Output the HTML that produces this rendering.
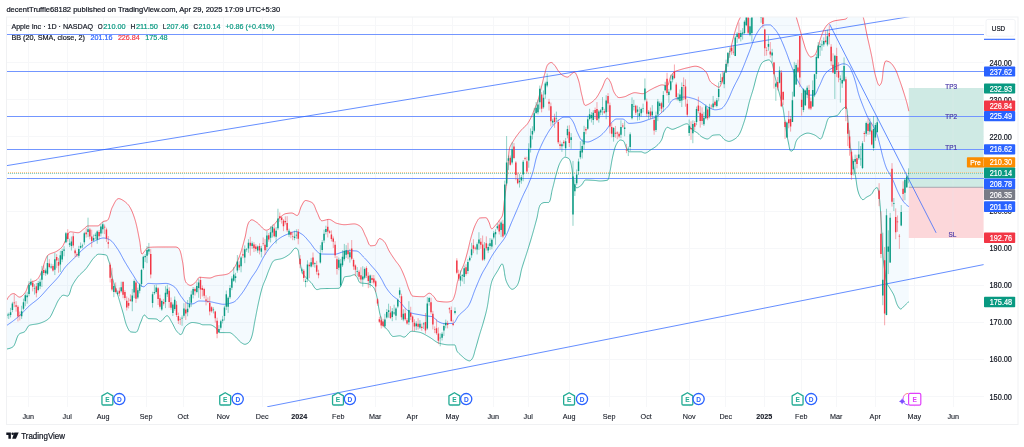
<!DOCTYPE html>
<html><head><meta charset="utf-8"><title>AAPL chart</title>
<style>
html,body{margin:0;padding:0;background:#fff;}
body{width:1024px;height:447px;overflow:hidden;font-family:"Liberation Sans",sans-serif;}
svg{display:block;will-change:transform;font-family:"Liberation Sans",sans-serif;}
text{white-space:pre;}
.k{stroke:#131722;stroke-width:0.22px;}
.k2{stroke:#131722;stroke-width:0.1px;}
</style></head><body>
<svg width="1024" height="447" viewBox="0 0 1024 447">
<defs>
<clipPath id="pane"><rect x="6.5" y="17" width="977.5" height="390"/></clipPath>
<linearGradient id="arcg" x1="0" y1="0" x2="0" y2="1"><stop offset="0" stop-color="#ff8a65"/><stop offset="0.35" stop-color="#e040fb"/><stop offset="1" stop-color="#7c4dff"/></linearGradient>
</defs>
<rect width="1024" height="447" fill="#fff"/>
<path d="M28.5 17V407M67.5 17V407M103.5 17V407M146.5 17V407M183.5 17V407M223.5 17V407M262.5 17V407M299.5 17V407M338.5 17V407M375.5 17V407M412.5 17V407M452.5 17V407M493.5 17V407M528.5 17V407M569.5 17V407M609.5 17V407M646.5 17V407M689.5 17V407M725.5 17V407M764.5 17V407M801.5 17V407M836.5 17V407M875.5 17V407M914.5 17V407M953.5 17V407M6.5 396.5H984M6.5 359.5H984M6.5 322.5H984M6.5 285.5H984M6.5 248.5H984M6.5 211.5H984M6.5 173.5H984M6.5 136.5H984M6.5 99.5H984M6.5 62.5H984M6.5 25.5H984" stroke="#f6f7f9" stroke-width="1" fill="none"/>
<g clip-path="url(#pane)">
<rect x="908.8" y="88" width="74.8" height="99.3" fill="#cfeae4"/>
<rect x="908.8" y="187.3" width="74.8" height="50.7" fill="#fcd7da"/>
<path d="M953 88V238" stroke="#e4e8ee" stroke-width="0.6" opacity="0.5"/>
<path d="M908.8 187.3H983.6" stroke="#9598a1" stroke-width="0.8"/>
<polygon points="6.8,300 7.47,298.7 8.16,297.55 8.86,296.55 9.58,295.69 10.31,294.99 11.06,294.43 11.82,294.01 12.59,293.74 13.38,293.61 14.18,293.68 15.02,294.09 15.88,294.75 16.77,295.51 17.65,296.25 18.51,296.82 19.35,297.09 20.18,297 21.02,296.65 21.87,296.09 22.7,295.38 23.5,294.57 24.24,293.71 24.91,292.87 25.48,292.08 25.97,291.26 26.39,290.33 26.76,289.34 27.1,288.3 27.43,287.27 27.78,286.26 28.15,285.31 28.56,284.44 29.05,283.7 29.63,283.1 30.38,282.59 31.27,282.15 32.26,281.75 33.3,281.37 34.33,280.99 35.32,280.59 36.22,280.13 36.98,279.61 37.6,278.99 38.19,278.28 38.75,277.48 39.28,276.63 39.78,275.72 40.25,274.77 40.7,273.81 41.12,272.84 41.52,271.88 41.9,270.94 42.26,270.02 42.59,269.08 42.88,268.12 43.16,267.16 43.42,266.19 43.68,265.21 43.95,264.24 44.23,263.27 44.53,262.32 44.86,261.38 45.22,260.44 45.59,259.46 45.99,258.46 46.42,257.48 46.89,256.58 47.4,255.78 47.97,255.14 48.64,254.61 49.44,254.16 50.33,253.76 51.3,253.39 52.31,253.05 53.33,252.7 54.35,252.34 55.33,251.95 56.24,251.51 57.08,251 57.93,250.46 58.78,249.87 59.61,249.25 60.4,248.6 61.15,247.91 61.84,247.2 62.45,246.47 62.98,245.68 63.45,244.82 63.87,243.91 64.28,242.97 64.68,242.03 65.1,241.1 65.56,240.19 66,239.18 66.44,238.08 66.87,236.92 67.3,235.77 67.76,234.67 68.23,233.68 68.74,232.85 69.29,232.23 69.88,231.87 70.55,231.81 71.36,231.87 72.31,231.99 73.35,232.15 74.44,232.32 75.55,232.49 76.63,232.61 77.64,232.69 78.56,232.66 79.43,232.39 80.28,231.91 81.11,231.28 81.92,230.56 82.73,229.83 83.54,229.14 84.35,228.53 85.14,227.78 85.92,227 86.71,226.33 87.53,225.94 88.42,225.9 89.37,225.9 90.37,225.9 91.41,225.9 92.46,225.9 93.52,225.9 94.57,225.9 95.6,225.9 96.58,225.9 97.51,225.9 98.37,225.78 99.17,225.33 99.93,224.65 100.68,223.84 101.43,223 102.2,222.22 103.02,221.62 103.92,221.28 104.99,221.07 106.06,220.89 106.91,220.65 107.48,220.26 107.98,219.72 108.42,219.03 108.81,218.22 109.17,217.31 109.49,216.31 109.79,215.25 110.09,214.15 110.38,213.02 110.67,211.89 110.98,210.77 111.32,209.69 111.68,208.66 112.09,207.71 112.55,206.82 113.04,205.84 113.55,204.79 114.09,203.71 114.65,202.64 115.24,201.62 115.84,200.69 116.47,199.88 117.12,199.24 117.78,198.8 118.46,198.61 119.19,198.65 120,198.86 120.88,199.19 121.81,199.64 122.76,200.19 123.71,200.81 124.65,201.48 125.55,202.18 126.39,202.9 127.15,203.61 127.81,204.3 128.38,204.98 128.94,205.7 129.47,206.48 129.98,207.3 130.47,208.16 130.94,209.05 131.4,209.97 131.83,210.92 132.25,211.88 132.65,212.86 133.03,213.84 133.4,214.83 133.75,215.82 134.09,216.8 134.41,217.77 134.71,218.72 135,219.66 135.28,220.6 135.55,221.56 135.81,222.51 136.06,223.47 136.3,224.44 136.53,225.41 136.76,226.39 136.98,227.36 137.19,228.34 137.39,229.33 137.6,230.31 137.8,231.3 137.99,232.29 138.19,233.28 138.38,234.27 138.57,235.26 138.76,236.25 138.95,237.23 139.14,238.22 139.34,239.2 139.54,240.19 139.73,241.2 139.91,242.32 140.07,243.54 140.22,244.81 140.36,246.12 140.5,247.42 140.65,248.7 140.8,249.91 140.96,251.03 141.14,252.03 141.34,252.87 141.57,253.54 141.83,253.99 142.12,254.19 142.51,253.99 143.12,253.2 143.83,252.18 144.53,251.27 145.18,250.44 145.85,249.53 146.54,248.65 147.26,247.93 148.02,247.48 148.83,247.36 149.71,247.3 150.63,247.24 151.6,247.19 152.61,247.14 153.64,247.1 154.69,247.07 155.75,247.05 156.81,247.03 157.86,247.01 158.9,247 159.92,247 160.92,247 161.93,247 162.95,247 163.97,247 164.99,247 166.01,247 167.03,247 168.05,247 169.06,247 170.07,247 171.07,247 172.06,247 173.05,247 174.02,247 174.97,247 175.92,247 176.94,247.25 177.93,247.76 178.65,248.35 179.11,248.95 179.53,249.65 179.91,250.44 180.25,251.31 180.56,252.25 180.84,253.25 181.1,254.28 181.34,255.35 181.57,256.44 181.78,257.54 181.98,258.63 182.17,259.71 182.36,260.76 182.55,261.77 182.74,262.75 182.91,263.76 183.06,264.79 183.19,265.83 183.32,266.89 183.43,267.96 183.53,269.03 183.63,270.11 183.73,271.18 183.83,272.24 183.93,273.29 184.04,274.33 184.16,275.34 184.3,276.33 184.45,277.3 184.61,278.23 184.8,279.12 185.01,279.97 185.25,280.78 185.52,281.54 185.95,282.33 186.63,283.17 187.46,283.97 188.39,284.66 189.33,285.16 190.23,285.39 191.07,285.3 191.96,284.95 192.86,284.42 193.75,283.77 194.6,283.08 195.37,282.44 196.06,281.66 196.68,280.69 197.27,279.66 197.85,278.69 198.46,277.89 199.13,277.4 199.88,277.3 200.72,277.33 201.64,277.39 202.62,277.48 203.65,277.57 204.7,277.68 205.78,277.78 206.85,277.87 207.91,277.94 208.94,277.99 209.93,278 210.89,277.86 211.83,277.55 212.77,277.14 213.7,276.7 214.65,276.3 215.6,276 216.58,275.8 217.58,275.62 218.6,275.47 219.63,275.34 220.66,275.22 221.69,275.11 222.71,274.99 223.71,274.85 224.69,274.7 225.64,274.52 226.56,274.31 227.43,274.06 228.29,273.69 229.14,273.18 229.97,272.57 230.77,271.87 231.53,271.12 232.24,270.35 232.89,269.58 233.48,268.84 234.03,268.06 234.55,267.25 235.06,266.4 235.54,265.52 236,264.62 236.44,263.7 236.87,262.76 237.28,261.82 237.67,260.87 238.06,259.91 238.43,258.97 238.8,258.03 239.15,257.1 239.5,256.17 239.84,255.24 240.16,254.3 240.48,253.36 240.8,252.41 241.1,251.46 241.4,250.5 241.69,249.54 241.98,248.58 242.26,247.62 242.53,246.65 242.81,245.68 243.08,244.72 243.34,243.75 243.61,242.78 243.87,241.81 244.13,240.84 244.39,239.87 244.65,238.9 244.92,237.94 245.16,236.96 245.39,235.95 245.6,234.93 245.8,233.89 245.99,232.85 246.17,231.8 246.36,230.76 246.55,229.72 246.74,228.7 246.96,227.7 247.19,226.72 247.44,225.77 247.72,224.86 248.03,223.98 248.37,223.16 248.76,222.38 249.29,221.58 250.05,220.74 250.92,220.07 251.79,219.8 252.64,219.94 253.53,220.32 254.45,220.86 255.36,221.47 256.24,222.07 257.08,222.62 257.9,223.27 258.7,224.01 259.48,224.81 260.26,225.64 261.03,226.48 261.79,227.3 262.55,228.07 263.31,228.76 264.07,229.35 264.84,229.8 265.61,230.09 266.39,230.2 267.19,230.09 268,229.78 268.83,229.31 269.65,228.7 270.48,228 271.29,227.23 272.09,226.42 272.87,225.62 273.63,224.86 274.35,224.15 275.04,223.44 275.69,222.67 276.31,221.87 276.92,221.06 277.54,220.25 278.16,219.46 278.81,218.69 279.48,217.98 280.21,217.32 280.97,216.65 281.76,215.96 282.58,215.3 283.43,214.69 284.3,214.18 285.19,213.79 286.09,213.57 287.05,213.41 288.05,213.27 289.08,213.15 290.1,213.06 291.11,213.01 292.07,213.02 293.06,213.32 294.06,213.86 295.03,214.51 295.92,215.09 296.69,215.45 297.3,215.46 297.82,215.13 298.29,214.54 298.71,213.72 299.1,212.74 299.46,211.63 299.82,210.44 300.19,209.24 300.57,208.06 300.99,206.95 301.45,205.97 301.95,205.07 302.48,204.05 303.04,202.98 303.63,201.99 304.26,201.18 304.93,200.65 305.64,200.5 306.5,200.59 307.5,200.8 308.57,201.1 309.65,201.47 310.67,201.9 311.58,202.35 312.31,202.81 312.9,203.34 313.43,204.02 313.91,204.81 314.35,205.7 314.77,206.66 315.16,207.67 315.55,208.71 315.94,209.75 316.35,210.76 316.77,211.74 317.23,212.66 317.69,213.62 318.14,214.7 318.59,215.84 319.04,216.99 319.51,218.07 320,219.05 320.52,219.87 321.09,220.46 321.71,220.77 322.41,220.77 323.26,220.62 324.23,220.38 325.27,220.09 326.35,219.8 327.42,219.56 328.44,219.42 329.39,219.43 330.3,219.66 331.19,220.06 332.07,220.58 332.94,221.18 333.82,221.79 334.7,222.37 335.6,222.88 336.52,223.25 337.46,223.5 338.43,223.76 339.41,224 340.4,224.22 341.39,224.41 342.39,224.56 343.39,224.66 344.39,224.7 345.38,224.68 346.38,224.62 347.39,224.53 348.4,224.42 349.41,224.3 350.42,224.18 351.42,224.07 352.41,223.98 353.39,223.92 354.35,223.9 355.34,224 356.36,224.26 357.37,224.64 358.33,225.11 359.22,225.62 359.99,226.14 360.63,226.68 361.22,227.32 361.76,228.06 362.27,228.88 362.74,229.77 363.19,230.7 363.62,231.68 364.04,232.68 364.46,233.68 364.88,234.67 365.32,235.64 365.77,236.57 366.25,237.48 366.7,238.5 367.12,239.62 367.54,240.78 367.97,241.93 368.41,243.02 368.87,244 369.37,244.82 369.92,245.42 370.53,245.75 371.25,245.79 372.25,245.73 373.37,245.62 374.4,245.48 375.19,245.24 375.85,244.63 376.43,243.71 376.97,242.6 377.48,241.43 377.99,240.32 378.53,239.39 379.13,238.78 379.81,238.6 380.64,238.84 381.58,239.33 382.52,239.98 383.34,240.66 383.99,241.3 384.58,242.01 385.12,242.79 385.62,243.63 386.09,244.52 386.54,245.44 386.97,246.38 387.4,247.34 387.83,248.3 388.27,249.26 388.72,250.19 389.2,251.09 389.71,251.95 390.24,252.8 390.77,253.65 391.31,254.49 391.85,255.33 392.41,256.17 392.96,257 393.52,257.83 394.09,258.65 394.66,259.48 395.23,260.3 395.81,261.11 396.42,261.91 397.04,262.7 397.67,263.49 398.29,264.29 398.88,265.09 399.45,265.91 399.97,266.75 400.45,267.61 400.92,268.48 401.37,269.37 401.8,270.27 402.22,271.18 402.63,272.1 403.03,273.02 403.42,273.95 403.8,274.89 404.18,275.82 404.56,276.75 404.93,277.68 405.29,278.61 405.64,279.55 405.97,280.5 406.29,281.45 406.6,282.41 406.91,283.37 407.21,284.32 407.52,285.28 407.84,286.23 408.16,287.18 408.5,288.12 408.86,289.05 409.23,289.97 409.63,290.88 410.05,291.81 410.49,292.87 410.96,293.97 411.48,294.96 412.04,295.71 412.66,296.09 413.37,296.2 414.21,296.3 415.15,296.39 416.16,296.47 417.23,296.53 418.34,296.58 419.45,296.63 420.56,296.66 421.64,296.68 422.66,296.7 423.6,296.69 424.51,296.41 425.39,295.84 426.26,295.11 427.11,294.36 427.95,293.7 428.78,293.29 429.6,293.22 430.42,293.51 431.24,294.05 432.05,294.78 432.83,295.59 433.57,296.42 434.27,297.17 434.88,298.04 435.44,299.03 435.99,299.98 436.59,300.71 437.28,301.05 438.08,301.23 438.97,301.4 439.94,301.54 440.96,301.67 442.02,301.78 443.1,301.86 444.18,301.93 445.25,301.97 446.29,302 447.3,301.99 448.37,301.9 449.46,301.72 450.49,301.48 451.37,301.19 452.04,300.85 452.61,300.26 453.12,299.43 453.58,298.44 453.99,297.36 454.35,296.29 454.67,295.28 454.96,294.35 455.21,293.39 455.45,292.43 455.66,291.46 455.85,290.48 456.04,289.49 456.21,288.5 456.39,287.5 456.56,286.5 456.74,285.51 456.92,284.52 457.12,283.53 457.34,282.55 457.58,281.58 457.84,280.62 458.11,279.66 458.39,278.7 458.69,277.75 458.99,276.79 459.31,275.84 459.63,274.89 459.97,273.95 460.3,273 460.65,272.06 461,271.12 461.35,270.19 461.71,269.26 462.11,268.34 462.53,267.43 462.95,266.52 463.36,265.6 463.74,264.68 464.09,263.75 464.41,262.8 464.72,261.86 465.02,260.9 465.31,259.95 465.59,258.98 465.86,258.02 466.13,257.05 466.39,256.09 466.65,255.12 466.91,254.15 467.16,253.18 467.42,252.21 467.68,251.25 467.92,250.28 468.16,249.3 468.4,248.33 468.63,247.36 468.85,246.38 469.08,245.4 469.3,244.43 469.53,243.45 469.76,242.48 470,241.5 470.23,240.53 470.48,239.56 470.74,238.6 471,237.64 471.28,236.68 471.56,235.72 471.84,234.76 472.13,233.79 472.42,232.82 472.72,231.85 473.03,230.88 473.35,229.91 473.67,228.95 474.01,228 474.37,227.07 474.74,226.14 475.13,225.23 475.53,224.33 475.96,223.46 476.42,222.58 476.92,221.6 477.46,220.57 478.06,219.6 478.71,218.78 479.4,218.21 480.15,217.98 481.05,217.9 482.11,217.82 483.24,217.77 484.33,217.73 485.32,217.7 486.1,217.72 486.77,218.14 487.37,218.95 487.93,219.98 488.44,221.07 488.92,222.03 489.35,223.03 489.73,224.19 490.09,225.42 490.43,226.59 490.78,227.61 491.18,228.38 491.62,228.77 492.17,228.7 492.84,228.22 493.59,227.47 494.38,226.56 495.14,225.65 495.84,224.85 496.49,224.09 497.13,223.32 497.75,222.54 498.36,221.74 498.95,220.93 499.53,220.11 500.11,219.29 500.72,218.45 501.32,217.61 501.86,216.75 502.28,215.87 502.56,214.96 502.76,214.04 502.95,213.1 503.12,212.14 503.26,211.16 503.4,210.18 503.52,209.18 503.63,208.17 503.73,207.16 503.83,206.14 503.93,205.13 504.02,204.11 504.12,203.09 504.21,202.07 504.32,201.06 504.43,200.06 504.55,199.06 504.68,198.07 504.81,197.08 504.94,196.09 505.07,195.1 505.19,194.1 505.32,193.11 505.45,192.12 505.58,191.13 505.7,190.13 505.82,189.14 505.94,188.15 506.06,187.15 506.17,186.16 506.28,185.17 506.38,184.17 506.48,183.18 506.58,182.18 506.67,181.19 506.76,180.19 506.85,179.19 506.93,178.2 507.02,177.2 507.1,176.2 507.18,175.21 507.26,174.21 507.34,173.21 507.42,172.21 507.5,171.22 507.57,170.22 507.65,169.22 507.73,168.22 507.81,167.23 507.9,166.23 507.98,165.23 508.06,164.24 508.14,163.23 508.21,162.22 508.28,161.21 508.34,160.19 508.4,159.18 508.47,158.16 508.53,157.15 508.6,156.14 508.68,155.13 508.76,154.13 508.85,153.14 508.95,152.15 509.06,151.18 509.19,150.21 509.33,149.26 509.49,148.32 509.76,147.4 510.12,146.48 510.56,145.58 511.05,144.68 511.58,143.79 512.13,142.91 512.67,142.04 513.2,141.18 513.7,140.32 514.23,139.47 514.78,138.63 515.34,137.8 515.91,136.98 516.49,136.16 517.08,135.36 517.68,134.56 518.29,133.76 518.9,132.97 519.53,132.18 520.16,131.41 520.81,130.64 521.47,129.89 522.14,129.15 522.84,128.44 523.59,127.76 524.34,127.08 525.1,126.41 525.82,125.72 526.5,125 527.12,124.24 527.69,123.44 528.24,122.61 528.76,121.76 529.26,120.88 529.74,119.99 530.21,119.09 530.66,118.19 531.1,117.3 531.53,116.4 531.94,115.49 532.33,114.57 532.72,113.65 533.1,112.72 533.47,111.79 533.84,110.86 534.21,109.92 534.59,109 534.97,108.07 535.36,107.15 535.77,106.23 536.18,105.31 536.58,104.39 536.96,103.47 537.31,102.54 537.63,101.6 537.93,100.65 538.22,99.7 538.5,98.74 538.76,97.77 539.02,96.8 539.26,95.83 539.51,94.86 539.75,93.89 539.98,92.91 540.22,91.94 540.46,90.96 540.7,89.99 540.94,89.02 541.19,88.05 541.43,87.08 541.67,86.11 541.91,85.13 542.14,84.16 542.37,83.18 542.6,82.21 542.83,81.23 543.06,80.26 543.29,79.29 543.53,78.32 543.77,77.35 544.02,76.38 544.28,75.41 544.54,74.45 544.82,73.49 545.09,72.52 545.35,71.5 545.61,70.45 545.88,69.4 546.16,68.36 546.46,67.36 546.8,66.42 547.18,65.56 547.61,64.8 548.13,64.14 548.93,63.46 549.89,62.88 550.85,62.54 551.69,62.59 552.51,63.06 553.3,63.8 554.05,64.65 554.74,65.44 555.35,66.2 555.91,67.02 556.44,67.88 556.95,68.76 557.47,69.63 558.02,70.47 558.62,71.27 559.25,72.05 559.91,72.84 560.6,73.61 561.32,74.32 562.09,74.93 562.9,75.43 563.8,75.93 564.76,76.4 565.74,76.78 566.7,77.03 567.59,77.09 568.42,76.78 569.22,76.16 570,75.38 570.79,74.62 571.6,73.97 572.48,73.24 573.34,72.56 574.1,72.21 574.73,72.34 575.33,72.85 575.89,73.64 576.42,74.63 576.91,75.74 577.35,76.89 577.75,78.01 578.1,79 578.42,79.92 578.7,80.86 578.97,81.81 579.21,82.77 579.44,83.73 579.66,84.71 579.86,85.7 580.06,86.69 580.25,87.68 580.44,88.68 580.63,89.67 580.82,90.67 581.02,91.66 581.24,92.65 581.46,93.63 581.7,94.6 581.96,95.57 582.23,96.58 582.49,97.73 582.76,98.96 583.02,100.22 583.31,101.45 583.61,102.6 583.95,103.62 584.31,104.46 584.73,105.06 585.19,105.37 585.76,105.35 586.6,105.08 587.6,104.65 588.65,104.13 589.62,103.6 590.47,103.1 591.3,102.55 592.13,101.95 592.93,101.31 593.7,100.64 594.44,99.94 595.13,99.23 595.78,98.51 596.38,97.76 596.96,96.97 597.51,96.14 598.03,95.3 598.54,94.43 599.04,93.54 599.52,92.64 600,91.74 600.48,90.84 600.96,89.95 601.45,89.07 601.94,88.17 602.42,87.15 602.88,86.04 603.34,84.89 603.79,83.72 604.25,82.57 604.7,81.47 605.16,80.48 605.64,79.61 606.12,78.9 606.62,78.4 607.14,78.13 607.7,78.18 608.33,78.71 609,79.59 609.64,80.63 610.21,81.64 610.66,82.52 611.06,83.43 611.41,84.37 611.72,85.34 612.02,86.33 612.3,87.33 612.58,88.32 612.88,89.3 613.2,90.26 613.55,91.18 613.95,92.06 614.41,92.88 614.95,93.77 615.56,94.72 616.25,95.65 616.99,96.48 617.77,97.13 618.58,97.52 619.41,97.59 620.32,97.53 621.32,97.4 622.35,97.21 623.39,96.99 624.4,96.75 625.35,96.49 626.26,96.1 627.15,95.61 628.03,95.11 628.94,94.68 629.87,94.28 630.8,93.85 631.75,93.44 632.7,93.08 633.66,92.82 634.62,92.7 635.6,92.73 636.59,92.84 637.6,92.99 638.61,93.18 639.62,93.37 640.62,93.53 641.6,93.65 642.56,93.7 643.49,93.61 644.4,93.35 645.3,92.96 646.19,92.46 647.07,91.89 647.95,91.3 648.83,90.71 649.72,90.17 650.61,89.69 651.5,89.24 652.39,88.77 653.28,88.3 654.17,87.85 655.07,87.41 655.98,87.01 656.91,86.62 657.84,86.19 658.78,85.76 659.73,85.38 660.69,85.09 661.65,84.92 662.63,84.93 663.72,85.12 664.83,85.41 665.86,85.69 666.7,85.87 667.29,85.85 667.77,85.5 668.18,84.87 668.53,84.01 668.85,82.98 669.15,81.82 669.45,80.6 669.75,79.36 670.08,78.16 670.46,77.06 670.89,76.11 671.39,75.23 671.94,74.33 672.54,73.47 673.19,72.72 673.89,72.14 674.67,71.67 675.52,71.25 676.45,70.88 677.42,70.54 678.42,70.22 679.43,69.93 680.43,69.64 681.41,69.36 682.37,69.07 683.33,68.8 684.3,68.54 685.27,68.29 686.24,68.06 687.22,67.83 688.2,67.61 689.18,67.37 690.16,67.12 691.15,66.87 692.14,66.64 693.12,66.44 694.11,66.29 695.08,66.21 696.05,66.22 697.04,66.36 698.03,66.61 699.01,66.96 699.96,67.36 700.87,67.79 701.72,68.22 702.55,68.73 703.37,69.33 704.16,70.02 704.9,70.75 705.58,71.52 706.19,72.3 706.71,73.09 707.17,73.96 707.56,74.89 707.93,75.86 708.27,76.85 708.61,77.85 708.96,78.82 709.35,79.75 709.79,80.61 710.3,81.4 710.91,82.11 711.62,82.79 712.41,83.43 713.25,84.04 714.12,84.61 714.98,85.16 715.86,85.72 716.83,86.32 717.8,86.87 718.65,87.22 719.31,87.27 719.86,86.86 720.35,86.07 720.79,85.04 721.19,83.86 721.57,82.68 721.92,81.61 722.27,80.68 722.59,79.74 722.91,78.8 723.21,77.85 723.5,76.9 723.78,75.94 724.05,74.98 724.32,74.01 724.57,73.04 724.82,72.07 725.07,71.09 725.31,70.12 725.56,69.14 725.8,68.16 726.04,67.19 726.28,66.21 726.53,65.24 726.78,64.27 727.03,63.3 727.28,62.33 727.53,61.36 727.78,60.39 728.02,59.43 728.27,58.45 728.51,57.48 728.75,56.51 728.99,55.54 729.23,54.57 729.47,53.6 729.7,52.63 729.94,51.66 730.18,50.68 730.42,49.71 730.66,48.74 730.91,47.77 731.15,46.8 731.38,45.83 731.62,44.85 731.85,43.88 732.08,42.91 732.31,41.93 732.54,40.96 732.78,39.98 733.01,39.01 733.25,38.04 733.5,37.07 733.75,36.1 734,35.14 734.26,34.17 734.53,33.21 734.8,32.25 735.08,31.29 735.36,30.33 735.65,29.37 735.95,28.41 736.25,27.45 736.56,26.5 736.87,25.55 737.2,24.6 737.54,23.66 737.88,22.72 738.24,21.79 738.61,20.87 739.03,19.96 739.48,19.06 739.94,18.17 740.38,17.27 740.77,16.36 741.14,15.42 741.48,14.48 741.82,13.52 742.14,12.56 742.46,11.6 742.77,10.63 743.09,9.68 743.43,8.73 743.77,7.79 744.14,6.87 744.53,5.97 744.95,5.1 745.4,4.22 745.87,3.32 746.37,2.41 746.89,1.48 747.43,0.54 747.99,-0.38 748.57,-1.3 749.18,-2.2 749.8,-3.07 750.44,-3.91 751.09,-4.7 751.77,-5.45 752.46,-6.14 753.16,-6.76 753.88,-7.32 754.62,-7.79 755.38,-8.19 756.18,-8.58 757.04,-8.96 757.95,-9.33 758.89,-9.69 759.86,-10.04 760.87,-10.36 761.89,-10.67 762.92,-10.96 763.96,-11.21 765,-11.44 766.03,-11.63 767.05,-11.79 768.06,-11.9 769.03,-11.97 769.97,-12 770.9,-11.96 771.84,-11.82 772.79,-11.61 773.75,-11.32 774.7,-10.97 775.65,-10.56 776.6,-10.09 777.54,-9.57 778.46,-9.02 779.37,-8.43 780.26,-7.82 781.12,-7.19 781.96,-6.55 782.77,-5.91 783.55,-5.26 784.28,-4.63 784.98,-4.01 785.65,-3.38 786.31,-2.7 786.95,-1.97 787.58,-1.21 788.18,-0.4 788.78,0.43 789.35,1.29 789.9,2.17 790.44,3.06 790.96,3.97 791.45,4.88 791.93,5.8 792.38,6.71 792.82,7.61 793.23,8.5 793.61,9.41 793.97,10.33 794.32,11.27 794.65,12.22 794.97,13.18 795.28,14.14 795.59,15.1 795.9,16.06 796.2,17.01 796.51,17.96 796.81,18.91 797.1,19.87 797.39,20.83 797.67,21.79 797.95,22.75 798.23,23.71 798.51,24.67 798.79,25.63 799.07,26.59 799.35,27.55 799.62,28.52 799.89,29.48 800.16,30.44 800.43,31.41 800.69,32.37 800.96,33.34 801.23,34.3 801.49,35.27 801.77,36.23 802.04,37.19 802.32,38.15 802.6,39.11 802.9,40.06 803.19,41.02 803.48,41.99 803.76,42.96 804.04,43.94 804.33,44.92 804.62,45.9 804.92,46.87 805.23,47.83 805.56,48.77 805.92,49.7 806.29,50.61 806.69,51.49 807.13,52.35 807.63,53.32 808.19,54.37 808.82,55.36 809.48,56.21 810.19,56.79 810.92,57 811.78,56.83 812.78,56.41 813.76,55.84 814.58,55.22 815.15,54.58 815.63,53.82 816.06,52.93 816.45,51.97 816.8,50.96 817.13,49.93 817.46,48.92 817.78,47.96 818.1,47.01 818.39,46.06 818.67,45.1 818.94,44.13 819.2,43.17 819.46,42.2 819.73,41.23 820.01,40.27 820.3,39.31 820.61,38.36 820.93,37.42 821.26,36.46 821.59,35.5 821.93,34.55 822.28,33.6 822.65,32.66 823.03,31.73 823.43,30.81 823.85,29.92 824.31,29.05 824.79,28.2 825.33,27.34 825.91,26.49 826.54,25.66 827.21,24.9 827.91,24.21 828.64,23.62 829.44,23.07 830.31,22.55 831.22,22.07 832.16,21.63 833.11,21.26 834.07,20.96 835.02,20.73 835.99,20.54 836.98,20.38 837.98,20.24 838.98,20.09 839.97,19.94 840.98,19.78 842.03,19.65 843.09,19.52 844.11,19.38 845.07,19.19 845.91,18.93 846.62,18.4 847.25,17.52 847.83,16.67 848.37,15.78 848.87,14.83 849.35,13.85 849.83,12.89 850.32,11.97 850.85,11.15 851.44,10.46 852.1,9.94 852.92,9.48 853.89,9.05 854.94,8.65 856.01,8.33 857,8.1 857.86,8 858.58,8.19 859.24,8.84 859.85,9.79 860.4,10.84 860.91,11.84 861.38,12.71 861.82,13.61 862.23,14.53 862.61,15.47 862.95,16.42 863.25,17.36 863.52,18.31 863.78,19.27 864.03,20.23 864.26,21.2 864.48,22.17 864.69,23.15 864.89,24.13 865.08,25.11 865.27,26.1 865.46,27.09 865.64,28.08 865.82,29.07 866,30.06 866.19,31.05 866.38,32.03 866.57,33.02 866.77,34 866.97,34.98 867.19,35.96 867.4,36.94 867.62,37.91 867.84,38.89 868.06,39.86 868.28,40.84 868.5,41.82 868.72,42.79 868.94,43.77 869.16,44.74 869.38,45.72 869.6,46.69 869.82,47.67 870.04,48.65 870.26,49.62 870.48,50.6 870.69,51.58 870.91,52.55 871.12,53.53 871.33,54.51 871.54,55.49 871.74,56.47 871.94,57.45 872.12,58.44 872.31,59.43 872.48,60.42 872.66,61.41 872.83,62.4 873,63.39 873.17,64.38 873.34,65.38 873.52,66.37 873.69,67.36 873.88,68.35 874.06,69.33 874.25,70.31 874.45,71.29 874.66,72.27 874.87,73.24 875.1,74.21 875.34,75.17 875.59,76.13 875.85,77.08 876.13,78.04 876.44,79.14 876.78,80.34 877.16,81.56 877.56,82.73 877.98,83.79 878.42,84.65 878.87,85.24 879.33,85.5 879.86,85.24 880.5,84.43 881.1,83.35 881.54,82.29 881.79,81.37 882,80.45 882.17,79.49 882.32,78.52 882.45,77.53 882.57,76.53 882.67,75.52 882.76,74.5 882.85,73.47 882.95,72.45 883.05,71.42 883.16,70.41 883.29,69.4 883.44,68.4 883.61,67.42 883.81,66.45 884.05,65.36 884.33,64.14 884.67,62.93 885.05,61.89 885.5,61.16 886.02,60.9 886.81,61.04 887.87,61.36 888.93,61.77 889.76,62.21 890.52,62.75 891.25,63.41 891.94,64.16 892.6,64.97 893.23,65.84 893.81,66.72 894.36,67.61 894.87,68.48 895.34,69.32 895.79,70.19 896.21,71.08 896.6,71.99 896.98,72.92 897.35,73.86 897.7,74.81 898.04,75.77 898.38,76.73 898.71,77.69 899.05,78.64 899.39,79.59 899.73,80.53 900.07,81.47 900.4,82.41 900.73,83.35 901.06,84.3 901.38,85.25 901.7,86.19 902.02,87.14 902.33,88.09 902.64,89.05 902.95,90 903.26,90.95 903.56,91.9 903.86,92.86 904.16,93.81 904.46,94.77 904.76,95.72 905.06,96.68 905.35,97.63 905.64,98.59 905.93,99.55 906.21,100.51 906.49,101.47 906.76,102.44 907.02,103.4 907.27,104.37 907.51,105.34 907.74,106.31 907.97,107.28 908.19,108.26 908.4,109.24 908.6,110.22 908.8,111.2 908.8,301.6 908.09,302.31 907.38,303.01 906.66,303.71 905.93,304.39 905.2,305.07 904.45,305.74 903.69,306.51 902.91,307.37 902.13,308.16 901.36,308.76 900.63,309 899.91,308.73 899.19,308.02 898.51,307.06 897.92,306.08 897.44,305.23 897.02,304.36 896.65,303.46 896.31,302.52 895.99,301.56 895.69,300.59 895.4,299.61 895.1,298.63 894.8,297.65 894.47,296.69 894.12,295.75 893.72,294.84 893.29,293.95 892.81,293.07 892.31,292.21 891.79,291.35 891.27,290.49 890.73,289.64 890.21,288.78 889.69,287.92 889.14,287.07 888.55,286.23 887.98,285.38 887.46,284.52 887.05,283.64 886.77,282.73 886.53,281.79 886.32,280.83 886.13,279.86 885.96,278.87 885.81,277.87 885.66,276.87 885.53,275.86 885.39,274.85 885.26,273.84 885.12,272.84 884.98,271.84 884.83,270.85 884.67,269.86 884.52,268.88 884.37,267.89 884.22,266.89 884.07,265.9 883.92,264.91 883.78,263.92 883.65,262.93 883.52,261.94 883.39,260.94 883.28,259.95 883.18,258.96 883.08,257.96 883,256.97 882.92,255.97 882.85,254.98 882.79,253.98 882.72,252.98 882.66,251.98 882.61,250.99 882.56,249.99 882.5,248.99 882.45,247.99 882.41,246.99 882.36,245.99 882.31,244.99 882.27,243.99 882.22,242.99 882.18,241.99 882.13,240.99 882.08,239.99 882.03,238.99 881.98,237.99 881.93,236.99 881.88,235.99 881.83,234.99 881.78,233.99 881.73,232.99 881.68,231.99 881.63,230.99 881.58,230 881.53,229 881.48,228 881.43,227 881.38,226 881.33,225 881.28,224 881.22,223 881.17,222 881.11,221 881.05,220.01 881,219.01 880.94,218.01 880.89,217.01 880.83,216.01 880.77,215.01 880.71,214.01 880.65,213.01 880.59,212.01 880.53,211.01 880.46,210.02 880.39,209.02 880.32,208.02 880.25,207.02 880.17,206.03 880.09,205.03 880,204.03 879.92,203.03 879.84,202.03 879.75,201.02 879.66,200.02 879.56,199.02 879.45,198.02 879.34,197.02 879.22,196.02 879.09,195.03 878.94,194.05 878.79,193.07 878.61,192.1 878.42,191.1 878.18,189.9 877.86,188.7 877.46,187.84 876.95,187.62 876.03,188.04 875.13,188.65 874.49,189.33 873.93,190.16 873.42,191.07 872.93,192.02 872.42,192.94 871.87,193.77 871.23,194.47 870.47,195.04 869.63,195.56 868.73,196.04 867.81,196.51 866.9,196.99 866.05,197.55 865.2,198.26 864.36,198.99 863.55,199.53 862.77,199.69 861.99,199.25 861.24,198.4 860.61,197.48 860.13,196.66 859.69,195.8 859.28,194.89 858.9,193.94 858.56,192.97 858.25,191.99 857.97,191 857.72,190.02 857.5,189.06 857.3,188.09 857.12,187.11 856.95,186.13 856.8,185.14 856.65,184.15 856.52,183.15 856.38,182.15 856.25,181.16 856.11,180.16 855.96,179.17 855.81,178.18 855.65,177.19 855.47,176.2 855.3,175.22 855.12,174.23 854.94,173.25 854.75,172.27 854.56,171.29 854.37,170.3 854.18,169.32 853.99,168.34 853.8,167.36 853.62,166.37 853.43,165.39 853.24,164.41 853.06,163.42 852.88,162.44 852.71,161.45 852.54,160.47 852.36,159.48 852.18,158.5 852,157.51 851.82,156.53 851.64,155.54 851.46,154.56 851.28,153.57 851.11,152.58 850.93,151.6 850.77,150.61 850.6,149.62 850.45,148.64 850.3,147.65 850.16,146.66 850.03,145.67 849.9,144.68 849.79,143.69 849.68,142.69 849.58,141.7 849.49,140.71 849.4,139.71 849.32,138.71 849.24,137.72 849.16,136.72 849.09,135.72 849.02,134.72 848.95,133.72 848.88,132.72 848.81,131.72 848.75,130.72 848.68,129.72 848.61,128.73 848.54,127.73 848.46,126.73 848.39,125.73 848.31,124.73 848.22,123.74 848.13,122.74 848.04,121.74 847.94,120.75 847.83,119.73 847.73,118.59 847.64,117.37 847.54,116.08 847.44,114.77 847.34,113.45 847.23,112.17 847.1,110.95 846.96,109.83 846.81,108.83 846.63,107.99 846.43,107.33 846.21,106.89 845.95,106.71 845.54,106.84 844.79,107.32 843.85,108.03 842.88,108.82 842.04,109.57 841.35,110.29 840.72,111.13 840.12,112.03 839.53,112.93 838.94,113.79 838.31,114.55 837.63,115.17 836.88,115.6 835.97,115.91 834.93,116.16 833.81,116.36 832.69,116.55 831.6,116.74 830.62,116.96 829.79,117.24 829.17,117.59 828.67,118.08 828.21,118.71 827.8,119.47 827.42,120.34 827.08,121.29 826.75,122.31 826.44,123.38 826.14,124.49 825.85,125.61 825.54,126.72 825.23,127.81 824.9,128.86 824.54,129.85 824.16,130.81 823.8,131.9 823.44,133.09 823.08,134.3 822.71,135.49 822.32,136.59 821.91,137.54 821.47,138.28 820.98,138.75 820.45,138.9 819.81,138.7 819.06,138.23 818.23,137.59 817.34,136.85 816.42,136.11 815.49,135.46 814.58,134.99 813.66,134.62 812.71,134.25 811.74,133.89 810.75,133.58 809.76,133.33 808.79,133.16 807.83,133.1 806.88,133.17 805.91,133.37 804.93,133.69 803.96,134.1 803.01,134.58 802.1,135.1 801.22,135.65 800.41,136.21 799.66,136.76 798.93,137.42 798.23,138.17 797.57,138.98 796.98,139.83 796.46,140.69 796.04,141.56 795.7,142.52 795.42,143.54 795.17,144.6 794.93,145.66 794.69,146.7 794.41,147.69 794.09,148.59 793.69,149.38 793.16,150.05 792.2,150.71 791.25,151.15 790.73,151.12 790.32,150.69 789.97,149.93 789.66,148.93 789.39,147.76 789.15,146.5 788.93,145.23 788.71,144.03 788.49,142.97 788.28,142 788.07,141.03 787.88,140.05 787.69,139.07 787.51,138.09 787.33,137.1 787.16,136.11 787,135.13 786.84,134.14 786.68,133.15 786.53,132.16 786.37,131.16 786.22,130.17 786.08,129.18 785.93,128.19 785.78,127.2 785.63,126.21 785.47,125.22 785.32,124.23 785.18,123.24 785.04,122.25 784.91,121.26 784.77,120.26 784.65,119.27 784.52,118.28 784.39,117.28 784.26,116.29 784.13,115.3 783.99,114.31 783.86,113.32 783.71,112.33 783.56,111.34 783.41,110.35 783.24,109.37 783.07,108.38 782.88,107.4 782.68,106.42 782.45,105.45 782.22,104.48 781.98,103.5 781.73,102.53 781.49,101.56 781.25,100.59 781,99.62 780.75,98.66 780.49,97.69 780.23,96.72 779.97,95.76 779.71,94.79 779.45,93.82 779.19,92.86 778.92,91.89 778.66,90.93 778.4,89.96 778.15,88.99 777.89,88.03 777.64,87.06 777.39,86.09 777.13,85.12 776.88,84.15 776.63,83.19 776.38,82.22 776.13,81.25 775.89,80.28 775.64,79.31 775.4,78.34 775.16,77.37 774.92,76.4 774.68,75.42 774.46,74.44 774.26,73.43 774.07,72.41 773.89,71.38 773.72,70.35 773.54,69.33 773.35,68.31 773.15,67.31 772.93,66.33 772.69,65.39 772.41,64.47 772.1,63.6 771.74,62.77 771.22,61.85 770.52,60.92 769.73,60.2 768.91,59.9 768.04,59.97 767.03,60.18 765.96,60.5 764.92,60.89 763.96,61.33 763.16,61.79 762.54,62.29 761.96,62.92 761.42,63.67 760.93,64.52 760.46,65.45 760.02,66.43 759.61,67.46 759.22,68.5 758.84,69.53 758.49,70.54 758.14,71.5 757.8,72.43 757.48,73.36 757.17,74.31 756.88,75.26 756.6,76.21 756.33,77.18 756.07,78.14 755.81,79.11 755.56,80.08 755.32,81.06 755.07,82.04 754.83,83.01 754.59,83.99 754.34,84.97 754.09,85.94 753.84,86.91 753.57,87.88 753.3,88.84 753.02,89.8 752.73,90.76 752.44,91.72 752.14,92.67 751.84,93.63 751.53,94.58 751.23,95.54 750.93,96.49 750.63,97.45 750.34,98.4 750.05,99.36 749.77,100.32 749.5,101.28 749.23,102.24 748.99,103.21 748.75,104.18 748.51,105.16 748.29,106.13 748.07,107.11 747.85,108.08 747.63,109.06 747.4,110.04 747.17,111.01 746.94,111.98 746.7,112.95 746.44,113.92 746.18,114.89 745.92,115.85 745.65,116.82 745.37,117.78 745.09,118.74 744.8,119.7 744.5,120.66 744.2,121.61 743.89,122.56 743.57,123.5 743.24,124.45 742.92,125.41 742.59,126.38 742.26,127.36 741.91,128.33 741.56,129.29 741.19,130.24 740.81,131.18 740.4,132.09 739.98,132.98 739.52,133.85 739.04,134.67 738.52,135.46 737.91,136.25 737.23,137.01 736.48,137.73 735.69,138.39 734.89,138.95 734.05,139.45 733.16,139.97 732.23,140.46 731.27,140.88 730.31,141.2 729.35,141.38 728.4,141.36 727.43,141.12 726.47,140.73 725.54,140.28 724.68,139.81 723.9,139.17 723.16,138.36 722.45,137.46 721.75,136.58 721.04,135.79 720.3,135.19 719.5,134.84 718.63,134.8 717.67,134.83 716.64,134.89 715.59,134.96 714.55,135.06 713.57,135.17 712.66,135.38 711.8,135.88 710.97,136.58 710.16,137.36 709.35,138.1 708.52,138.68 707.67,138.98 706.77,138.95 705.83,138.74 704.86,138.4 703.9,137.96 702.96,137.47 702.06,136.97 701.23,136.46 700.47,135.85 699.74,135.15 699.03,134.42 698.3,133.71 697.53,133.07 696.71,132.5 695.86,131.96 694.99,131.44 694.12,130.92 693.27,130.38 692.45,129.82 691.69,129.2 690.99,128.42 690.33,127.48 689.71,126.49 689.09,125.53 688.45,124.7 687.78,124.09 687.06,123.81 686.28,123.85 685.43,124.03 684.54,124.33 683.61,124.72 682.65,125.17 681.67,125.65 680.69,126.14 679.71,126.62 678.75,127.05 677.8,127.41 676.86,127.82 675.91,128.25 674.96,128.66 674.01,129.01 673.06,129.24 672.12,129.29 671.15,129.04 670.16,128.56 669.19,128 668.28,127.52 667.48,127.3 666.77,127.53 666.11,128.23 665.51,129.2 664.97,130.27 664.5,131.25 664.1,132.14 663.76,133.07 663.45,134.04 663.17,135.02 662.9,136.02 662.63,137 662.33,137.97 661.99,138.9 661.61,139.79 661.15,140.63 660.62,141.47 660.03,142.28 659.38,143.08 658.7,143.85 657.99,144.59 657.26,145.29 656.54,145.95 655.79,146.58 654.99,147.17 654.16,147.73 653.31,148.28 652.44,148.81 651.57,149.33 650.72,149.85 649.86,150.43 649.01,151.08 648.15,151.72 647.27,152.3 646.39,152.76 645.5,153.04 644.59,153.07 643.66,152.78 642.71,152.32 641.74,151.92 640.77,151.8 639.77,151.8 638.72,151.8 637.64,151.8 636.55,151.8 635.46,151.8 634.38,151.8 633.32,151.8 632.31,151.8 631.35,151.8 630.46,151.8 629.65,151.8 628.92,151.71 628.26,151.16 627.64,150.26 627.08,149.21 626.56,148.19 626.09,147.29 625.7,146.29 625.36,145.23 625.03,144.16 624.69,143.14 624.31,142.22 623.86,141.47 623.3,140.93 622.43,140.48 621.37,140.13 620.43,140 619.6,140.26 618.8,140.86 618.04,141.69 617.37,142.63 616.8,143.55 616.35,144.37 615.95,145.21 615.57,146.09 615.22,147.01 614.9,147.95 614.6,148.92 614.31,149.9 614.05,150.9 613.79,151.9 613.55,152.91 613.31,153.92 613.09,154.92 612.86,155.91 612.63,156.89 612.42,157.86 612.22,158.84 612.03,159.82 611.85,160.8 611.67,161.79 611.5,162.77 611.34,163.76 611.18,164.75 611.01,165.74 610.85,166.73 610.68,167.72 610.51,168.71 610.33,169.69 610.14,170.67 609.94,171.65 609.73,172.64 609.53,173.74 609.33,174.93 609.12,176.14 608.9,177.3 608.66,178.35 608.37,179.2 608.04,179.79 607.62,180.08 606.98,180.29 606.12,180.48 605.09,180.64 603.96,180.78 602.78,180.88 601.6,180.96 600.49,181 599.48,180.99 598.49,180.9 597.49,180.77 596.5,180.63 595.5,180.52 594.49,180.44 593.44,180.37 592.37,180.3 591.28,180.23 590.21,180.17 589.16,180.11 588.15,180.07 587.19,180.03 586.31,180.01 585.51,180 584.81,180.25 584.2,180.91 583.63,181.83 583.07,182.88 582.49,183.9 581.85,184.77 581.1,185.42 580.24,186.09 579.32,186.75 578.39,187.3 577.51,187.68 576.73,187.8 575.98,187.47 575.23,186.72 574.56,185.74 574.04,184.7 573.74,183.78 573.54,182.89 573.36,181.98 573.21,181.03 573.09,180.06 572.98,179.07 572.88,178.06 572.79,177.04 572.71,176.01 572.63,174.97 572.55,173.93 572.47,172.9 572.37,171.87 572.26,170.84 572.13,169.84 571.98,168.84 571.8,167.86 571.61,166.81 571.41,165.71 571.19,164.59 570.95,163.48 570.67,162.4 570.37,161.39 570.03,160.46 569.65,159.64 569.22,158.97 568.73,158.46 567.91,157.99 566.86,157.57 565.78,157.29 564.87,157.2 564.09,157.44 563.32,157.98 562.58,158.75 561.89,159.66 561.25,160.65 560.68,161.62 560.19,162.51 559.76,163.35 559.37,164.23 559,165.13 558.65,166.07 558.33,167.02 558.02,167.99 557.72,168.97 557.44,169.95 557.17,170.94 556.89,171.93 556.62,172.91 556.34,173.88 556.06,174.84 555.79,175.8 555.53,176.77 555.28,177.73 555.03,178.7 554.78,179.67 554.54,180.64 554.3,181.61 554.06,182.59 553.83,183.56 553.59,184.53 553.35,185.5 553.1,186.48 552.85,187.44 552.6,188.41 552.33,189.38 552.08,190.39 551.84,191.51 551.61,192.72 551.39,193.98 551.17,195.25 550.95,196.52 550.72,197.74 550.47,198.89 550.19,199.93 549.89,200.84 549.55,201.58 549.16,202.12 548.73,202.43 548.22,202.5 547.37,202.5 546.26,202.5 545.11,202.5 544.1,202.53 543.06,202.8 542.04,203.27 541.17,203.85 540.57,204.44 540.15,205.06 539.78,205.78 539.44,206.58 539.14,207.46 538.87,208.4 538.63,209.39 538.41,210.43 538.2,211.5 538,212.59 537.8,213.68 537.6,214.78 537.4,215.87 537.19,216.94 536.96,217.97 536.71,218.96 536.45,219.93 536.18,220.89 535.92,221.86 535.66,222.83 535.39,223.79 535.13,224.76 534.87,225.72 534.6,226.69 534.33,227.65 534.07,228.61 533.8,229.58 533.53,230.54 533.26,231.5 532.99,232.47 532.71,233.43 532.44,234.39 532.16,235.35 531.88,236.31 531.6,237.27 531.32,238.23 531.04,239.19 530.75,240.15 530.46,241.11 530.17,242.07 529.88,243.02 529.59,243.98 529.29,244.94 529,245.89 528.7,246.85 528.41,247.8 528.11,248.76 527.81,249.71 527.51,250.67 527.21,251.62 526.91,252.58 526.61,253.53 526.3,254.48 525.99,255.43 525.68,256.38 525.37,257.33 525.05,258.28 524.74,259.23 524.42,260.18 524.11,261.13 523.79,262.08 523.48,263.04 523.18,263.99 522.88,264.94 522.58,265.9 522.28,266.85 522,267.81 521.72,268.78 521.47,269.77 521.23,270.79 521.01,271.81 520.79,272.85 520.58,273.89 520.37,274.93 520.17,275.97 519.95,277.01 519.73,278.03 519.5,279.03 519.26,280.01 518.99,280.97 518.71,281.9 518.4,282.79 518.07,283.65 517.7,284.46 517.3,285.23 516.8,286 516.1,286.83 515.27,287.65 514.37,288.38 513.48,288.94 512.65,289.26 511.95,289.26 511.25,288.97 510.55,288.43 509.86,287.7 509.19,286.82 508.56,285.83 507.96,284.78 507.41,283.72 506.92,282.69 506.5,281.73 506.14,280.83 505.83,279.82 505.54,278.71 505.28,277.52 505.04,276.28 504.82,275.01 504.62,273.71 504.43,272.42 504.24,271.15 504.05,269.92 503.86,268.75 503.67,267.66 503.46,266.67 503.24,265.8 503.01,265.07 502.74,264.5 502.46,264.11 502.14,263.92 501.77,263.97 501.33,264.38 500.81,265.08 500.25,266 499.66,267.06 499.07,268.18 498.48,269.29 497.93,270.3 497.41,271.18 496.88,272.04 496.34,272.9 495.79,273.76 495.24,274.62 494.7,275.49 494.18,276.36 493.68,277.24 493.2,278.12 492.76,279.01 492.37,279.91 492.02,280.82 491.73,281.74 491.47,282.67 491.22,283.6 490.99,284.55 490.77,285.5 490.56,286.47 490.37,287.43 490.18,288.41 490,289.39 489.84,290.38 489.67,291.37 489.52,292.36 489.37,293.36 489.22,294.36 489.08,295.36 488.94,296.36 488.8,297.37 488.65,298.38 488.51,299.38 488.37,300.39 488.22,301.39 488.07,302.39 487.91,303.39 487.74,304.39 487.57,305.39 487.39,306.38 487.2,307.36 487,308.34 486.79,309.32 486.56,310.29 486.34,311.27 486.1,312.24 485.86,313.21 485.61,314.18 485.35,315.14 485.1,316.11 484.83,317.08 484.57,318.04 484.3,319.01 484.03,319.97 483.76,320.94 483.48,321.9 483.21,322.86 482.93,323.82 482.65,324.78 482.36,325.74 482.07,326.7 481.77,327.65 481.47,328.61 481.17,329.56 480.87,330.51 480.57,331.47 480.27,332.42 479.97,333.38 479.68,334.34 479.39,335.29 479.11,336.25 478.83,337.21 478.55,338.18 478.28,339.14 478.01,340.1 477.75,341.07 477.48,342.03 477.21,343 476.94,343.96 476.67,344.92 476.39,345.88 476.11,346.84 475.83,347.8 475.54,348.76 475.24,349.72 474.96,350.71 474.7,351.72 474.43,352.74 474.16,353.75 473.88,354.75 473.57,355.73 473.23,356.66 472.86,357.55 472.43,358.37 471.94,359.12 471.24,359.95 470.4,360.64 469.52,360.9 468.59,360.71 467.6,360.33 466.68,359.89 465.83,359.42 465.02,358.85 464.23,358.21 463.46,357.54 462.71,356.84 461.97,356.16 461.22,355.49 460.45,354.82 459.67,354.13 458.92,353.43 458.22,352.71 457.58,351.96 457.04,351.17 456.61,350.23 456.27,349.07 455.97,347.83 455.68,346.65 455.36,345.68 454.96,345.05 454.45,344.9 453.67,344.9 452.68,344.9 451.56,344.9 450.42,344.9 449.33,344.9 448.33,344.88 447.33,344.82 446.32,344.72 445.31,344.58 444.3,344.41 443.3,344.21 442.32,344 441.35,343.77 440.39,343.53 439.46,343.29 438.56,342.99 437.67,342.61 436.81,342.16 435.95,341.65 435.11,341.09 434.28,340.5 433.44,339.89 432.61,339.28 431.77,338.68 430.93,338.09 430.07,337.55 429.21,337.05 428.33,336.56 427.45,336.04 426.57,335.52 425.69,335 424.8,334.48 423.91,334 423.01,333.54 422.1,333.13 421.18,332.77 420.25,332.48 419.31,332.26 418.33,332.07 417.33,331.89 416.3,331.72 415.27,331.57 414.25,331.45 413.26,331.36 412.3,331.31 411.4,331.32 410.55,331.6 409.74,332.15 408.95,332.88 408.18,333.74 407.42,334.63 406.65,335.48 405.87,336.23 405.07,336.78 404.23,337.07 403.34,337.02 402.41,336.65 401.45,336.19 400.47,335.85 399.49,335.81 398.47,335.89 397.41,336.03 396.35,336.18 395.33,336.33 394.37,336.45 393.5,336.5 392.72,336.37 392.01,335.96 391.34,335.31 390.7,334.49 390.09,333.55 389.48,332.56 388.87,331.56 388.24,330.62 387.58,329.79 386.86,329.08 386.08,328.39 385.29,327.71 384.55,327.02 383.92,326.29 383.44,325.51 383.03,324.67 382.65,323.8 382.3,322.89 381.97,321.95 381.66,320.99 381.37,320.01 381.1,319.01 380.85,318.01 380.6,317 380.37,315.99 380.14,314.98 379.92,313.99 379.7,313.01 379.49,312.04 379.3,311.06 379.11,310.07 378.94,309.09 378.78,308.1 378.63,307.11 378.48,306.11 378.33,305.12 378.19,304.12 378.04,303.13 377.88,302.14 377.72,301.15 377.55,300.16 377.37,299.18 377.18,298.2 376.97,297.23 376.74,296.26 376.51,295.27 376.26,294.25 375.99,293.22 375.7,292.19 375.39,291.19 375.05,290.23 374.68,289.32 374.27,288.48 373.82,287.74 373.27,287.03 372.57,286.34 371.75,285.67 370.86,285.06 369.91,284.52 368.96,284.1 368.03,283.81 367.08,283.63 366.03,283.49 364.94,283.39 363.83,283.31 362.76,283.22 361.76,283.12 360.87,282.97 360.13,282.78 359.53,282.34 359.02,281.62 358.57,280.69 358.14,279.64 357.71,278.54 357.25,277.49 356.72,276.57 356.08,275.84 355.28,275.11 354.39,274.7 353.49,274.83 352.54,275.17 351.58,275.59 350.6,275.95 349.59,276.15 348.48,276.3 347.35,276.43 346.27,276.56 345.33,276.72 344.61,276.95 344.12,277.39 343.73,278.21 343.41,279.26 343.1,280.4 342.74,281.47 342.32,282.42 341.88,283.48 341.42,284.6 340.94,285.7 340.42,286.7 339.87,287.52 339.29,288.08 338.65,288.3 337.96,288.35 337.19,288.39 336.35,288.42 335.46,288.44 334.51,288.46 333.52,288.47 332.49,288.48 331.43,288.49 330.34,288.5 329.24,288.51 328.13,288.52 327.01,288.54 325.9,288.55 324.8,288.57 323.71,288.6 322.65,288.63 321.63,288.67 320.63,288.74 319.61,288.98 318.59,289.31 317.65,289.56 316.83,289.56 316.09,289.26 315.4,288.7 314.76,287.94 314.14,287.05 313.53,286.07 312.92,285.06 312.3,284.09 311.66,283.21 310.98,282.46 310.26,281.76 309.54,281.07 308.8,280.38 308.07,279.7 307.35,279 306.66,278.28 305.98,277.55 305.27,276.8 304.55,276.04 303.87,275.27 303.25,274.47 302.75,273.65 302.38,272.8 302.08,271.91 301.8,271 301.55,270.06 301.32,269.09 301.11,268.11 300.92,267.12 300.74,266.11 300.56,265.09 300.39,264.08 300.23,263.06 300.06,262.04 299.89,261.04 299.7,260.04 299.52,259.05 299.35,258.01 299.21,256.94 299.08,255.84 298.95,254.74 298.81,253.67 298.66,252.63 298.48,251.65 298.26,250.74 298,249.94 297.67,249.25 296.91,248.57 295.91,248.12 295.12,248.2 294.39,248.6 293.7,249.24 293.02,250.06 292.35,250.98 291.68,251.92 290.98,252.82 290.25,253.61 289.48,254.24 288.68,254.82 287.85,255.4 287,255.96 286.14,256.5 285.26,257.01 284.36,257.49 283.46,257.92 282.54,258.3 281.62,258.62 280.62,258.89 279.57,259.1 278.49,259.29 277.42,259.48 276.4,259.68 275.46,259.91 274.64,260.19 273.95,260.55 273.34,261.08 272.77,261.76 272.24,262.57 271.74,263.48 271.28,264.47 270.83,265.5 270.4,266.54 269.99,267.57 269.58,268.56 269.17,269.48 268.79,270.4 268.42,271.33 268.07,272.26 267.73,273.2 267.39,274.15 267.06,275.1 266.72,276.04 266.38,276.99 266.03,277.92 265.66,278.85 265.27,279.78 264.88,280.7 264.48,281.62 264.09,282.55 263.7,283.47 263.32,284.4 262.97,285.33 262.64,286.27 262.34,287.22 262.05,288.17 261.77,289.12 261.5,290.09 261.24,291.05 260.99,292.02 260.74,292.99 260.5,293.96 260.27,294.94 260.04,295.91 259.81,296.89 259.59,297.87 259.37,298.85 259.15,299.83 258.93,300.81 258.72,301.78 258.5,302.76 258.29,303.73 258.08,304.71 257.87,305.69 257.67,306.67 257.47,307.65 257.27,308.63 257.08,309.61 256.88,310.59 256.69,311.58 256.5,312.56 256.31,313.54 256.13,314.52 255.94,315.51 255.75,316.49 255.56,317.47 255.37,318.46 255.18,319.44 254.99,320.42 254.8,321.4 254.61,322.38 254.42,323.37 254.25,324.36 254.08,325.36 253.91,326.36 253.75,327.36 253.58,328.35 253.41,329.35 253.24,330.34 253.05,331.33 252.86,332.31 252.65,333.28 252.42,334.25 252.18,335.2 251.91,336.14 251.61,337.08 251.27,338.07 250.88,339.06 250.43,340.03 249.94,340.94 249.39,341.74 248.8,342.4 248.07,342.99 247.17,343.57 246.19,344.03 245.21,344.28 244.3,344.23 243.37,343.89 242.44,343.37 241.56,342.78 240.74,342.22 239.99,341.61 239.28,340.92 238.6,340.17 237.94,339.4 237.28,338.61 236.6,337.85 235.9,337.12 235.16,336.47 234.38,335.79 233.59,335.06 232.77,334.33 231.94,333.67 231.09,333.12 230.21,332.74 229.31,332.6 228.37,332.6 227.36,332.6 226.3,332.6 225.21,332.6 224.12,332.6 223.05,332.6 222.02,332.6 221.04,332.6 220.15,332.6 219.36,332.59 218.68,332.24 218.07,331.51 217.5,330.54 216.93,329.48 216.33,328.5 215.65,327.74 214.89,327.15 214.05,326.54 213.16,325.96 212.23,325.45 211.28,325.06 210.33,324.84 209.38,324.8 208.4,324.8 207.39,324.8 206.38,324.8 205.35,324.8 204.34,324.8 203.34,324.8 202.38,324.73 201.43,324.41 200.5,323.97 199.55,323.59 198.58,323.37 197.59,323.16 196.58,322.96 195.57,322.79 194.56,322.65 193.58,322.55 192.62,322.5 191.69,322.56 190.74,322.8 189.79,323.2 188.85,323.72 187.95,324.32 187.1,324.98 186.31,325.65 185.6,326.3 184.99,327.01 184.44,327.95 183.94,329.03 183.48,330.18 183.03,331.34 182.59,332.43 182.13,333.37 181.64,334.09 181.09,334.51 180.48,334.57 179.74,334.23 178.92,333.58 178.09,332.76 177.31,331.9 176.66,331.13 176.09,330.35 175.56,329.53 175.08,328.66 174.61,327.77 174.16,326.85 173.72,325.93 173.28,325.01 172.82,324.1 172.33,323.21 171.81,322.36 171.27,321.42 170.73,320.37 170.17,319.29 169.6,318.24 169.01,317.29 168.41,316.51 167.78,315.96 167.14,315.71 166.47,315.83 165.77,316.3 165.04,317.04 164.28,317.94 163.51,318.91 162.72,319.85 161.93,320.66 161.12,321.24 160.32,321.5 159.51,321.29 158.69,320.66 157.86,319.89 156.99,319.24 156.1,318.98 155.13,318.9 154.11,318.85 153.06,318.82 152,318.79 150.95,318.76 149.94,318.72 149,318.66 148.14,318.54 147.32,317.97 146.53,317.07 145.79,316.09 145.11,315.31 144.49,315 143.94,315.2 143.43,315.75 142.96,316.56 142.51,317.57 142.08,318.71 141.66,319.89 141.23,321.04 140.8,322.09 140.35,323.02 139.93,324.06 139.54,325.2 139.15,326.38 138.77,327.57 138.38,328.71 137.98,329.78 137.54,330.71 137.06,331.47 136.54,332 135.95,332.28 135.24,332.29 134.25,332.25 133.13,332.17 132.01,332.06 131.06,331.93 130.32,331.67 129.64,331.11 129,330.3 128.41,329.35 127.88,328.31 127.4,327.29 126.98,326.35 126.6,325.47 126.25,324.56 125.93,323.63 125.63,322.69 125.35,321.73 125.08,320.76 124.82,319.78 124.57,318.8 124.33,317.81 124.09,316.82 123.84,315.83 123.59,314.85 123.33,313.87 123.06,312.91 122.78,311.95 122.5,310.99 122.21,310.03 121.93,309.07 121.65,308.11 121.37,307.15 121.08,306.19 120.8,305.23 120.52,304.27 120.23,303.31 119.95,302.35 119.67,301.39 119.38,300.43 119.09,299.47 118.81,298.51 118.52,297.56 118.23,296.6 117.94,295.64 117.65,294.68 117.36,293.73 117.07,292.77 116.77,291.82 116.46,290.86 116.14,289.91 115.83,288.96 115.51,288.01 115.18,287.06 114.86,286.11 114.55,285.16 114.23,284.21 113.92,283.26 113.62,282.3 113.33,281.35 113.05,280.39 112.77,279.43 112.52,278.47 112.28,277.5 112.05,276.53 111.84,275.55 111.65,274.57 111.46,273.59 111.28,272.6 111.11,271.61 110.94,270.62 110.77,269.63 110.6,268.64 110.42,267.66 110.23,266.67 110.03,265.69 109.82,264.72 109.59,263.75 109.34,262.78 109.05,261.83 108.72,260.88 108.38,259.94 108.04,258.89 107.71,257.74 107.36,256.65 106.95,255.77 106.47,255.24 105.84,255 105,254.8 104,254.63 102.9,254.48 101.76,254.36 100.62,254.27 99.55,254.22 98.6,254.2 97.73,254.37 96.89,254.84 96.08,255.51 95.31,256.3 94.56,257.12 93.86,257.89 93.19,258.61 92.56,259.37 91.96,260.16 91.38,260.99 90.82,261.83 90.26,262.67 89.69,263.51 89.12,264.34 88.54,265.15 87.97,265.98 87.4,266.8 86.81,267.62 86.21,268.41 85.58,269.18 84.91,269.91 84.2,270.62 83.48,271.32 82.74,272 81.99,272.68 81.24,273.36 80.51,274.05 79.79,274.75 79.09,275.46 78.43,276.2 77.81,276.96 77.2,277.75 76.61,278.55 76.02,279.37 75.46,280.2 74.9,281.04 74.36,281.89 73.83,282.74 73.31,283.61 72.81,284.48 72.33,285.35 71.88,286.28 71.47,287.35 71.09,288.51 70.74,289.71 70.4,290.92 70.05,292.09 69.69,293.19 69.31,294.17 68.89,294.99 68.42,295.61 67.89,296 67.29,296.1 66.43,295.91 65.37,295.59 64.28,295.3 63.36,295.21 62.54,295.44 61.75,295.97 60.99,296.71 60.28,297.59 59.61,298.52 58.99,299.43 58.43,300.25 57.92,301.07 57.45,301.94 57.01,302.83 56.59,303.75 56.18,304.68 55.77,305.62 55.36,306.55 54.92,307.46 54.47,308.36 54.02,309.28 53.58,310.23 53.15,311.2 52.72,312.17 52.28,313.14 51.83,314.08 51.36,315 50.87,315.88 50.36,316.71 49.82,317.47 49.23,318.16 48.61,318.77 47.91,319.35 47.14,319.9 46.31,320.43 45.42,320.93 44.49,321.41 43.53,321.85 42.56,322.27 41.57,322.65 40.59,323 39.62,323.32 38.68,323.59 37.69,323.81 36.66,324 35.6,324.16 34.54,324.3 33.49,324.45 32.46,324.6 31.48,324.77 30.56,324.98 29.71,325.24 28.97,325.58 28.31,326.16 27.73,326.95 27.18,327.88 26.64,328.87 26.1,329.86 25.52,330.76 24.88,331.51 24.15,332.05 23.23,332.44 22.21,332.76 21.17,333.06 20.21,333.4 19.45,333.83 18.85,334.41 18.31,335.13 17.82,335.97 17.38,336.91 16.97,337.92 16.59,338.99 16.22,340.08 15.86,341.19 15.49,342.27 15.1,343.31 14.69,344.29 14.24,345.18 13.74,345.96 13.18,346.61 12.55,347.1 11.8,347.52 10.94,347.91 9.98,348.26 8.96,348.57 7.89,348.81 6.8,349" fill="#2196f3" fill-opacity="0.05"/>
<path d="M6.5 34.5H984" stroke="#7396ff" stroke-width="1"/>
<path d="M6.5 71.5H984" stroke="#7396ff" stroke-width="1"/>
<path d="M6.5 116.5H984" stroke="#7396ff" stroke-width="1"/>
<path d="M6.5 149.5H984" stroke="#7396ff" stroke-width="1"/>
<path d="M6.5 178.5H984" stroke="#7396ff" stroke-width="1"/>
<path d="M6 172.5H984" stroke="#ffc27d" stroke-width="1" stroke-dasharray="0.9 1.1"/>
<path d="M6 173.5H984" stroke="#74cdbf" stroke-width="1" stroke-dasharray="0.9 1.1"/>
<path d="M6.4 165.7L915.3 15.7" stroke="#2962ff" stroke-width="0.72" fill="none"/>
<path d="M267.2 406.8L983.6 264.6" stroke="#2962ff" stroke-width="0.72" fill="none"/>
<path d="M829.6 24.2L936.1 232.8" stroke="#2962ff" stroke-width="0.72" fill="none"/>
<polyline points="6.8,300 7.47,298.7 8.16,297.55 8.86,296.55 9.58,295.69 10.31,294.99 11.06,294.43 11.82,294.01 12.59,293.74 13.38,293.61 14.18,293.68 15.02,294.09 15.88,294.75 16.77,295.51 17.65,296.25 18.51,296.82 19.35,297.09 20.18,297 21.02,296.65 21.87,296.09 22.7,295.38 23.5,294.57 24.24,293.71 24.91,292.87 25.48,292.08 25.97,291.26 26.39,290.33 26.76,289.34 27.1,288.3 27.43,287.27 27.78,286.26 28.15,285.31 28.56,284.44 29.05,283.7 29.63,283.1 30.38,282.59 31.27,282.15 32.26,281.75 33.3,281.37 34.33,280.99 35.32,280.59 36.22,280.13 36.98,279.61 37.6,278.99 38.19,278.28 38.75,277.48 39.28,276.63 39.78,275.72 40.25,274.77 40.7,273.81 41.12,272.84 41.52,271.88 41.9,270.94 42.26,270.02 42.59,269.08 42.88,268.12 43.16,267.16 43.42,266.19 43.68,265.21 43.95,264.24 44.23,263.27 44.53,262.32 44.86,261.38 45.22,260.44 45.59,259.46 45.99,258.46 46.42,257.48 46.89,256.58 47.4,255.78 47.97,255.14 48.64,254.61 49.44,254.16 50.33,253.76 51.3,253.39 52.31,253.05 53.33,252.7 54.35,252.34 55.33,251.95 56.24,251.51 57.08,251 57.93,250.46 58.78,249.87 59.61,249.25 60.4,248.6 61.15,247.91 61.84,247.2 62.45,246.47 62.98,245.68 63.45,244.82 63.87,243.91 64.28,242.97 64.68,242.03 65.1,241.1 65.56,240.19 66,239.18 66.44,238.08 66.87,236.92 67.3,235.77 67.76,234.67 68.23,233.68 68.74,232.85 69.29,232.23 69.88,231.87 70.55,231.81 71.36,231.87 72.31,231.99 73.35,232.15 74.44,232.32 75.55,232.49 76.63,232.61 77.64,232.69 78.56,232.66 79.43,232.39 80.28,231.91 81.11,231.28 81.92,230.56 82.73,229.83 83.54,229.14 84.35,228.53 85.14,227.78 85.92,227 86.71,226.33 87.53,225.94 88.42,225.9 89.37,225.9 90.37,225.9 91.41,225.9 92.46,225.9 93.52,225.9 94.57,225.9 95.6,225.9 96.58,225.9 97.51,225.9 98.37,225.78 99.17,225.33 99.93,224.65 100.68,223.84 101.43,223 102.2,222.22 103.02,221.62 103.92,221.28 104.99,221.07 106.06,220.89 106.91,220.65 107.48,220.26 107.98,219.72 108.42,219.03 108.81,218.22 109.17,217.31 109.49,216.31 109.79,215.25 110.09,214.15 110.38,213.02 110.67,211.89 110.98,210.77 111.32,209.69 111.68,208.66 112.09,207.71 112.55,206.82 113.04,205.84 113.55,204.79 114.09,203.71 114.65,202.64 115.24,201.62 115.84,200.69 116.47,199.88 117.12,199.24 117.78,198.8 118.46,198.61 119.19,198.65 120,198.86 120.88,199.19 121.81,199.64 122.76,200.19 123.71,200.81 124.65,201.48 125.55,202.18 126.39,202.9 127.15,203.61 127.81,204.3 128.38,204.98 128.94,205.7 129.47,206.48 129.98,207.3 130.47,208.16 130.94,209.05 131.4,209.97 131.83,210.92 132.25,211.88 132.65,212.86 133.03,213.84 133.4,214.83 133.75,215.82 134.09,216.8 134.41,217.77 134.71,218.72 135,219.66 135.28,220.6 135.55,221.56 135.81,222.51 136.06,223.47 136.3,224.44 136.53,225.41 136.76,226.39 136.98,227.36 137.19,228.34 137.39,229.33 137.6,230.31 137.8,231.3 137.99,232.29 138.19,233.28 138.38,234.27 138.57,235.26 138.76,236.25 138.95,237.23 139.14,238.22 139.34,239.2 139.54,240.19 139.73,241.2 139.91,242.32 140.07,243.54 140.22,244.81 140.36,246.12 140.5,247.42 140.65,248.7 140.8,249.91 140.96,251.03 141.14,252.03 141.34,252.87 141.57,253.54 141.83,253.99 142.12,254.19 142.51,253.99 143.12,253.2 143.83,252.18 144.53,251.27 145.18,250.44 145.85,249.53 146.54,248.65 147.26,247.93 148.02,247.48 148.83,247.36 149.71,247.3 150.63,247.24 151.6,247.19 152.61,247.14 153.64,247.1 154.69,247.07 155.75,247.05 156.81,247.03 157.86,247.01 158.9,247 159.92,247 160.92,247 161.93,247 162.95,247 163.97,247 164.99,247 166.01,247 167.03,247 168.05,247 169.06,247 170.07,247 171.07,247 172.06,247 173.05,247 174.02,247 174.97,247 175.92,247 176.94,247.25 177.93,247.76 178.65,248.35 179.11,248.95 179.53,249.65 179.91,250.44 180.25,251.31 180.56,252.25 180.84,253.25 181.1,254.28 181.34,255.35 181.57,256.44 181.78,257.54 181.98,258.63 182.17,259.71 182.36,260.76 182.55,261.77 182.74,262.75 182.91,263.76 183.06,264.79 183.19,265.83 183.32,266.89 183.43,267.96 183.53,269.03 183.63,270.11 183.73,271.18 183.83,272.24 183.93,273.29 184.04,274.33 184.16,275.34 184.3,276.33 184.45,277.3 184.61,278.23 184.8,279.12 185.01,279.97 185.25,280.78 185.52,281.54 185.95,282.33 186.63,283.17 187.46,283.97 188.39,284.66 189.33,285.16 190.23,285.39 191.07,285.3 191.96,284.95 192.86,284.42 193.75,283.77 194.6,283.08 195.37,282.44 196.06,281.66 196.68,280.69 197.27,279.66 197.85,278.69 198.46,277.89 199.13,277.4 199.88,277.3 200.72,277.33 201.64,277.39 202.62,277.48 203.65,277.57 204.7,277.68 205.78,277.78 206.85,277.87 207.91,277.94 208.94,277.99 209.93,278 210.89,277.86 211.83,277.55 212.77,277.14 213.7,276.7 214.65,276.3 215.6,276 216.58,275.8 217.58,275.62 218.6,275.47 219.63,275.34 220.66,275.22 221.69,275.11 222.71,274.99 223.71,274.85 224.69,274.7 225.64,274.52 226.56,274.31 227.43,274.06 228.29,273.69 229.14,273.18 229.97,272.57 230.77,271.87 231.53,271.12 232.24,270.35 232.89,269.58 233.48,268.84 234.03,268.06 234.55,267.25 235.06,266.4 235.54,265.52 236,264.62 236.44,263.7 236.87,262.76 237.28,261.82 237.67,260.87 238.06,259.91 238.43,258.97 238.8,258.03 239.15,257.1 239.5,256.17 239.84,255.24 240.16,254.3 240.48,253.36 240.8,252.41 241.1,251.46 241.4,250.5 241.69,249.54 241.98,248.58 242.26,247.62 242.53,246.65 242.81,245.68 243.08,244.72 243.34,243.75 243.61,242.78 243.87,241.81 244.13,240.84 244.39,239.87 244.65,238.9 244.92,237.94 245.16,236.96 245.39,235.95 245.6,234.93 245.8,233.89 245.99,232.85 246.17,231.8 246.36,230.76 246.55,229.72 246.74,228.7 246.96,227.7 247.19,226.72 247.44,225.77 247.72,224.86 248.03,223.98 248.37,223.16 248.76,222.38 249.29,221.58 250.05,220.74 250.92,220.07 251.79,219.8 252.64,219.94 253.53,220.32 254.45,220.86 255.36,221.47 256.24,222.07 257.08,222.62 257.9,223.27 258.7,224.01 259.48,224.81 260.26,225.64 261.03,226.48 261.79,227.3 262.55,228.07 263.31,228.76 264.07,229.35 264.84,229.8 265.61,230.09 266.39,230.2 267.19,230.09 268,229.78 268.83,229.31 269.65,228.7 270.48,228 271.29,227.23 272.09,226.42 272.87,225.62 273.63,224.86 274.35,224.15 275.04,223.44 275.69,222.67 276.31,221.87 276.92,221.06 277.54,220.25 278.16,219.46 278.81,218.69 279.48,217.98 280.21,217.32 280.97,216.65 281.76,215.96 282.58,215.3 283.43,214.69 284.3,214.18 285.19,213.79 286.09,213.57 287.05,213.41 288.05,213.27 289.08,213.15 290.1,213.06 291.11,213.01 292.07,213.02 293.06,213.32 294.06,213.86 295.03,214.51 295.92,215.09 296.69,215.45 297.3,215.46 297.82,215.13 298.29,214.54 298.71,213.72 299.1,212.74 299.46,211.63 299.82,210.44 300.19,209.24 300.57,208.06 300.99,206.95 301.45,205.97 301.95,205.07 302.48,204.05 303.04,202.98 303.63,201.99 304.26,201.18 304.93,200.65 305.64,200.5 306.5,200.59 307.5,200.8 308.57,201.1 309.65,201.47 310.67,201.9 311.58,202.35 312.31,202.81 312.9,203.34 313.43,204.02 313.91,204.81 314.35,205.7 314.77,206.66 315.16,207.67 315.55,208.71 315.94,209.75 316.35,210.76 316.77,211.74 317.23,212.66 317.69,213.62 318.14,214.7 318.59,215.84 319.04,216.99 319.51,218.07 320,219.05 320.52,219.87 321.09,220.46 321.71,220.77 322.41,220.77 323.26,220.62 324.23,220.38 325.27,220.09 326.35,219.8 327.42,219.56 328.44,219.42 329.39,219.43 330.3,219.66 331.19,220.06 332.07,220.58 332.94,221.18 333.82,221.79 334.7,222.37 335.6,222.88 336.52,223.25 337.46,223.5 338.43,223.76 339.41,224 340.4,224.22 341.39,224.41 342.39,224.56 343.39,224.66 344.39,224.7 345.38,224.68 346.38,224.62 347.39,224.53 348.4,224.42 349.41,224.3 350.42,224.18 351.42,224.07 352.41,223.98 353.39,223.92 354.35,223.9 355.34,224 356.36,224.26 357.37,224.64 358.33,225.11 359.22,225.62 359.99,226.14 360.63,226.68 361.22,227.32 361.76,228.06 362.27,228.88 362.74,229.77 363.19,230.7 363.62,231.68 364.04,232.68 364.46,233.68 364.88,234.67 365.32,235.64 365.77,236.57 366.25,237.48 366.7,238.5 367.12,239.62 367.54,240.78 367.97,241.93 368.41,243.02 368.87,244 369.37,244.82 369.92,245.42 370.53,245.75 371.25,245.79 372.25,245.73 373.37,245.62 374.4,245.48 375.19,245.24 375.85,244.63 376.43,243.71 376.97,242.6 377.48,241.43 377.99,240.32 378.53,239.39 379.13,238.78 379.81,238.6 380.64,238.84 381.58,239.33 382.52,239.98 383.34,240.66 383.99,241.3 384.58,242.01 385.12,242.79 385.62,243.63 386.09,244.52 386.54,245.44 386.97,246.38 387.4,247.34 387.83,248.3 388.27,249.26 388.72,250.19 389.2,251.09 389.71,251.95 390.24,252.8 390.77,253.65 391.31,254.49 391.85,255.33 392.41,256.17 392.96,257 393.52,257.83 394.09,258.65 394.66,259.48 395.23,260.3 395.81,261.11 396.42,261.91 397.04,262.7 397.67,263.49 398.29,264.29 398.88,265.09 399.45,265.91 399.97,266.75 400.45,267.61 400.92,268.48 401.37,269.37 401.8,270.27 402.22,271.18 402.63,272.1 403.03,273.02 403.42,273.95 403.8,274.89 404.18,275.82 404.56,276.75 404.93,277.68 405.29,278.61 405.64,279.55 405.97,280.5 406.29,281.45 406.6,282.41 406.91,283.37 407.21,284.32 407.52,285.28 407.84,286.23 408.16,287.18 408.5,288.12 408.86,289.05 409.23,289.97 409.63,290.88 410.05,291.81 410.49,292.87 410.96,293.97 411.48,294.96 412.04,295.71 412.66,296.09 413.37,296.2 414.21,296.3 415.15,296.39 416.16,296.47 417.23,296.53 418.34,296.58 419.45,296.63 420.56,296.66 421.64,296.68 422.66,296.7 423.6,296.69 424.51,296.41 425.39,295.84 426.26,295.11 427.11,294.36 427.95,293.7 428.78,293.29 429.6,293.22 430.42,293.51 431.24,294.05 432.05,294.78 432.83,295.59 433.57,296.42 434.27,297.17 434.88,298.04 435.44,299.03 435.99,299.98 436.59,300.71 437.28,301.05 438.08,301.23 438.97,301.4 439.94,301.54 440.96,301.67 442.02,301.78 443.1,301.86 444.18,301.93 445.25,301.97 446.29,302 447.3,301.99 448.37,301.9 449.46,301.72 450.49,301.48 451.37,301.19 452.04,300.85 452.61,300.26 453.12,299.43 453.58,298.44 453.99,297.36 454.35,296.29 454.67,295.28 454.96,294.35 455.21,293.39 455.45,292.43 455.66,291.46 455.85,290.48 456.04,289.49 456.21,288.5 456.39,287.5 456.56,286.5 456.74,285.51 456.92,284.52 457.12,283.53 457.34,282.55 457.58,281.58 457.84,280.62 458.11,279.66 458.39,278.7 458.69,277.75 458.99,276.79 459.31,275.84 459.63,274.89 459.97,273.95 460.3,273 460.65,272.06 461,271.12 461.35,270.19 461.71,269.26 462.11,268.34 462.53,267.43 462.95,266.52 463.36,265.6 463.74,264.68 464.09,263.75 464.41,262.8 464.72,261.86 465.02,260.9 465.31,259.95 465.59,258.98 465.86,258.02 466.13,257.05 466.39,256.09 466.65,255.12 466.91,254.15 467.16,253.18 467.42,252.21 467.68,251.25 467.92,250.28 468.16,249.3 468.4,248.33 468.63,247.36 468.85,246.38 469.08,245.4 469.3,244.43 469.53,243.45 469.76,242.48 470,241.5 470.23,240.53 470.48,239.56 470.74,238.6 471,237.64 471.28,236.68 471.56,235.72 471.84,234.76 472.13,233.79 472.42,232.82 472.72,231.85 473.03,230.88 473.35,229.91 473.67,228.95 474.01,228 474.37,227.07 474.74,226.14 475.13,225.23 475.53,224.33 475.96,223.46 476.42,222.58 476.92,221.6 477.46,220.57 478.06,219.6 478.71,218.78 479.4,218.21 480.15,217.98 481.05,217.9 482.11,217.82 483.24,217.77 484.33,217.73 485.32,217.7 486.1,217.72 486.77,218.14 487.37,218.95 487.93,219.98 488.44,221.07 488.92,222.03 489.35,223.03 489.73,224.19 490.09,225.42 490.43,226.59 490.78,227.61 491.18,228.38 491.62,228.77 492.17,228.7 492.84,228.22 493.59,227.47 494.38,226.56 495.14,225.65 495.84,224.85 496.49,224.09 497.13,223.32 497.75,222.54 498.36,221.74 498.95,220.93 499.53,220.11 500.11,219.29 500.72,218.45 501.32,217.61 501.86,216.75 502.28,215.87 502.56,214.96 502.76,214.04 502.95,213.1 503.12,212.14 503.26,211.16 503.4,210.18 503.52,209.18 503.63,208.17 503.73,207.16 503.83,206.14 503.93,205.13 504.02,204.11 504.12,203.09 504.21,202.07 504.32,201.06 504.43,200.06 504.55,199.06 504.68,198.07 504.81,197.08 504.94,196.09 505.07,195.1 505.19,194.1 505.32,193.11 505.45,192.12 505.58,191.13 505.7,190.13 505.82,189.14 505.94,188.15 506.06,187.15 506.17,186.16 506.28,185.17 506.38,184.17 506.48,183.18 506.58,182.18 506.67,181.19 506.76,180.19 506.85,179.19 506.93,178.2 507.02,177.2 507.1,176.2 507.18,175.21 507.26,174.21 507.34,173.21 507.42,172.21 507.5,171.22 507.57,170.22 507.65,169.22 507.73,168.22 507.81,167.23 507.9,166.23 507.98,165.23 508.06,164.24 508.14,163.23 508.21,162.22 508.28,161.21 508.34,160.19 508.4,159.18 508.47,158.16 508.53,157.15 508.6,156.14 508.68,155.13 508.76,154.13 508.85,153.14 508.95,152.15 509.06,151.18 509.19,150.21 509.33,149.26 509.49,148.32 509.76,147.4 510.12,146.48 510.56,145.58 511.05,144.68 511.58,143.79 512.13,142.91 512.67,142.04 513.2,141.18 513.7,140.32 514.23,139.47 514.78,138.63 515.34,137.8 515.91,136.98 516.49,136.16 517.08,135.36 517.68,134.56 518.29,133.76 518.9,132.97 519.53,132.18 520.16,131.41 520.81,130.64 521.47,129.89 522.14,129.15 522.84,128.44 523.59,127.76 524.34,127.08 525.1,126.41 525.82,125.72 526.5,125 527.12,124.24 527.69,123.44 528.24,122.61 528.76,121.76 529.26,120.88 529.74,119.99 530.21,119.09 530.66,118.19 531.1,117.3 531.53,116.4 531.94,115.49 532.33,114.57 532.72,113.65 533.1,112.72 533.47,111.79 533.84,110.86 534.21,109.92 534.59,109 534.97,108.07 535.36,107.15 535.77,106.23 536.18,105.31 536.58,104.39 536.96,103.47 537.31,102.54 537.63,101.6 537.93,100.65 538.22,99.7 538.5,98.74 538.76,97.77 539.02,96.8 539.26,95.83 539.51,94.86 539.75,93.89 539.98,92.91 540.22,91.94 540.46,90.96 540.7,89.99 540.94,89.02 541.19,88.05 541.43,87.08 541.67,86.11 541.91,85.13 542.14,84.16 542.37,83.18 542.6,82.21 542.83,81.23 543.06,80.26 543.29,79.29 543.53,78.32 543.77,77.35 544.02,76.38 544.28,75.41 544.54,74.45 544.82,73.49 545.09,72.52 545.35,71.5 545.61,70.45 545.88,69.4 546.16,68.36 546.46,67.36 546.8,66.42 547.18,65.56 547.61,64.8 548.13,64.14 548.93,63.46 549.89,62.88 550.85,62.54 551.69,62.59 552.51,63.06 553.3,63.8 554.05,64.65 554.74,65.44 555.35,66.2 555.91,67.02 556.44,67.88 556.95,68.76 557.47,69.63 558.02,70.47 558.62,71.27 559.25,72.05 559.91,72.84 560.6,73.61 561.32,74.32 562.09,74.93 562.9,75.43 563.8,75.93 564.76,76.4 565.74,76.78 566.7,77.03 567.59,77.09 568.42,76.78 569.22,76.16 570,75.38 570.79,74.62 571.6,73.97 572.48,73.24 573.34,72.56 574.1,72.21 574.73,72.34 575.33,72.85 575.89,73.64 576.42,74.63 576.91,75.74 577.35,76.89 577.75,78.01 578.1,79 578.42,79.92 578.7,80.86 578.97,81.81 579.21,82.77 579.44,83.73 579.66,84.71 579.86,85.7 580.06,86.69 580.25,87.68 580.44,88.68 580.63,89.67 580.82,90.67 581.02,91.66 581.24,92.65 581.46,93.63 581.7,94.6 581.96,95.57 582.23,96.58 582.49,97.73 582.76,98.96 583.02,100.22 583.31,101.45 583.61,102.6 583.95,103.62 584.31,104.46 584.73,105.06 585.19,105.37 585.76,105.35 586.6,105.08 587.6,104.65 588.65,104.13 589.62,103.6 590.47,103.1 591.3,102.55 592.13,101.95 592.93,101.31 593.7,100.64 594.44,99.94 595.13,99.23 595.78,98.51 596.38,97.76 596.96,96.97 597.51,96.14 598.03,95.3 598.54,94.43 599.04,93.54 599.52,92.64 600,91.74 600.48,90.84 600.96,89.95 601.45,89.07 601.94,88.17 602.42,87.15 602.88,86.04 603.34,84.89 603.79,83.72 604.25,82.57 604.7,81.47 605.16,80.48 605.64,79.61 606.12,78.9 606.62,78.4 607.14,78.13 607.7,78.18 608.33,78.71 609,79.59 609.64,80.63 610.21,81.64 610.66,82.52 611.06,83.43 611.41,84.37 611.72,85.34 612.02,86.33 612.3,87.33 612.58,88.32 612.88,89.3 613.2,90.26 613.55,91.18 613.95,92.06 614.41,92.88 614.95,93.77 615.56,94.72 616.25,95.65 616.99,96.48 617.77,97.13 618.58,97.52 619.41,97.59 620.32,97.53 621.32,97.4 622.35,97.21 623.39,96.99 624.4,96.75 625.35,96.49 626.26,96.1 627.15,95.61 628.03,95.11 628.94,94.68 629.87,94.28 630.8,93.85 631.75,93.44 632.7,93.08 633.66,92.82 634.62,92.7 635.6,92.73 636.59,92.84 637.6,92.99 638.61,93.18 639.62,93.37 640.62,93.53 641.6,93.65 642.56,93.7 643.49,93.61 644.4,93.35 645.3,92.96 646.19,92.46 647.07,91.89 647.95,91.3 648.83,90.71 649.72,90.17 650.61,89.69 651.5,89.24 652.39,88.77 653.28,88.3 654.17,87.85 655.07,87.41 655.98,87.01 656.91,86.62 657.84,86.19 658.78,85.76 659.73,85.38 660.69,85.09 661.65,84.92 662.63,84.93 663.72,85.12 664.83,85.41 665.86,85.69 666.7,85.87 667.29,85.85 667.77,85.5 668.18,84.87 668.53,84.01 668.85,82.98 669.15,81.82 669.45,80.6 669.75,79.36 670.08,78.16 670.46,77.06 670.89,76.11 671.39,75.23 671.94,74.33 672.54,73.47 673.19,72.72 673.89,72.14 674.67,71.67 675.52,71.25 676.45,70.88 677.42,70.54 678.42,70.22 679.43,69.93 680.43,69.64 681.41,69.36 682.37,69.07 683.33,68.8 684.3,68.54 685.27,68.29 686.24,68.06 687.22,67.83 688.2,67.61 689.18,67.37 690.16,67.12 691.15,66.87 692.14,66.64 693.12,66.44 694.11,66.29 695.08,66.21 696.05,66.22 697.04,66.36 698.03,66.61 699.01,66.96 699.96,67.36 700.87,67.79 701.72,68.22 702.55,68.73 703.37,69.33 704.16,70.02 704.9,70.75 705.58,71.52 706.19,72.3 706.71,73.09 707.17,73.96 707.56,74.89 707.93,75.86 708.27,76.85 708.61,77.85 708.96,78.82 709.35,79.75 709.79,80.61 710.3,81.4 710.91,82.11 711.62,82.79 712.41,83.43 713.25,84.04 714.12,84.61 714.98,85.16 715.86,85.72 716.83,86.32 717.8,86.87 718.65,87.22 719.31,87.27 719.86,86.86 720.35,86.07 720.79,85.04 721.19,83.86 721.57,82.68 721.92,81.61 722.27,80.68 722.59,79.74 722.91,78.8 723.21,77.85 723.5,76.9 723.78,75.94 724.05,74.98 724.32,74.01 724.57,73.04 724.82,72.07 725.07,71.09 725.31,70.12 725.56,69.14 725.8,68.16 726.04,67.19 726.28,66.21 726.53,65.24 726.78,64.27 727.03,63.3 727.28,62.33 727.53,61.36 727.78,60.39 728.02,59.43 728.27,58.45 728.51,57.48 728.75,56.51 728.99,55.54 729.23,54.57 729.47,53.6 729.7,52.63 729.94,51.66 730.18,50.68 730.42,49.71 730.66,48.74 730.91,47.77 731.15,46.8 731.38,45.83 731.62,44.85 731.85,43.88 732.08,42.91 732.31,41.93 732.54,40.96 732.78,39.98 733.01,39.01 733.25,38.04 733.5,37.07 733.75,36.1 734,35.14 734.26,34.17 734.53,33.21 734.8,32.25 735.08,31.29 735.36,30.33 735.65,29.37 735.95,28.41 736.25,27.45 736.56,26.5 736.87,25.55 737.2,24.6 737.54,23.66 737.88,22.72 738.24,21.79 738.61,20.87 739.03,19.96 739.48,19.06 739.94,18.17 740.38,17.27 740.77,16.36 741.14,15.42 741.48,14.48 741.82,13.52 742.14,12.56 742.46,11.6 742.77,10.63 743.09,9.68 743.43,8.73 743.77,7.79 744.14,6.87 744.53,5.97 744.95,5.1 745.4,4.22 745.87,3.32 746.37,2.41 746.89,1.48 747.43,0.54 747.99,-0.38 748.57,-1.3 749.18,-2.2 749.8,-3.07 750.44,-3.91 751.09,-4.7 751.77,-5.45 752.46,-6.14 753.16,-6.76 753.88,-7.32 754.62,-7.79 755.38,-8.19 756.18,-8.58 757.04,-8.96 757.95,-9.33 758.89,-9.69 759.86,-10.04 760.87,-10.36 761.89,-10.67 762.92,-10.96 763.96,-11.21 765,-11.44 766.03,-11.63 767.05,-11.79 768.06,-11.9 769.03,-11.97 769.97,-12 770.9,-11.96 771.84,-11.82 772.79,-11.61 773.75,-11.32 774.7,-10.97 775.65,-10.56 776.6,-10.09 777.54,-9.57 778.46,-9.02 779.37,-8.43 780.26,-7.82 781.12,-7.19 781.96,-6.55 782.77,-5.91 783.55,-5.26 784.28,-4.63 784.98,-4.01 785.65,-3.38 786.31,-2.7 786.95,-1.97 787.58,-1.21 788.18,-0.4 788.78,0.43 789.35,1.29 789.9,2.17 790.44,3.06 790.96,3.97 791.45,4.88 791.93,5.8 792.38,6.71 792.82,7.61 793.23,8.5 793.61,9.41 793.97,10.33 794.32,11.27 794.65,12.22 794.97,13.18 795.28,14.14 795.59,15.1 795.9,16.06 796.2,17.01 796.51,17.96 796.81,18.91 797.1,19.87 797.39,20.83 797.67,21.79 797.95,22.75 798.23,23.71 798.51,24.67 798.79,25.63 799.07,26.59 799.35,27.55 799.62,28.52 799.89,29.48 800.16,30.44 800.43,31.41 800.69,32.37 800.96,33.34 801.23,34.3 801.49,35.27 801.77,36.23 802.04,37.19 802.32,38.15 802.6,39.11 802.9,40.06 803.19,41.02 803.48,41.99 803.76,42.96 804.04,43.94 804.33,44.92 804.62,45.9 804.92,46.87 805.23,47.83 805.56,48.77 805.92,49.7 806.29,50.61 806.69,51.49 807.13,52.35 807.63,53.32 808.19,54.37 808.82,55.36 809.48,56.21 810.19,56.79 810.92,57 811.78,56.83 812.78,56.41 813.76,55.84 814.58,55.22 815.15,54.58 815.63,53.82 816.06,52.93 816.45,51.97 816.8,50.96 817.13,49.93 817.46,48.92 817.78,47.96 818.1,47.01 818.39,46.06 818.67,45.1 818.94,44.13 819.2,43.17 819.46,42.2 819.73,41.23 820.01,40.27 820.3,39.31 820.61,38.36 820.93,37.42 821.26,36.46 821.59,35.5 821.93,34.55 822.28,33.6 822.65,32.66 823.03,31.73 823.43,30.81 823.85,29.92 824.31,29.05 824.79,28.2 825.33,27.34 825.91,26.49 826.54,25.66 827.21,24.9 827.91,24.21 828.64,23.62 829.44,23.07 830.31,22.55 831.22,22.07 832.16,21.63 833.11,21.26 834.07,20.96 835.02,20.73 835.99,20.54 836.98,20.38 837.98,20.24 838.98,20.09 839.97,19.94 840.98,19.78 842.03,19.65 843.09,19.52 844.11,19.38 845.07,19.19 845.91,18.93 846.62,18.4 847.25,17.52 847.83,16.67 848.37,15.78 848.87,14.83 849.35,13.85 849.83,12.89 850.32,11.97 850.85,11.15 851.44,10.46 852.1,9.94 852.92,9.48 853.89,9.05 854.94,8.65 856.01,8.33 857,8.1 857.86,8 858.58,8.19 859.24,8.84 859.85,9.79 860.4,10.84 860.91,11.84 861.38,12.71 861.82,13.61 862.23,14.53 862.61,15.47 862.95,16.42 863.25,17.36 863.52,18.31 863.78,19.27 864.03,20.23 864.26,21.2 864.48,22.17 864.69,23.15 864.89,24.13 865.08,25.11 865.27,26.1 865.46,27.09 865.64,28.08 865.82,29.07 866,30.06 866.19,31.05 866.38,32.03 866.57,33.02 866.77,34 866.97,34.98 867.19,35.96 867.4,36.94 867.62,37.91 867.84,38.89 868.06,39.86 868.28,40.84 868.5,41.82 868.72,42.79 868.94,43.77 869.16,44.74 869.38,45.72 869.6,46.69 869.82,47.67 870.04,48.65 870.26,49.62 870.48,50.6 870.69,51.58 870.91,52.55 871.12,53.53 871.33,54.51 871.54,55.49 871.74,56.47 871.94,57.45 872.12,58.44 872.31,59.43 872.48,60.42 872.66,61.41 872.83,62.4 873,63.39 873.17,64.38 873.34,65.38 873.52,66.37 873.69,67.36 873.88,68.35 874.06,69.33 874.25,70.31 874.45,71.29 874.66,72.27 874.87,73.24 875.1,74.21 875.34,75.17 875.59,76.13 875.85,77.08 876.13,78.04 876.44,79.14 876.78,80.34 877.16,81.56 877.56,82.73 877.98,83.79 878.42,84.65 878.87,85.24 879.33,85.5 879.86,85.24 880.5,84.43 881.1,83.35 881.54,82.29 881.79,81.37 882,80.45 882.17,79.49 882.32,78.52 882.45,77.53 882.57,76.53 882.67,75.52 882.76,74.5 882.85,73.47 882.95,72.45 883.05,71.42 883.16,70.41 883.29,69.4 883.44,68.4 883.61,67.42 883.81,66.45 884.05,65.36 884.33,64.14 884.67,62.93 885.05,61.89 885.5,61.16 886.02,60.9 886.81,61.04 887.87,61.36 888.93,61.77 889.76,62.21 890.52,62.75 891.25,63.41 891.94,64.16 892.6,64.97 893.23,65.84 893.81,66.72 894.36,67.61 894.87,68.48 895.34,69.32 895.79,70.19 896.21,71.08 896.6,71.99 896.98,72.92 897.35,73.86 897.7,74.81 898.04,75.77 898.38,76.73 898.71,77.69 899.05,78.64 899.39,79.59 899.73,80.53 900.07,81.47 900.4,82.41 900.73,83.35 901.06,84.3 901.38,85.25 901.7,86.19 902.02,87.14 902.33,88.09 902.64,89.05 902.95,90 903.26,90.95 903.56,91.9 903.86,92.86 904.16,93.81 904.46,94.77 904.76,95.72 905.06,96.68 905.35,97.63 905.64,98.59 905.93,99.55 906.21,100.51 906.49,101.47 906.76,102.44 907.02,103.4 907.27,104.37 907.51,105.34 907.74,106.31 907.97,107.28 908.19,108.26 908.4,109.24 908.6,110.22 908.8,111.2" fill="none" stroke="#f23645" stroke-width="0.7"/>
<polyline points="6.8,349 7.89,348.81 8.96,348.57 9.98,348.26 10.94,347.91 11.8,347.52 12.55,347.1 13.18,346.61 13.74,345.96 14.24,345.18 14.69,344.29 15.1,343.31 15.49,342.27 15.86,341.19 16.22,340.08 16.59,338.99 16.97,337.92 17.38,336.91 17.82,335.97 18.31,335.13 18.85,334.41 19.45,333.83 20.21,333.4 21.17,333.06 22.21,332.76 23.23,332.44 24.15,332.05 24.88,331.51 25.52,330.76 26.1,329.86 26.64,328.87 27.18,327.88 27.73,326.95 28.31,326.16 28.97,325.58 29.71,325.24 30.56,324.98 31.48,324.77 32.46,324.6 33.49,324.45 34.54,324.3 35.6,324.16 36.66,324 37.69,323.81 38.68,323.59 39.62,323.32 40.59,323 41.57,322.65 42.56,322.27 43.53,321.85 44.49,321.41 45.42,320.93 46.31,320.43 47.14,319.9 47.91,319.35 48.61,318.77 49.23,318.16 49.82,317.47 50.36,316.71 50.87,315.88 51.36,315 51.83,314.08 52.28,313.14 52.72,312.17 53.15,311.2 53.58,310.23 54.02,309.28 54.47,308.36 54.92,307.46 55.36,306.55 55.77,305.62 56.18,304.68 56.59,303.75 57.01,302.83 57.45,301.94 57.92,301.07 58.43,300.25 58.99,299.43 59.61,298.52 60.28,297.59 60.99,296.71 61.75,295.97 62.54,295.44 63.36,295.21 64.28,295.3 65.37,295.59 66.43,295.91 67.29,296.1 67.89,296 68.42,295.61 68.89,294.99 69.31,294.17 69.69,293.19 70.05,292.09 70.4,290.92 70.74,289.71 71.09,288.51 71.47,287.35 71.88,286.28 72.33,285.35 72.81,284.48 73.31,283.61 73.83,282.74 74.36,281.89 74.9,281.04 75.46,280.2 76.02,279.37 76.61,278.55 77.2,277.75 77.81,276.96 78.43,276.2 79.09,275.46 79.79,274.75 80.51,274.05 81.24,273.36 81.99,272.68 82.74,272 83.48,271.32 84.2,270.62 84.91,269.91 85.58,269.18 86.21,268.41 86.81,267.62 87.4,266.8 87.97,265.98 88.54,265.15 89.12,264.34 89.69,263.51 90.26,262.67 90.82,261.83 91.38,260.99 91.96,260.16 92.56,259.37 93.19,258.61 93.86,257.89 94.56,257.12 95.31,256.3 96.08,255.51 96.89,254.84 97.73,254.37 98.6,254.2 99.55,254.22 100.62,254.27 101.76,254.36 102.9,254.48 104,254.63 105,254.8 105.84,255 106.47,255.24 106.95,255.77 107.36,256.65 107.71,257.74 108.04,258.89 108.38,259.94 108.72,260.88 109.05,261.83 109.34,262.78 109.59,263.75 109.82,264.72 110.03,265.69 110.23,266.67 110.42,267.66 110.6,268.64 110.77,269.63 110.94,270.62 111.11,271.61 111.28,272.6 111.46,273.59 111.65,274.57 111.84,275.55 112.05,276.53 112.28,277.5 112.52,278.47 112.77,279.43 113.05,280.39 113.33,281.35 113.62,282.3 113.92,283.26 114.23,284.21 114.55,285.16 114.86,286.11 115.18,287.06 115.51,288.01 115.83,288.96 116.14,289.91 116.46,290.86 116.77,291.82 117.07,292.77 117.36,293.73 117.65,294.68 117.94,295.64 118.23,296.6 118.52,297.56 118.81,298.51 119.09,299.47 119.38,300.43 119.67,301.39 119.95,302.35 120.23,303.31 120.52,304.27 120.8,305.23 121.08,306.19 121.37,307.15 121.65,308.11 121.93,309.07 122.21,310.03 122.5,310.99 122.78,311.95 123.06,312.91 123.33,313.87 123.59,314.85 123.84,315.83 124.09,316.82 124.33,317.81 124.57,318.8 124.82,319.78 125.08,320.76 125.35,321.73 125.63,322.69 125.93,323.63 126.25,324.56 126.6,325.47 126.98,326.35 127.4,327.29 127.88,328.31 128.41,329.35 129,330.3 129.64,331.11 130.32,331.67 131.06,331.93 132.01,332.06 133.13,332.17 134.25,332.25 135.24,332.29 135.95,332.28 136.54,332 137.06,331.47 137.54,330.71 137.98,329.78 138.38,328.71 138.77,327.57 139.15,326.38 139.54,325.2 139.93,324.06 140.35,323.02 140.8,322.09 141.23,321.04 141.66,319.89 142.08,318.71 142.51,317.57 142.96,316.56 143.43,315.75 143.94,315.2 144.49,315 145.11,315.31 145.79,316.09 146.53,317.07 147.32,317.97 148.14,318.54 149,318.66 149.94,318.72 150.95,318.76 152,318.79 153.06,318.82 154.11,318.85 155.13,318.9 156.1,318.98 156.99,319.24 157.86,319.89 158.69,320.66 159.51,321.29 160.32,321.5 161.12,321.24 161.93,320.66 162.72,319.85 163.51,318.91 164.28,317.94 165.04,317.04 165.77,316.3 166.47,315.83 167.14,315.71 167.78,315.96 168.41,316.51 169.01,317.29 169.6,318.24 170.17,319.29 170.73,320.37 171.27,321.42 171.81,322.36 172.33,323.21 172.82,324.1 173.28,325.01 173.72,325.93 174.16,326.85 174.61,327.77 175.08,328.66 175.56,329.53 176.09,330.35 176.66,331.13 177.31,331.9 178.09,332.76 178.92,333.58 179.74,334.23 180.48,334.57 181.09,334.51 181.64,334.09 182.13,333.37 182.59,332.43 183.03,331.34 183.48,330.18 183.94,329.03 184.44,327.95 184.99,327.01 185.6,326.3 186.31,325.65 187.1,324.98 187.95,324.32 188.85,323.72 189.79,323.2 190.74,322.8 191.69,322.56 192.62,322.5 193.58,322.55 194.56,322.65 195.57,322.79 196.58,322.96 197.59,323.16 198.58,323.37 199.55,323.59 200.5,323.97 201.43,324.41 202.38,324.73 203.34,324.8 204.34,324.8 205.35,324.8 206.38,324.8 207.39,324.8 208.4,324.8 209.38,324.8 210.33,324.84 211.28,325.06 212.23,325.45 213.16,325.96 214.05,326.54 214.89,327.15 215.65,327.74 216.33,328.5 216.93,329.48 217.5,330.54 218.07,331.51 218.68,332.24 219.36,332.59 220.15,332.6 221.04,332.6 222.02,332.6 223.05,332.6 224.12,332.6 225.21,332.6 226.3,332.6 227.36,332.6 228.37,332.6 229.31,332.6 230.21,332.74 231.09,333.12 231.94,333.67 232.77,334.33 233.59,335.06 234.38,335.79 235.16,336.47 235.9,337.12 236.6,337.85 237.28,338.61 237.94,339.4 238.6,340.17 239.28,340.92 239.99,341.61 240.74,342.22 241.56,342.78 242.44,343.37 243.37,343.89 244.3,344.23 245.21,344.28 246.19,344.03 247.17,343.57 248.07,342.99 248.8,342.4 249.39,341.74 249.94,340.94 250.43,340.03 250.88,339.06 251.27,338.07 251.61,337.08 251.91,336.14 252.18,335.2 252.42,334.25 252.65,333.28 252.86,332.31 253.05,331.33 253.24,330.34 253.41,329.35 253.58,328.35 253.75,327.36 253.91,326.36 254.08,325.36 254.25,324.36 254.42,323.37 254.61,322.38 254.8,321.4 254.99,320.42 255.18,319.44 255.37,318.46 255.56,317.47 255.75,316.49 255.94,315.51 256.13,314.52 256.31,313.54 256.5,312.56 256.69,311.58 256.88,310.59 257.08,309.61 257.27,308.63 257.47,307.65 257.67,306.67 257.87,305.69 258.08,304.71 258.29,303.73 258.5,302.76 258.72,301.78 258.93,300.81 259.15,299.83 259.37,298.85 259.59,297.87 259.81,296.89 260.04,295.91 260.27,294.94 260.5,293.96 260.74,292.99 260.99,292.02 261.24,291.05 261.5,290.09 261.77,289.12 262.05,288.17 262.34,287.22 262.64,286.27 262.97,285.33 263.32,284.4 263.7,283.47 264.09,282.55 264.48,281.62 264.88,280.7 265.27,279.78 265.66,278.85 266.03,277.92 266.38,276.99 266.72,276.04 267.06,275.1 267.39,274.15 267.73,273.2 268.07,272.26 268.42,271.33 268.79,270.4 269.17,269.48 269.58,268.56 269.99,267.57 270.4,266.54 270.83,265.5 271.28,264.47 271.74,263.48 272.24,262.57 272.77,261.76 273.34,261.08 273.95,260.55 274.64,260.19 275.46,259.91 276.4,259.68 277.42,259.48 278.49,259.29 279.57,259.1 280.62,258.89 281.62,258.62 282.54,258.3 283.46,257.92 284.36,257.49 285.26,257.01 286.14,256.5 287,255.96 287.85,255.4 288.68,254.82 289.48,254.24 290.25,253.61 290.98,252.82 291.68,251.92 292.35,250.98 293.02,250.06 293.7,249.24 294.39,248.6 295.12,248.2 295.91,248.12 296.91,248.57 297.67,249.25 298,249.94 298.26,250.74 298.48,251.65 298.66,252.63 298.81,253.67 298.95,254.74 299.08,255.84 299.21,256.94 299.35,258.01 299.52,259.05 299.7,260.04 299.89,261.04 300.06,262.04 300.23,263.06 300.39,264.08 300.56,265.09 300.74,266.11 300.92,267.12 301.11,268.11 301.32,269.09 301.55,270.06 301.8,271 302.08,271.91 302.38,272.8 302.75,273.65 303.25,274.47 303.87,275.27 304.55,276.04 305.27,276.8 305.98,277.55 306.66,278.28 307.35,279 308.07,279.7 308.8,280.38 309.54,281.07 310.26,281.76 310.98,282.46 311.66,283.21 312.3,284.09 312.92,285.06 313.53,286.07 314.14,287.05 314.76,287.94 315.4,288.7 316.09,289.26 316.83,289.56 317.65,289.56 318.59,289.31 319.61,288.98 320.63,288.74 321.63,288.67 322.65,288.63 323.71,288.6 324.8,288.57 325.9,288.55 327.01,288.54 328.13,288.52 329.24,288.51 330.34,288.5 331.43,288.49 332.49,288.48 333.52,288.47 334.51,288.46 335.46,288.44 336.35,288.42 337.19,288.39 337.96,288.35 338.65,288.3 339.29,288.08 339.87,287.52 340.42,286.7 340.94,285.7 341.42,284.6 341.88,283.48 342.32,282.42 342.74,281.47 343.1,280.4 343.41,279.26 343.73,278.21 344.12,277.39 344.61,276.95 345.33,276.72 346.27,276.56 347.35,276.43 348.48,276.3 349.59,276.15 350.6,275.95 351.58,275.59 352.54,275.17 353.49,274.83 354.39,274.7 355.28,275.11 356.08,275.84 356.72,276.57 357.25,277.49 357.71,278.54 358.14,279.64 358.57,280.69 359.02,281.62 359.53,282.34 360.13,282.78 360.87,282.97 361.76,283.12 362.76,283.22 363.83,283.31 364.94,283.39 366.03,283.49 367.08,283.63 368.03,283.81 368.96,284.1 369.91,284.52 370.86,285.06 371.75,285.67 372.57,286.34 373.27,287.03 373.82,287.74 374.27,288.48 374.68,289.32 375.05,290.23 375.39,291.19 375.7,292.19 375.99,293.22 376.26,294.25 376.51,295.27 376.74,296.26 376.97,297.23 377.18,298.2 377.37,299.18 377.55,300.16 377.72,301.15 377.88,302.14 378.04,303.13 378.19,304.12 378.33,305.12 378.48,306.11 378.63,307.11 378.78,308.1 378.94,309.09 379.11,310.07 379.3,311.06 379.49,312.04 379.7,313.01 379.92,313.99 380.14,314.98 380.37,315.99 380.6,317 380.85,318.01 381.1,319.01 381.37,320.01 381.66,320.99 381.97,321.95 382.3,322.89 382.65,323.8 383.03,324.67 383.44,325.51 383.92,326.29 384.55,327.02 385.29,327.71 386.08,328.39 386.86,329.08 387.58,329.79 388.24,330.62 388.87,331.56 389.48,332.56 390.09,333.55 390.7,334.49 391.34,335.31 392.01,335.96 392.72,336.37 393.5,336.5 394.37,336.45 395.33,336.33 396.35,336.18 397.41,336.03 398.47,335.89 399.49,335.81 400.47,335.85 401.45,336.19 402.41,336.65 403.34,337.02 404.23,337.07 405.07,336.78 405.87,336.23 406.65,335.48 407.42,334.63 408.18,333.74 408.95,332.88 409.74,332.15 410.55,331.6 411.4,331.32 412.3,331.31 413.26,331.36 414.25,331.45 415.27,331.57 416.3,331.72 417.33,331.89 418.33,332.07 419.31,332.26 420.25,332.48 421.18,332.77 422.1,333.13 423.01,333.54 423.91,334 424.8,334.48 425.69,335 426.57,335.52 427.45,336.04 428.33,336.56 429.21,337.05 430.07,337.55 430.93,338.09 431.77,338.68 432.61,339.28 433.44,339.89 434.28,340.5 435.11,341.09 435.95,341.65 436.81,342.16 437.67,342.61 438.56,342.99 439.46,343.29 440.39,343.53 441.35,343.77 442.32,344 443.3,344.21 444.3,344.41 445.31,344.58 446.32,344.72 447.33,344.82 448.33,344.88 449.33,344.9 450.42,344.9 451.56,344.9 452.68,344.9 453.67,344.9 454.45,344.9 454.96,345.05 455.36,345.68 455.68,346.65 455.97,347.83 456.27,349.07 456.61,350.23 457.04,351.17 457.58,351.96 458.22,352.71 458.92,353.43 459.67,354.13 460.45,354.82 461.22,355.49 461.97,356.16 462.71,356.84 463.46,357.54 464.23,358.21 465.02,358.85 465.83,359.42 466.68,359.89 467.6,360.33 468.59,360.71 469.52,360.9 470.4,360.64 471.24,359.95 471.94,359.12 472.43,358.37 472.86,357.55 473.23,356.66 473.57,355.73 473.88,354.75 474.16,353.75 474.43,352.74 474.7,351.72 474.96,350.71 475.24,349.72 475.54,348.76 475.83,347.8 476.11,346.84 476.39,345.88 476.67,344.92 476.94,343.96 477.21,343 477.48,342.03 477.75,341.07 478.01,340.1 478.28,339.14 478.55,338.18 478.83,337.21 479.11,336.25 479.39,335.29 479.68,334.34 479.97,333.38 480.27,332.42 480.57,331.47 480.87,330.51 481.17,329.56 481.47,328.61 481.77,327.65 482.07,326.7 482.36,325.74 482.65,324.78 482.93,323.82 483.21,322.86 483.48,321.9 483.76,320.94 484.03,319.97 484.3,319.01 484.57,318.04 484.83,317.08 485.1,316.11 485.35,315.14 485.61,314.18 485.86,313.21 486.1,312.24 486.34,311.27 486.56,310.29 486.79,309.32 487,308.34 487.2,307.36 487.39,306.38 487.57,305.39 487.74,304.39 487.91,303.39 488.07,302.39 488.22,301.39 488.37,300.39 488.51,299.38 488.65,298.38 488.8,297.37 488.94,296.36 489.08,295.36 489.22,294.36 489.37,293.36 489.52,292.36 489.67,291.37 489.84,290.38 490,289.39 490.18,288.41 490.37,287.43 490.56,286.47 490.77,285.5 490.99,284.55 491.22,283.6 491.47,282.67 491.73,281.74 492.02,280.82 492.37,279.91 492.76,279.01 493.2,278.12 493.68,277.24 494.18,276.36 494.7,275.49 495.24,274.62 495.79,273.76 496.34,272.9 496.88,272.04 497.41,271.18 497.93,270.3 498.48,269.29 499.07,268.18 499.66,267.06 500.25,266 500.81,265.08 501.33,264.38 501.77,263.97 502.14,263.92 502.46,264.11 502.74,264.5 503.01,265.07 503.24,265.8 503.46,266.67 503.67,267.66 503.86,268.75 504.05,269.92 504.24,271.15 504.43,272.42 504.62,273.71 504.82,275.01 505.04,276.28 505.28,277.52 505.54,278.71 505.83,279.82 506.14,280.83 506.5,281.73 506.92,282.69 507.41,283.72 507.96,284.78 508.56,285.83 509.19,286.82 509.86,287.7 510.55,288.43 511.25,288.97 511.95,289.26 512.65,289.26 513.48,288.94 514.37,288.38 515.27,287.65 516.1,286.83 516.8,286 517.3,285.23 517.7,284.46 518.07,283.65 518.4,282.79 518.71,281.9 518.99,280.97 519.26,280.01 519.5,279.03 519.73,278.03 519.95,277.01 520.17,275.97 520.37,274.93 520.58,273.89 520.79,272.85 521.01,271.81 521.23,270.79 521.47,269.77 521.72,268.78 522,267.81 522.28,266.85 522.58,265.9 522.88,264.94 523.18,263.99 523.48,263.04 523.79,262.08 524.11,261.13 524.42,260.18 524.74,259.23 525.05,258.28 525.37,257.33 525.68,256.38 525.99,255.43 526.3,254.48 526.61,253.53 526.91,252.58 527.21,251.62 527.51,250.67 527.81,249.71 528.11,248.76 528.41,247.8 528.7,246.85 529,245.89 529.29,244.94 529.59,243.98 529.88,243.02 530.17,242.07 530.46,241.11 530.75,240.15 531.04,239.19 531.32,238.23 531.6,237.27 531.88,236.31 532.16,235.35 532.44,234.39 532.71,233.43 532.99,232.47 533.26,231.5 533.53,230.54 533.8,229.58 534.07,228.61 534.33,227.65 534.6,226.69 534.87,225.72 535.13,224.76 535.39,223.79 535.66,222.83 535.92,221.86 536.18,220.89 536.45,219.93 536.71,218.96 536.96,217.97 537.19,216.94 537.4,215.87 537.6,214.78 537.8,213.68 538,212.59 538.2,211.5 538.41,210.43 538.63,209.39 538.87,208.4 539.14,207.46 539.44,206.58 539.78,205.78 540.15,205.06 540.57,204.44 541.17,203.85 542.04,203.27 543.06,202.8 544.1,202.53 545.11,202.5 546.26,202.5 547.37,202.5 548.22,202.5 548.73,202.43 549.16,202.12 549.55,201.58 549.89,200.84 550.19,199.93 550.47,198.89 550.72,197.74 550.95,196.52 551.17,195.25 551.39,193.98 551.61,192.72 551.84,191.51 552.08,190.39 552.33,189.38 552.6,188.41 552.85,187.44 553.1,186.48 553.35,185.5 553.59,184.53 553.83,183.56 554.06,182.59 554.3,181.61 554.54,180.64 554.78,179.67 555.03,178.7 555.28,177.73 555.53,176.77 555.79,175.8 556.06,174.84 556.34,173.88 556.62,172.91 556.89,171.93 557.17,170.94 557.44,169.95 557.72,168.97 558.02,167.99 558.33,167.02 558.65,166.07 559,165.13 559.37,164.23 559.76,163.35 560.19,162.51 560.68,161.62 561.25,160.65 561.89,159.66 562.58,158.75 563.32,157.98 564.09,157.44 564.87,157.2 565.78,157.29 566.86,157.57 567.91,157.99 568.73,158.46 569.22,158.97 569.65,159.64 570.03,160.46 570.37,161.39 570.67,162.4 570.95,163.48 571.19,164.59 571.41,165.71 571.61,166.81 571.8,167.86 571.98,168.84 572.13,169.84 572.26,170.84 572.37,171.87 572.47,172.9 572.55,173.93 572.63,174.97 572.71,176.01 572.79,177.04 572.88,178.06 572.98,179.07 573.09,180.06 573.21,181.03 573.36,181.98 573.54,182.89 573.74,183.78 574.04,184.7 574.56,185.74 575.23,186.72 575.98,187.47 576.73,187.8 577.51,187.68 578.39,187.3 579.32,186.75 580.24,186.09 581.1,185.42 581.85,184.77 582.49,183.9 583.07,182.88 583.63,181.83 584.2,180.91 584.81,180.25 585.51,180 586.31,180.01 587.19,180.03 588.15,180.07 589.16,180.11 590.21,180.17 591.28,180.23 592.37,180.3 593.44,180.37 594.49,180.44 595.5,180.52 596.5,180.63 597.49,180.77 598.49,180.9 599.48,180.99 600.49,181 601.6,180.96 602.78,180.88 603.96,180.78 605.09,180.64 606.12,180.48 606.98,180.29 607.62,180.08 608.04,179.79 608.37,179.2 608.66,178.35 608.9,177.3 609.12,176.14 609.33,174.93 609.53,173.74 609.73,172.64 609.94,171.65 610.14,170.67 610.33,169.69 610.51,168.71 610.68,167.72 610.85,166.73 611.01,165.74 611.18,164.75 611.34,163.76 611.5,162.77 611.67,161.79 611.85,160.8 612.03,159.82 612.22,158.84 612.42,157.86 612.63,156.89 612.86,155.91 613.09,154.92 613.31,153.92 613.55,152.91 613.79,151.9 614.05,150.9 614.31,149.9 614.6,148.92 614.9,147.95 615.22,147.01 615.57,146.09 615.95,145.21 616.35,144.37 616.8,143.55 617.37,142.63 618.04,141.69 618.8,140.86 619.6,140.26 620.43,140 621.37,140.13 622.43,140.48 623.3,140.93 623.86,141.47 624.31,142.22 624.69,143.14 625.03,144.16 625.36,145.23 625.7,146.29 626.09,147.29 626.56,148.19 627.08,149.21 627.64,150.26 628.26,151.16 628.92,151.71 629.65,151.8 630.46,151.8 631.35,151.8 632.31,151.8 633.32,151.8 634.38,151.8 635.46,151.8 636.55,151.8 637.64,151.8 638.72,151.8 639.77,151.8 640.77,151.8 641.74,151.92 642.71,152.32 643.66,152.78 644.59,153.07 645.5,153.04 646.39,152.76 647.27,152.3 648.15,151.72 649.01,151.08 649.86,150.43 650.72,149.85 651.57,149.33 652.44,148.81 653.31,148.28 654.16,147.73 654.99,147.17 655.79,146.58 656.54,145.95 657.26,145.29 657.99,144.59 658.7,143.85 659.38,143.08 660.03,142.28 660.62,141.47 661.15,140.63 661.61,139.79 661.99,138.9 662.33,137.97 662.63,137 662.9,136.02 663.17,135.02 663.45,134.04 663.76,133.07 664.1,132.14 664.5,131.25 664.97,130.27 665.51,129.2 666.11,128.23 666.77,127.53 667.48,127.3 668.28,127.52 669.19,128 670.16,128.56 671.15,129.04 672.12,129.29 673.06,129.24 674.01,129.01 674.96,128.66 675.91,128.25 676.86,127.82 677.8,127.41 678.75,127.05 679.71,126.62 680.69,126.14 681.67,125.65 682.65,125.17 683.61,124.72 684.54,124.33 685.43,124.03 686.28,123.85 687.06,123.81 687.78,124.09 688.45,124.7 689.09,125.53 689.71,126.49 690.33,127.48 690.99,128.42 691.69,129.2 692.45,129.82 693.27,130.38 694.12,130.92 694.99,131.44 695.86,131.96 696.71,132.5 697.53,133.07 698.3,133.71 699.03,134.42 699.74,135.15 700.47,135.85 701.23,136.46 702.06,136.97 702.96,137.47 703.9,137.96 704.86,138.4 705.83,138.74 706.77,138.95 707.67,138.98 708.52,138.68 709.35,138.1 710.16,137.36 710.97,136.58 711.8,135.88 712.66,135.38 713.57,135.17 714.55,135.06 715.59,134.96 716.64,134.89 717.67,134.83 718.63,134.8 719.5,134.84 720.3,135.19 721.04,135.79 721.75,136.58 722.45,137.46 723.16,138.36 723.9,139.17 724.68,139.81 725.54,140.28 726.47,140.73 727.43,141.12 728.4,141.36 729.35,141.38 730.31,141.2 731.27,140.88 732.23,140.46 733.16,139.97 734.05,139.45 734.89,138.95 735.69,138.39 736.48,137.73 737.23,137.01 737.91,136.25 738.52,135.46 739.04,134.67 739.52,133.85 739.98,132.98 740.4,132.09 740.81,131.18 741.19,130.24 741.56,129.29 741.91,128.33 742.26,127.36 742.59,126.38 742.92,125.41 743.24,124.45 743.57,123.5 743.89,122.56 744.2,121.61 744.5,120.66 744.8,119.7 745.09,118.74 745.37,117.78 745.65,116.82 745.92,115.85 746.18,114.89 746.44,113.92 746.7,112.95 746.94,111.98 747.17,111.01 747.4,110.04 747.63,109.06 747.85,108.08 748.07,107.11 748.29,106.13 748.51,105.16 748.75,104.18 748.99,103.21 749.23,102.24 749.5,101.28 749.77,100.32 750.05,99.36 750.34,98.4 750.63,97.45 750.93,96.49 751.23,95.54 751.53,94.58 751.84,93.63 752.14,92.67 752.44,91.72 752.73,90.76 753.02,89.8 753.3,88.84 753.57,87.88 753.84,86.91 754.09,85.94 754.34,84.97 754.59,83.99 754.83,83.01 755.07,82.04 755.32,81.06 755.56,80.08 755.81,79.11 756.07,78.14 756.33,77.18 756.6,76.21 756.88,75.26 757.17,74.31 757.48,73.36 757.8,72.43 758.14,71.5 758.49,70.54 758.84,69.53 759.22,68.5 759.61,67.46 760.02,66.43 760.46,65.45 760.93,64.52 761.42,63.67 761.96,62.92 762.54,62.29 763.16,61.79 763.96,61.33 764.92,60.89 765.96,60.5 767.03,60.18 768.04,59.97 768.91,59.9 769.73,60.2 770.52,60.92 771.22,61.85 771.74,62.77 772.1,63.6 772.41,64.47 772.69,65.39 772.93,66.33 773.15,67.31 773.35,68.31 773.54,69.33 773.72,70.35 773.89,71.38 774.07,72.41 774.26,73.43 774.46,74.44 774.68,75.42 774.92,76.4 775.16,77.37 775.4,78.34 775.64,79.31 775.89,80.28 776.13,81.25 776.38,82.22 776.63,83.19 776.88,84.15 777.13,85.12 777.39,86.09 777.64,87.06 777.89,88.03 778.15,88.99 778.4,89.96 778.66,90.93 778.92,91.89 779.19,92.86 779.45,93.82 779.71,94.79 779.97,95.76 780.23,96.72 780.49,97.69 780.75,98.66 781,99.62 781.25,100.59 781.49,101.56 781.73,102.53 781.98,103.5 782.22,104.48 782.45,105.45 782.68,106.42 782.88,107.4 783.07,108.38 783.24,109.37 783.41,110.35 783.56,111.34 783.71,112.33 783.86,113.32 783.99,114.31 784.13,115.3 784.26,116.29 784.39,117.28 784.52,118.28 784.65,119.27 784.77,120.26 784.91,121.26 785.04,122.25 785.18,123.24 785.32,124.23 785.47,125.22 785.63,126.21 785.78,127.2 785.93,128.19 786.08,129.18 786.22,130.17 786.37,131.16 786.53,132.16 786.68,133.15 786.84,134.14 787,135.13 787.16,136.11 787.33,137.1 787.51,138.09 787.69,139.07 787.88,140.05 788.07,141.03 788.28,142 788.49,142.97 788.71,144.03 788.93,145.23 789.15,146.5 789.39,147.76 789.66,148.93 789.97,149.93 790.32,150.69 790.73,151.12 791.25,151.15 792.2,150.71 793.16,150.05 793.69,149.38 794.09,148.59 794.41,147.69 794.69,146.7 794.93,145.66 795.17,144.6 795.42,143.54 795.7,142.52 796.04,141.56 796.46,140.69 796.98,139.83 797.57,138.98 798.23,138.17 798.93,137.42 799.66,136.76 800.41,136.21 801.22,135.65 802.1,135.1 803.01,134.58 803.96,134.1 804.93,133.69 805.91,133.37 806.88,133.17 807.83,133.1 808.79,133.16 809.76,133.33 810.75,133.58 811.74,133.89 812.71,134.25 813.66,134.62 814.58,134.99 815.49,135.46 816.42,136.11 817.34,136.85 818.23,137.59 819.06,138.23 819.81,138.7 820.45,138.9 820.98,138.75 821.47,138.28 821.91,137.54 822.32,136.59 822.71,135.49 823.08,134.3 823.44,133.09 823.8,131.9 824.16,130.81 824.54,129.85 824.9,128.86 825.23,127.81 825.54,126.72 825.85,125.61 826.14,124.49 826.44,123.38 826.75,122.31 827.08,121.29 827.42,120.34 827.8,119.47 828.21,118.71 828.67,118.08 829.17,117.59 829.79,117.24 830.62,116.96 831.6,116.74 832.69,116.55 833.81,116.36 834.93,116.16 835.97,115.91 836.88,115.6 837.63,115.17 838.31,114.55 838.94,113.79 839.53,112.93 840.12,112.03 840.72,111.13 841.35,110.29 842.04,109.57 842.88,108.82 843.85,108.03 844.79,107.32 845.54,106.84 845.95,106.71 846.21,106.89 846.43,107.33 846.63,107.99 846.81,108.83 846.96,109.83 847.1,110.95 847.23,112.17 847.34,113.45 847.44,114.77 847.54,116.08 847.64,117.37 847.73,118.59 847.83,119.73 847.94,120.75 848.04,121.74 848.13,122.74 848.22,123.74 848.31,124.73 848.39,125.73 848.46,126.73 848.54,127.73 848.61,128.73 848.68,129.72 848.75,130.72 848.81,131.72 848.88,132.72 848.95,133.72 849.02,134.72 849.09,135.72 849.16,136.72 849.24,137.72 849.32,138.71 849.4,139.71 849.49,140.71 849.58,141.7 849.68,142.69 849.79,143.69 849.9,144.68 850.03,145.67 850.16,146.66 850.3,147.65 850.45,148.64 850.6,149.62 850.77,150.61 850.93,151.6 851.11,152.58 851.28,153.57 851.46,154.56 851.64,155.54 851.82,156.53 852,157.51 852.18,158.5 852.36,159.48 852.54,160.47 852.71,161.45 852.88,162.44 853.06,163.42 853.24,164.41 853.43,165.39 853.62,166.37 853.8,167.36 853.99,168.34 854.18,169.32 854.37,170.3 854.56,171.29 854.75,172.27 854.94,173.25 855.12,174.23 855.3,175.22 855.47,176.2 855.65,177.19 855.81,178.18 855.96,179.17 856.11,180.16 856.25,181.16 856.38,182.15 856.52,183.15 856.65,184.15 856.8,185.14 856.95,186.13 857.12,187.11 857.3,188.09 857.5,189.06 857.72,190.02 857.97,191 858.25,191.99 858.56,192.97 858.9,193.94 859.28,194.89 859.69,195.8 860.13,196.66 860.61,197.48 861.24,198.4 861.99,199.25 862.77,199.69 863.55,199.53 864.36,198.99 865.2,198.26 866.05,197.55 866.9,196.99 867.81,196.51 868.73,196.04 869.63,195.56 870.47,195.04 871.23,194.47 871.87,193.77 872.42,192.94 872.93,192.02 873.42,191.07 873.93,190.16 874.49,189.33 875.13,188.65 876.03,188.04 876.95,187.62 877.46,187.84 877.86,188.7 878.18,189.9 878.42,191.1 878.61,192.1 878.79,193.07 878.94,194.05 879.09,195.03 879.22,196.02 879.34,197.02 879.45,198.02 879.56,199.02 879.66,200.02 879.75,201.02 879.84,202.03 879.92,203.03 880,204.03 880.09,205.03 880.17,206.03 880.25,207.02 880.32,208.02 880.39,209.02 880.46,210.02 880.53,211.01 880.59,212.01 880.65,213.01 880.71,214.01 880.77,215.01 880.83,216.01 880.89,217.01 880.94,218.01 881,219.01 881.05,220.01 881.11,221 881.17,222 881.22,223 881.28,224 881.33,225 881.38,226 881.43,227 881.48,228 881.53,229 881.58,230 881.63,230.99 881.68,231.99 881.73,232.99 881.78,233.99 881.83,234.99 881.88,235.99 881.93,236.99 881.98,237.99 882.03,238.99 882.08,239.99 882.13,240.99 882.18,241.99 882.22,242.99 882.27,243.99 882.31,244.99 882.36,245.99 882.41,246.99 882.45,247.99 882.5,248.99 882.56,249.99 882.61,250.99 882.66,251.98 882.72,252.98 882.79,253.98 882.85,254.98 882.92,255.97 883,256.97 883.08,257.96 883.18,258.96 883.28,259.95 883.39,260.94 883.52,261.94 883.65,262.93 883.78,263.92 883.92,264.91 884.07,265.9 884.22,266.89 884.37,267.89 884.52,268.88 884.67,269.86 884.83,270.85 884.98,271.84 885.12,272.84 885.26,273.84 885.39,274.85 885.53,275.86 885.66,276.87 885.81,277.87 885.96,278.87 886.13,279.86 886.32,280.83 886.53,281.79 886.77,282.73 887.05,283.64 887.46,284.52 887.98,285.38 888.55,286.23 889.14,287.07 889.69,287.92 890.21,288.78 890.73,289.64 891.27,290.49 891.79,291.35 892.31,292.21 892.81,293.07 893.29,293.95 893.72,294.84 894.12,295.75 894.47,296.69 894.8,297.65 895.1,298.63 895.4,299.61 895.69,300.59 895.99,301.56 896.31,302.52 896.65,303.46 897.02,304.36 897.44,305.23 897.92,306.08 898.51,307.06 899.19,308.02 899.91,308.73 900.63,309 901.36,308.76 902.13,308.16 902.91,307.37 903.69,306.51 904.45,305.74 905.2,305.07 905.93,304.39 906.66,303.71 907.38,303.01 908.09,302.31 908.8,301.6" fill="none" stroke="#089981" stroke-width="0.7"/>
<polyline points="6.8,325.4 7.64,324.85 8.47,324.29 9.29,323.72 10.11,323.15 10.93,322.56 11.73,321.98 12.54,321.38 13.33,320.78 14.13,320.17 14.91,319.56 15.7,318.93 16.47,318.3 17.25,317.66 18.01,317.01 18.76,316.36 19.51,315.69 20.24,315.02 20.96,314.33 21.67,313.62 22.38,312.91 23.07,312.19 23.77,311.47 24.46,310.74 25.15,310.01 25.84,309.29 26.54,308.57 27.24,307.86 27.96,307.16 28.68,306.47 29.42,305.8 30.17,305.14 30.94,304.5 31.72,303.87 32.51,303.25 33.3,302.64 34.1,302.03 34.89,301.42 35.69,300.8 36.47,300.18 37.24,299.55 38,298.9 38.74,298.24 39.47,297.56 40.18,296.86 40.87,296.15 41.56,295.43 42.24,294.7 42.92,293.96 43.58,293.21 44.25,292.46 44.91,291.7 45.57,290.95 46.23,290.19 46.89,289.43 47.55,288.68 48.22,287.94 48.9,287.2 49.58,286.46 50.26,285.73 50.95,285 51.64,284.28 52.34,283.55 53.03,282.83 53.72,282.1 54.41,281.37 55.09,280.64 55.77,279.9 56.43,279.16 57.09,278.41 57.74,277.65 58.37,276.88 58.99,276.1 59.59,275.3 60.17,274.49 60.73,273.66 61.29,272.82 61.85,271.98 62.4,271.14 62.96,270.31 63.52,269.48 64.1,268.67 64.7,267.87 65.32,267.1 65.96,266.34 66.62,265.6 67.3,264.87 67.99,264.15 68.7,263.44 69.41,262.74 70.13,262.04 70.85,261.34 71.58,260.65 72.31,259.95 73.03,259.25 73.75,258.55 74.45,257.84 75.16,257.13 75.85,256.41 76.55,255.68 77.24,254.96 77.94,254.23 78.63,253.51 79.33,252.79 80.04,252.07 80.75,251.37 81.46,250.67 82.19,249.99 82.93,249.32 83.68,248.67 84.44,248.04 85.21,247.4 85.99,246.76 86.78,246.12 87.57,245.49 88.38,244.88 89.2,244.28 90.02,243.7 90.86,243.14 91.71,242.61 92.56,242.12 93.43,241.66 94.31,241.23 95.21,240.78 96.13,240.32 97.06,239.86 98,239.43 98.96,239.02 99.92,238.67 100.88,238.38 101.84,238.16 102.81,238.03 103.76,238.01 104.76,238.1 105.77,238.3 106.79,238.59 107.77,238.92 108.69,239.29 109.53,239.66 110.31,240.11 111.06,240.66 111.79,241.29 112.49,242.01 113.17,242.78 113.82,243.6 114.46,244.46 115.08,245.33 115.68,246.21 116.28,247.07 116.86,247.92 117.43,248.73 117.99,249.54 118.52,250.38 119.04,251.22 119.55,252.08 120.05,252.95 120.53,253.82 121.01,254.7 121.49,255.59 121.96,256.48 122.43,257.37 122.91,258.26 123.39,259.15 123.87,260.03 124.36,260.9 124.86,261.77 125.37,262.63 125.89,263.49 126.4,264.34 126.92,265.2 127.44,266.06 127.96,266.91 128.48,267.77 129,268.62 129.53,269.47 130.06,270.32 130.59,271.17 131.13,272.01 131.67,272.85 132.21,273.69 132.75,274.53 133.3,275.38 133.83,276.25 134.35,277.13 134.88,278.02 135.4,278.91 135.94,279.79 136.49,280.65 137.05,281.49 137.64,282.29 138.26,283.04 138.91,283.75 139.59,284.39 140.36,285.05 141.22,285.74 142.12,286.33 143.02,286.72 143.87,286.77 144.68,286.36 145.47,285.62 146.26,284.77 147.07,283.99 147.91,283.48 148.8,283.4 149.74,283.44 150.72,283.49 151.73,283.56 152.75,283.64 153.78,283.71 154.82,283.76 155.83,283.8 156.84,283.8 157.84,283.77 158.85,283.73 159.86,283.68 160.87,283.62 161.88,283.56 162.88,283.5 163.88,283.45 164.86,283.42 165.84,283.4 166.81,283.45 167.81,283.62 168.81,283.89 169.8,284.25 170.77,284.68 171.7,285.15 172.59,285.64 173.4,286.14 174.14,286.64 174.83,287.22 175.48,287.89 176.09,288.62 176.68,289.42 177.24,290.27 177.79,291.16 178.32,292.06 178.86,292.98 179.4,293.89 179.96,294.79 180.53,295.67 181.12,296.5 181.75,297.28 182.38,298.12 183.01,299.02 183.65,299.93 184.3,300.83 184.97,301.65 185.67,302.37 186.4,302.94 187.18,303.32 188.03,303.5 188.99,303.65 190.02,303.77 191.07,303.85 192.09,303.9 193.05,303.83 193.98,303.52 194.89,303.03 195.79,302.46 196.69,301.88 197.6,301.39 198.53,301.07 199.48,301 200.45,301.01 201.44,301.04 202.44,301.07 203.45,301.12 204.47,301.18 205.48,301.24 206.49,301.31 207.49,301.38 208.48,301.46 209.46,301.59 210.45,301.75 211.43,301.94 212.41,302.15 213.39,302.38 214.37,302.6 215.35,302.83 216.33,303.05 217.31,303.25 218.29,303.44 219.28,303.66 220.27,303.88 221.25,304.08 222.24,304.23 223.22,304.3 224.22,304.28 225.23,304.21 226.26,304.09 227.29,303.93 228.32,303.73 229.33,303.49 230.32,303.24 231.27,302.96 232.19,302.66 233.05,302.36 233.87,302 234.66,301.53 235.42,300.96 236.17,300.3 236.89,299.57 237.59,298.78 238.28,297.96 238.94,297.13 239.6,296.28 240.24,295.46 240.87,294.66 241.49,293.89 242.09,293.1 242.67,292.29 243.24,291.47 243.8,290.64 244.35,289.8 244.89,288.95 245.43,288.09 245.96,287.24 246.48,286.38 247,285.53 247.51,284.67 248.01,283.8 248.49,282.93 248.98,282.05 249.46,281.17 249.94,280.3 250.44,279.43 250.96,278.57 251.49,277.73 252.04,276.89 252.61,276.07 253.18,275.25 253.76,274.43 254.34,273.61 254.91,272.79 255.47,271.96 256.02,271.13 256.55,270.28 257.06,269.42 257.56,268.56 258.04,267.68 258.51,266.8 258.97,265.91 259.43,265.02 259.88,264.12 260.33,263.22 260.78,262.32 261.23,261.43 261.69,260.53 262.15,259.64 262.62,258.76 263.1,257.88 263.59,257.02 264.09,256.16 264.62,255.31 265.15,254.47 265.69,253.63 266.24,252.79 266.8,251.95 267.36,251.11 267.94,250.29 268.53,249.47 269.13,248.66 269.74,247.86 270.36,247.07 270.99,246.3 271.63,245.55 272.29,244.81 272.96,244.09 273.65,243.37 274.36,242.65 275.09,241.95 275.84,241.26 276.6,240.59 277.37,239.94 278.16,239.31 278.96,238.72 279.76,238.16 280.59,237.62 281.43,237.11 282.3,236.62 283.19,236.14 284.09,235.68 285,235.24 285.92,234.83 286.85,234.43 287.77,234.05 288.7,233.67 289.64,233.27 290.6,232.86 291.56,232.47 292.52,232.11 293.48,231.82 294.44,231.61 295.39,231.51 296.33,231.55 297.29,231.76 298.25,232.12 299.19,232.58 300.11,233.09 300.99,233.62 301.81,234.13 302.6,234.68 303.35,235.28 304.09,235.94 304.8,236.65 305.5,237.38 306.19,238.15 306.86,238.93 307.52,239.71 308.19,240.5 308.85,241.27 309.51,242.02 310.15,242.79 310.78,243.58 311.38,244.4 311.97,245.23 312.56,246.07 313.15,246.9 313.74,247.72 314.35,248.53 314.97,249.31 315.61,250.06 316.29,250.77 316.99,251.42 317.75,252.07 318.56,252.77 319.42,253.41 320.3,253.86 321.2,254.01 322.13,254.04 323.08,254.07 324.05,254.09 325.05,254.11 326.06,254.13 327.08,254.15 328.1,254.16 329.14,254.17 330.17,254.18 331.2,254.19 332.22,254.19 333.24,254.2 334.23,254.2 335.22,254.19 336.19,254.07 337.15,253.85 338.11,253.55 339.07,253.21 340.03,252.85 340.98,252.5 341.95,252.18 342.91,251.92 343.88,251.64 344.86,251.35 345.83,251.08 346.81,250.86 347.79,250.73 348.78,250.7 349.79,250.71 350.83,250.73 351.87,250.76 352.91,250.8 353.92,250.85 354.9,250.9 355.84,250.96 356.71,251.06 357.55,251.33 358.37,251.77 359.16,252.35 359.92,253.04 360.68,253.82 361.41,254.64 362.14,255.47 362.86,256.3 363.57,257.07 364.29,257.78 364.99,258.48 365.68,259.2 366.36,259.93 367.03,260.67 367.7,261.42 368.36,262.18 369.01,262.94 369.66,263.7 370.32,264.46 370.97,265.22 371.62,265.98 372.28,266.74 372.95,267.48 373.62,268.23 374.29,268.98 374.96,269.73 375.62,270.48 376.26,271.25 376.89,272.02 377.49,272.81 378.07,273.62 378.63,274.44 379.18,275.28 379.72,276.13 380.24,276.98 380.76,277.84 381.26,278.71 381.76,279.58 382.25,280.45 382.72,281.34 383.16,282.24 383.6,283.14 384.05,284.04 384.5,284.94 384.97,285.81 385.48,286.66 386.01,287.5 386.56,288.34 387.13,289.16 387.72,289.99 388.32,290.8 388.94,291.6 389.57,292.39 390.22,293.16 390.88,293.91 391.56,294.64 392.24,295.35 392.96,296.02 393.73,296.65 394.52,297.26 395.34,297.86 396.15,298.46 396.93,299.09 397.68,299.74 398.42,300.42 399.14,301.12 399.84,301.83 400.52,302.56 401.18,303.32 401.82,304.1 402.45,304.89 403.08,305.67 403.72,306.45 404.36,307.21 405.03,307.95 405.73,308.64 406.46,309.32 407.22,310.02 407.99,310.71 408.79,311.38 409.6,311.99 410.44,312.52 411.3,312.95 412.19,313.26 413.12,313.52 414.08,313.74 415.07,313.94 416.07,314.12 417.08,314.29 418.09,314.46 419.09,314.63 420.08,314.81 421.06,314.98 422.05,315.16 423.03,315.33 424.02,315.5 425.01,315.66 426,315.81 426.99,315.96 427.99,316.09 429.01,316.19 430.04,316.29 431.04,316.4 431.98,316.55 432.83,316.82 433.63,317.32 434.38,317.99 435.11,318.76 435.83,319.56 436.57,320.34 437.34,321.02 438.17,321.53 439.05,321.98 439.97,322.42 440.92,322.83 441.89,323.17 442.87,323.41 443.85,323.5 444.84,323.5 445.89,323.5 446.97,323.5 448.05,323.5 449.12,323.5 450.15,323.5 451.12,323.5 452.01,323.5 452.81,323.5 453.52,323.29 454.18,322.81 454.79,322.11 455.37,321.24 455.92,320.26 456.47,319.21 457.03,318.15 457.6,317.13 458.2,316.21 458.84,315.42 459.53,314.69 460.25,313.98 461,313.29 461.76,312.6 462.54,311.93 463.32,311.25 464.1,310.58 464.86,309.9 465.59,309.21 466.3,308.51 466.97,307.79 467.59,307.05 468.15,306.28 468.65,305.49 469.13,304.66 469.57,303.81 470,302.94 470.41,302.04 470.8,301.13 471.17,300.2 471.54,299.26 471.89,298.31 472.24,297.35 472.58,296.39 472.92,295.42 473.26,294.45 473.6,293.49 473.94,292.53 474.3,291.57 474.66,290.62 475.04,289.69 475.42,288.77 475.81,287.84 476.19,286.92 476.58,285.99 476.96,285.07 477.34,284.14 477.73,283.22 478.11,282.29 478.5,281.37 478.9,280.45 479.29,279.53 479.69,278.61 480.1,277.7 480.52,276.79 480.94,275.88 481.37,274.98 481.81,274.09 482.26,273.2 482.72,272.32 483.21,271.45 483.71,270.58 484.22,269.72 484.73,268.86 485.25,268 485.76,267.14 486.27,266.28 486.77,265.41 487.26,264.54 487.74,263.66 488.21,262.77 488.68,261.89 489.14,261 489.61,260.12 490.08,259.23 490.56,258.36 491.05,257.48 491.55,256.62 492.06,255.77 492.59,254.92 493.13,254.08 493.68,253.24 494.23,252.41 494.8,251.58 495.36,250.75 495.93,249.93 496.51,249.11 497.08,248.29 497.65,247.47 498.23,246.65 498.83,245.84 499.44,245.04 500.06,244.25 500.68,243.45 501.3,242.66 501.92,241.86 502.53,241.06 503.13,240.26 503.71,239.45 504.27,238.63 504.8,237.79 505.31,236.95 505.78,236.08 506.23,235.21 506.66,234.31 507.07,233.41 507.47,232.5 507.87,231.58 508.25,230.65 508.62,229.71 508.99,228.78 509.36,227.84 509.72,226.9 510.09,225.96 510.46,225.03 510.84,224.09 511.23,223.17 511.62,222.25 512.02,221.33 512.41,220.41 512.81,219.49 513.2,218.58 513.6,217.66 514,216.74 514.39,215.82 514.79,214.9 515.19,213.99 515.58,213.07 515.98,212.15 516.37,211.23 516.77,210.31 517.16,209.39 517.55,208.47 517.94,207.55 518.33,206.63 518.71,205.7 519.1,204.78 519.48,203.85 519.86,202.93 520.25,202.01 520.63,201.08 521.02,200.16 521.41,199.24 521.81,198.32 522.2,197.4 522.61,196.49 523.01,195.57 523.43,194.67 523.85,193.76 524.29,192.86 524.73,191.96 525.17,191.06 525.62,190.16 526.06,189.27 526.51,188.37 526.94,187.47 527.37,186.56 527.78,185.65 528.19,184.74 528.57,183.82 528.95,182.9 529.33,181.97 529.7,181.04 530.07,180.11 530.43,179.18 530.79,178.24 531.13,177.3 531.47,176.35 531.8,175.41 532.12,174.46 532.43,173.51 532.72,172.56 533,171.6 533.27,170.64 533.52,169.67 533.76,168.7 533.99,167.73 534.22,166.75 534.43,165.77 534.65,164.79 534.87,163.81 535.08,162.83 535.31,161.85 535.54,160.87 535.78,159.9 536.03,158.94 536.29,157.98 536.57,157.02 536.87,156.07 537.19,155.13 537.53,154.19 537.88,153.26 538.25,152.32 538.63,151.4 539.03,150.47 539.42,149.55 539.83,148.63 540.24,147.72 540.64,146.81 541.05,145.89 541.47,144.99 541.89,144.08 542.32,143.17 542.76,142.27 543.2,141.37 543.65,140.47 544.11,139.58 544.57,138.69 545.04,137.81 545.52,136.93 546.01,136.06 546.5,135.2 547,134.33 547.51,133.47 548.03,132.61 548.55,131.75 549.09,130.89 549.64,130.05 550.2,129.22 550.78,128.4 551.37,127.6 551.97,126.81 552.59,126.04 553.24,125.28 553.9,124.52 554.59,123.77 555.29,123.04 556.02,122.34 556.76,121.66 557.52,121.02 558.3,120.43 559.1,119.8 559.93,119.14 560.79,118.5 561.67,117.93 562.57,117.49 563.49,117.24 564.43,117.2 565.46,117.2 566.53,117.2 567.57,117.2 568.52,117.2 569.35,117.27 570.12,117.7 570.86,118.43 571.54,119.33 572.17,120.31 572.74,121.23 573.23,122.06 573.68,122.91 574.1,123.8 574.48,124.72 574.84,125.66 575.18,126.61 575.51,127.58 575.84,128.55 576.18,129.51 576.53,130.47 576.89,131.41 577.29,132.34 577.72,133.23 578.16,134.16 578.62,135.16 579.08,136.19 579.56,137.2 580.07,138.18 580.61,139.08 581.19,139.86 581.81,140.5 582.48,140.94 583.26,141.25 584.2,141.53 585.24,141.76 586.31,141.93 587.33,142 588.29,141.95 589.25,141.77 590.2,141.47 591.15,141.1 592.08,140.66 593.01,140.19 593.93,139.7 594.83,139.23 595.72,138.79 596.6,138.32 597.48,137.81 598.33,137.28 599.16,136.71 599.96,136.13 600.74,135.52 601.49,134.87 602.23,134.19 602.95,133.49 603.66,132.77 604.35,132.03 605.03,131.29 605.69,130.54 606.33,129.78 606.94,128.98 607.52,128.15 608.09,127.31 608.64,126.45 609.21,125.61 609.78,124.78 610.37,123.98 611,123.23 611.67,122.53 612.39,121.81 613.16,121.03 613.96,120.28 614.8,119.64 615.66,119.18 616.55,119 617.48,119 618.49,119 619.53,119 620.57,119 621.59,119 622.54,119 623.43,119.2 624.28,119.7 625.1,120.4 625.9,121.2 626.71,121.99 627.53,122.69 628.37,123.2 629.25,123.4 630.18,123.39 631.14,123.35 632.12,123.29 633.13,123.21 634.15,123.11 635.17,123 636.2,122.88 637.21,122.75 638.22,122.61 639.2,122.47 640.17,122.29 641.14,122.07 642.1,121.81 643.06,121.52 644.02,121.2 644.97,120.87 645.92,120.53 646.87,120.18 647.81,119.84 648.76,119.51 649.72,119.2 650.68,118.89 651.65,118.58 652.61,118.25 653.57,117.92 654.5,117.56 655.41,117.18 656.29,116.76 657.13,116.29 657.94,115.75 658.73,115.14 659.5,114.49 660.26,113.8 661,113.1 661.74,112.4 662.48,111.72 663.22,111.05 663.97,110.38 664.72,109.7 665.45,109.01 666.18,108.31 666.88,107.6 667.56,106.88 668.21,106.13 668.82,105.33 669.36,104.44 669.87,103.5 670.38,102.57 670.9,101.7 671.49,100.96 672.15,100.39 672.91,99.91 673.77,99.46 674.69,99.04 675.66,98.66 676.67,98.32 677.69,98.03 678.7,97.79 679.69,97.6 680.66,97.45 681.65,97.31 682.65,97.18 683.66,97.08 684.66,97.02 685.65,97 686.64,97.05 687.64,97.17 688.63,97.34 689.62,97.56 690.6,97.81 691.57,98.08 692.54,98.35 693.49,98.63 694.44,98.92 695.37,99.27 696.31,99.65 697.23,100.07 698.13,100.51 699.03,100.97 699.9,101.45 700.75,101.95 701.58,102.52 702.39,103.11 703.21,103.7 704.03,104.27 704.85,104.86 705.67,105.46 706.49,106.05 707.32,106.62 708.16,107.15 709.03,107.62 709.92,108.04 710.83,108.48 711.77,108.91 712.73,109.3 713.69,109.6 714.66,109.77 715.63,109.79 716.65,109.73 717.69,109.6 718.72,109.42 719.71,109.2 720.64,108.95 721.47,108.65 722.26,108.13 723,107.43 723.7,106.62 724.36,105.77 724.97,104.94 725.54,104.15 726.08,103.32 726.59,102.46 727.09,101.58 727.56,100.69 728.02,99.78 728.47,98.88 728.91,97.98 729.34,97.08 729.75,96.17 730.15,95.26 730.53,94.33 730.91,93.41 731.29,92.48 731.68,91.55 732.07,90.63 732.47,89.71 732.88,88.8 733.31,87.9 733.75,87 734.19,86.11 734.64,85.21 735.1,84.32 735.56,83.43 736.02,82.54 736.49,81.66 736.95,80.77 737.41,79.88 737.87,78.99 738.33,78.1 738.78,77.21 739.22,76.31 739.66,75.41 740.08,74.51 740.5,73.6 740.91,72.69 741.31,71.78 741.7,70.86 742.09,69.94 742.48,69.02 742.86,68.09 743.24,67.17 743.61,66.24 743.99,65.31 744.36,64.38 744.72,63.45 745.09,62.52 745.45,61.59 745.82,60.65 746.18,59.72 746.55,58.79 746.91,57.86 747.28,56.92 747.65,55.99 748.02,55.06 748.39,54.13 748.76,53.2 749.12,52.27 749.47,51.33 749.82,50.39 750.17,49.44 750.51,48.5 750.85,47.55 751.2,46.6 751.54,45.66 751.88,44.71 752.23,43.77 752.58,42.83 752.94,41.89 753.31,40.96 753.68,40.03 754.06,39.11 754.45,38.19 754.85,37.28 755.27,36.38 755.7,35.49 756.14,34.61 756.61,33.74 757.1,32.86 757.61,32 758.15,31.14 758.72,30.31 759.3,29.49 759.91,28.71 760.54,27.9 761.2,27.06 761.91,26.28 762.67,25.69 763.51,25.37 764.47,25.13 765.5,24.96 766.52,24.9 767.54,24.9 768.58,24.9 769.56,24.9 770.46,24.98 771.29,25.47 772.07,26.23 772.82,27.02 773.52,27.71 774.21,28.44 774.87,29.2 775.5,29.99 776.11,30.79 776.69,31.6 777.25,32.42 777.79,33.27 778.31,34.13 778.8,35 779.28,35.88 779.74,36.77 780.18,37.66 780.61,38.56 781.04,39.46 781.45,40.37 781.85,41.29 782.25,42.21 782.64,43.13 783.03,44.06 783.41,44.98 783.79,45.91 784.16,46.84 784.53,47.77 784.9,48.7 785.27,49.63 785.64,50.56 786.01,51.49 786.37,52.43 786.72,53.36 787.06,54.3 787.41,55.24 787.75,56.18 788.09,57.12 788.42,58.07 788.76,59.01 789.1,59.95 789.44,60.89 789.78,61.83 790.13,62.77 790.48,63.71 790.84,64.64 791.21,65.57 791.58,66.5 791.95,67.43 792.32,68.36 792.69,69.29 793.07,70.22 793.45,71.15 793.83,72.07 794.22,73 794.61,73.92 795.01,74.84 795.42,75.75 795.83,76.66 796.25,77.57 796.68,78.47 797.13,79.36 797.58,80.24 798.04,81.14 798.51,82.03 798.99,82.92 799.48,83.8 799.98,84.68 800.5,85.54 801.03,86.39 801.58,87.23 802.14,88.05 802.73,88.84 803.33,89.63 803.95,90.52 804.59,91.45 805.26,92.39 805.96,93.27 806.68,94.03 807.44,94.63 808.24,95 809.07,95.1 810.05,95.1 811.15,95.1 812.24,95.1 813.23,95.1 814.01,95.09 814.67,94.83 815.27,94.31 815.83,93.56 816.35,92.64 816.83,91.6 817.3,90.48 817.76,89.35 818.22,88.24 818.68,87.21 819.16,86.31 819.62,85.41 820.06,84.5 820.49,83.56 820.9,82.62 821.3,81.67 821.7,80.72 822.1,79.77 822.5,78.83 822.92,77.91 823.35,77 823.8,76.12 824.28,75.27 824.79,74.45 825.33,73.68 825.91,72.94 826.57,72.24 827.3,71.55 828.08,70.89 828.9,70.26 829.74,69.67 830.59,69.11 831.43,68.59 832.29,68.11 833.18,67.65 834.09,67.22 835.01,66.81 835.94,66.42 836.87,66.05 837.8,65.67 838.74,65.25 839.69,64.83 840.65,64.44 841.6,64.12 842.56,63.89 843.51,63.8 844.5,63.89 845.53,64.14 846.54,64.52 847.44,64.96 848.17,65.42 848.8,66 849.39,66.71 849.93,67.54 850.43,68.46 850.9,69.43 851.35,70.43 851.77,71.44 852.17,72.42 852.57,73.35 852.94,74.27 853.3,75.2 853.64,76.14 853.97,77.08 854.29,78.04 854.59,79 854.89,79.96 855.18,80.92 855.46,81.88 855.74,82.84 856,83.8 856.26,84.77 856.5,85.74 856.73,86.72 856.97,87.69 857.2,88.67 857.43,89.64 857.67,90.61 857.92,91.58 858.18,92.55 858.45,93.51 858.74,94.46 859.04,95.41 859.36,96.36 859.68,97.3 860.02,98.25 860.36,99.19 860.71,100.12 861.07,101.06 861.43,102 861.79,102.93 862.16,103.86 862.53,104.79 862.89,105.72 863.26,106.66 863.62,107.59 863.99,108.52 864.36,109.45 864.73,110.38 865.11,111.31 865.5,112.23 865.89,113.15 866.29,114.07 866.69,114.98 867.11,115.89 867.54,116.79 867.99,117.68 868.47,118.56 868.97,119.43 869.48,120.3 870.01,121.16 870.55,122.01 871.09,122.87 871.64,123.72 872.18,124.57 872.72,125.43 873.25,126.29 873.76,127.15 874.26,128.01 874.73,128.89 875.18,129.77 875.6,130.66 875.99,131.57 876.34,132.48 876.67,133.41 876.99,134.34 877.29,135.29 877.58,136.25 877.86,137.21 878.13,138.17 878.39,139.15 878.65,140.12 878.9,141.1 879.14,142.07 879.39,143.05 879.64,144.03 879.89,145 880.14,145.97 880.39,146.94 880.63,147.91 880.87,148.88 881.1,149.85 881.33,150.83 881.56,151.8 881.79,152.78 882.02,153.75 882.26,154.72 882.51,155.69 882.76,156.66 883.03,157.62 883.31,158.58 883.58,159.55 883.86,160.51 884.14,161.48 884.43,162.45 884.73,163.41 885.04,164.37 885.36,165.32 885.7,166.26 886.05,167.19 886.42,168.11 886.82,169.01 887.25,169.9 887.76,170.76 888.3,171.6 888.86,172.44 889.38,173.3 889.88,174.17 890.36,175.04 890.84,175.92 891.31,176.81 891.77,177.7 892.22,178.59 892.65,179.49 893.08,180.39 893.48,181.31 893.87,182.23 894.25,183.15 894.63,184.08 894.99,185.02 895.36,185.95 895.73,186.88 896.1,187.81 896.48,188.74 896.87,189.66 897.27,190.57 897.69,191.48 898.12,192.38 898.56,193.28 899,194.19 899.45,195.09 899.92,195.98 900.4,196.87 900.89,197.74 901.4,198.6 901.92,199.44 902.47,200.26 903.05,201.07 903.66,201.86 904.31,202.64 904.98,203.39 905.68,204.12 906.4,204.8 907.16,205.44 907.96,206.04 908.8,206.6" fill="none" stroke="#2962ff" stroke-width="0.7"/>
<path d="M6.88 312.88V318.29M8.73 312.69V319.02M10.57 307.83V317.38M12.42 301.83V312.2M21.64 305.77V318.93M23.48 298.67V310.36M25.32 293.29V306.25M27.17 291.86V303.71M29.01 281.13V296.32M30.86 278.63V286.04M34.54 284.18V294.64M38.23 280.94V291.29M40.08 278.64V289.11M41.92 265.9V287.02M45.61 268.58V275.76M47.45 255.57V275.04M51.14 263.66V268.82M54.83 252.86V275.04M60.36 250.81V272.01M62.2 248.68V262.09M64.05 246.15V256.28M65.89 231.99V243.12M69.58 238.68V247.11M71.42 236.51V250.48M78.8 245.83V257.79M80.64 242.42V248.78M82.49 243.66V248.34M84.33 231.75V244.79M88.02 217.68V237.11M93.55 234.56V241.57M95.4 232.73V239.49M97.24 230.32V243.81M100.93 223.95V236.47M102.77 222.13V233.59M113.84 283.44V297.2M117.52 290.47V295.17M121.21 281.73V292.49M132.28 288.93V311.24M134.12 279.34V298.17M137.81 287.65V299.12M139.65 283.36V293.39M141.5 268.98V286.84M143.34 255.7V269.86M145.18 254.12V262.16M147.03 246.07V263.15M148.87 242.93V254.47M152.56 291.75V307.58M154.4 285.02V294.76M156.25 284.68V293.72M161.78 299.6V310.8M165.47 286.21V308.13M167.31 284.66V297.01M172.84 302.54V316.06M174.69 296.45V310.76M182.06 315.45V325.82M183.91 303.24V317.7M187.6 299.99V316.26M189.44 297.04V308.48M191.28 290.61V306.72M193.13 287.05V298.39M196.82 282.04V293.27M198.66 278.82V297.8M213.41 307.29V313.41M218.94 325.21V333.05M220.79 319.76V329.64M222.63 315.9V323.39M224.48 305.7V320.53M226.32 290.55V310.07M228.16 296.42V312.95M230.01 285.08V298.88M231.85 276.28V290.18M233.7 267.12V281.86M235.54 272.83V282.54M237.38 255.07V272.72M241.07 256.06V272.29M244.76 245.4V263.21M246.6 247.95V251.71M248.45 239.21V252.79M252.14 241.47V248.78M257.67 245.44V252.87M261.36 245.83V257.37M266.89 231.01V250.87M270.58 226.24V242.43M272.42 224.68V237.51M276.11 227.19V243.6M277.95 208.73V230.15M289.02 228.73V237.15M294.55 230.63V240.28M296.39 229.29V238.82M301.92 267.69V273.58M305.61 278.67V287.22M307.46 260.3V282.23M311.14 257.89V267.51M314.83 262.27V267.6M320.36 245.1V263.59M322.21 240.09V252.52M324.05 229.72V243.11M325.9 225.72V234.44M338.8 257.52V270.16M340.65 258.94V287.17M342.49 250.28V266.89M344.34 243.92V261.23M346.18 245.15V257.92M349.87 248.87V262.68M357.24 267.1V275.95M362.78 266.21V286.62M364.62 267.48V279.28M370.15 274.51V287.4M384.9 313.79V328.27M386.75 308.96V318.58M388.59 303.68V317.68M392.28 308.04V321.19M394.12 304.71V315.13M395.97 307.24V320.24M397.81 298.52V308.17M399.66 287.49V297.8M403.34 309.17V321.33M408.88 301.22V325.08M416.25 321.17V330.1M419.94 320.14V328.93M423.63 322.34V329M427.32 297.11V329.81M429.16 296.89V305.66M440.22 333.47V346.31M442.07 331.93V340.48M443.91 322.97V335.97M445.76 319.58V328.32M454.98 307.39V314.41M460.51 270.41V286.22M462.35 274.05V281.44M464.2 265.45V283.88M467.88 259.16V273.85M469.73 255.71V261.47M471.57 242.83V257.86M477.1 242.46V254.43M478.95 232.24V250.06M484.48 242.14V260.69M488.17 243.7V253.12M490.01 238.09V249.85M491.86 238.31V249.34M493.7 231.12V239.31M495.54 229.3V244.77M497.39 223.19V229.69M501.08 220.69V237.06M504.76 180.62V235.75M506.61 136.06V185.61M508.45 155.54V170.08M512.14 142.49V164.47M519.52 174.03V187.55M521.36 174.98V183.78M523.2 160V181.25M528.74 143.26V167.72M530.58 128.44V152.56M532.42 126.3V139.46M534.27 108.13V132.54M536.11 102V113.99M537.96 99.54V114.4M539.8 85.57V109.37M543.49 90.44V108.7M545.33 81.75V98.77M547.18 73.51V87.25M552.71 118.75V125.03M556.4 111.62V121.62M561.93 142.42V151.88M565.62 137.86V156.53M567.46 125.7V138.36M571.15 133.14V148.83M572.99 160.91V225.84M574.84 179.4V195.92M576.68 169.49V185.13M578.52 158.62V174.96M580.37 141.22V159.25M582.21 139.25V158.53M584.06 125.78V149.03M587.74 115.8V129.82M589.59 108.75V120.4M591.43 112.11V122.48M593.28 110.14V124.89M598.81 109.93V122.65M600.65 108.92V115.24M602.5 97.1V115.26M606.18 95.25V119.26M613.56 126.99V141.64M620.94 120.26V138.2M624.62 121.26V136.3M628.31 146.51V156.07M630.16 132.37V150.99M632 97.4V119.51M633.84 99.91V110.52M637.53 105.61V120.55M639.38 106.92V120.09M641.22 107.74V116.51M643.06 103.62V112.47M644.91 78.48V101.36M648.6 109.99V118.98M652.28 105.15V118.48M655.97 111.58V132.06M657.82 98.94V121.11M659.66 101.47V111.16M663.35 91.12V111.94M665.19 81.78V91.38M668.88 89.03V102.85M670.72 74.72V91.2M672.57 73.85V82.37M678.1 93.29V101.14M679.94 89.5V102.88M681.79 82.46V107.04M689.16 119.52V135.92M692.85 120.38V143.23M696.54 106.57V125.23M703.92 111.82V125.96M705.76 104.4V119.22M709.45 103.74V118.24M713.14 95.95V109.16M716.82 98.05V107.35M718.67 82.39V101.34M720.51 73.7V84.2M724.2 71.51V88.22M726.04 59.63V72.99M727.89 52.36V66.68M729.73 47.39V57.96M735.26 35.89V56.11M737.11 32.18V42.94M740.8 30.32V41.45M742.64 28.1V39.6M744.48 20.31V34.22M746.33 11.4V26.24M750.02 18.08V36.26M751.86 6.95V41.45M753.7 4.54V12.7M755.55 -4.92V5.84M757.39 -11.97V-2.7M761.08 12.51V22.72M768.46 35.52V50.73M772.14 48.87V62.41M775.83 82.26V100.81M779.52 66.46V83.38M786.9 121.59V137.54M792.43 91.72V122.03M794.27 61.86V96.73M796.12 63.12V84.86M803.49 88.2V112.13M805.34 89.68V106.01M807.18 85.6V98.22M812.71 80.41V106.75M814.56 73.88V97.1M816.4 54.07V78.92M818.24 42.01V58.93M820.09 43.31V55.92M821.93 40.34V50.73M823.78 37.37V46.65M827.46 29.58V46.28M834.84 54.81V98.96M840.37 75.4V102.67M842.22 70.39V87.83M844.06 57.41V81.89M853.28 159.25V175.38M855.12 154.61V174.01M858.81 141.25V159.99M860.66 146.07V165.74M862.5 141.25V169.08M866.19 121.59V136.43M869.88 118.29V134.57M873.56 116.02V150.9M875.41 123.07V140.88M877.25 117.51V133.09M882.78 232.7V305.23M886.47 208.77V315.25M888.32 230.29V274.07M890.16 212.85V262.94M893.85 198.02V211M901.22 205.06V226.21M904.91 178.35V200.24M906.76 174.83V188M908.6 168.34V183.32" stroke="#089981" stroke-width="0.55" opacity="0.8" fill="none"/>
<path d="M14.26 294.37V307.24M16.1 301.15V311.61M17.95 305.2V321.43M19.79 311.56V320.41M32.7 280.49V291.39M36.39 283.07V297.34M43.76 265.35V275.16M49.3 259.18V268.23M52.98 264.27V271.64M56.67 254.15V268.18M58.52 258.13V272.8M67.74 229.22V241.57M73.27 232.9V247.85M75.11 248.57V257.52M76.96 252.28V256.98M86.18 228.28V237.63M89.86 227.9V239.26M91.71 229.72V247.25M99.08 229.94V239.53M104.62 224.44V234.15M106.46 227.73V241.94M108.3 236.05V248.42M110.15 262.65V282.48M111.99 267.79V291.33M115.68 282.4V293.36M119.37 287.49V296.31M123.06 281.09V298.22M124.9 290.15V300.28M126.74 296.48V310.51M128.59 297.82V308.43M130.43 294.46V301.62M135.96 280.64V302.92M150.72 249.11V278.33M158.09 287.09V305.04M159.94 294.7V308.61M163.62 298.85V305.55M169.16 287.31V307.85M171 297.47V309.82M176.53 301.12V316.88M178.38 312.66V324M180.22 317.27V324.89M185.75 302.31V319.95M194.97 287.45V295.46M200.5 276.85V299M202.35 285.5V296.46M204.19 287.81V298.42M206.04 295.25V305.38M207.88 297.44V303.07M209.72 296.2V315.31M211.57 306.26V312.68M215.26 310.8V322.56M217.1 317.7V338.25M239.23 261.23V270.11M242.92 248.59V258.17M250.29 236.87V255.66M253.98 242.18V252.05M255.82 244.13V251.29M259.51 243.34V254.37M263.2 237.49V245.67M265.04 238.91V254.98M268.73 232.94V241.77M274.26 224.38V237.48M279.8 212.41V221.76M281.64 216.38V223.63M283.48 219.12V231.18M285.33 216.36V224.57M287.17 216.2V232.08M290.86 231.23V238.27M292.7 231.98V240.21M298.24 228.96V244.3M300.08 255.1V268.14M303.77 269.07V281.72M309.3 262.55V278.15M312.99 252.49V266.72M316.68 260.82V274.53M318.52 269.77V278.29M327.74 219.03V237.44M329.58 229.83V233.73M331.43 230.37V241.46M333.27 236.48V247.94M335.12 241.19V258.02M336.96 256.1V274.58M348.02 242.8V259.2M351.71 240.03V260.29M353.56 258.51V269.83M355.4 264.38V276.32M359.09 269.8V279.3M360.93 267.29V282.71M366.46 266.28V278.02M368.31 272.21V288.18M372 274.88V283.05M373.84 275.01V284.37M375.68 279.95V292.09M377.53 298.27V305.78M379.37 316.73V323.1M381.22 316.52V328.5M383.06 318.81V327.4M390.44 306.11V319.05M401.5 293.72V319.89M405.19 308.22V320.71M407.03 317.97V324.67M410.72 306.76V320.04M412.56 315.48V331.14M414.41 319.22V331.18M418.1 318.18V329.61M421.78 323.59V330.77M425.47 313.07V333.64M431 297.76V314.36M432.85 310.87V329.41M434.69 326.4V333.13M436.54 319.28V334.84M438.38 327.36V344.19M447.6 320.77V328.37M449.44 307.24V313.34M451.29 306.45V322.17M453.13 319.79V326.14M456.82 258.23V274.21M458.66 269.7V280.73M466.04 264.28V275.66M473.42 239.19V253.22M475.26 246.48V250.28M480.79 238.04V248.76M482.64 235.53V261.04M486.32 236.38V250.57M499.23 220.52V234.45M502.92 219.85V237.76M510.3 155.52V165.62M513.98 143.07V159.28M515.83 161.08V180.23M517.67 172.46V184.27M525.05 156.75V160.54M526.89 156.79V173.36M541.64 92.28V112.33M549.02 98.85V110.56M550.86 102.58V126.37M554.55 113.72V127.76M558.24 119.56V144.08M560.08 140.56V149.3M563.77 139.99V146.17M569.3 125.31V147.11M585.9 126.98V134.25M595.12 107.57V119M596.96 102.07V121.09M604.34 108.79V113.9M608.03 93.15V111.87M609.87 102.58V133.49M611.72 123.12V137.38M615.4 125.96V137.71M617.25 131.28V139.2M619.09 131.81V138.32M622.78 123.08V127.89M626.47 143.89V153.18M635.69 104.74V115.04M646.75 98.59V116.91M650.44 107.58V119.13M654.13 117.7V134.78M661.5 101.74V113.04M667.04 72.83V95.47M674.41 64.48V79.16M676.26 82.53V100.25M683.63 77.41V100.05M685.48 79.35V106.68M687.32 99.65V116.95M691.01 121.31V139.82M694.7 121.03V130.15M698.38 96.71V113.4M700.23 105.97V127.62M702.07 107.36V124.84M707.6 107.71V120.19M711.29 104.28V108.82M714.98 100.44V106.89M722.36 71.25V83.37M731.58 45.91V54.81M733.42 45.53V54.81M738.95 22.53V39.23M748.17 9.55V34.03M759.24 -6.78V14M762.92 13.26V27.73M764.77 28.84V55.92M766.61 47.02V55.55M770.3 42.01V57.59M773.99 61.86V88.57M777.68 77.07V90.43M781.36 70.02V107.12M783.21 91.17V105.26M785.05 120.48V139.03M788.74 110.83V128.27M790.58 116.02V131.61M797.96 59.63V72.99M799.8 35.89V87.09M801.65 93.02V115.65M809.02 84.86V109.72M810.87 97.47V110.09M825.62 30.32V43.31M829.31 25.5V44.42M831.15 44.12V65.94M833 53.32V73.36M836.68 47.76V77.07M838.53 62.23V82.26M845.9 76.7V121.22M847.75 115.28V146.07M849.59 130.31V155.72M851.44 148.67V179.84M856.97 154.79V168.34M864.34 131.24V141.99M868.03 118.25V134.94M871.72 122.7V145.33M879.1 183.18V206.18M880.94 211.37V258.12M884.63 246.99V325.27M892 163.14V206.55M895.69 208.4V239.2M897.54 215.45V231.78M899.38 234V248.84M903.07 181.32V200.61" stroke="#f23645" stroke-width="0.55" opacity="0.8" fill="none"/>
<path d="M6.88 314.62v1.11M8.73 314.62v0.6M10.57 312.32v2.78M12.42 303.56v6.43M21.64 311.21v5M23.48 302.15v6.72M25.32 295.22v5.98M27.17 295.4v1.79M29.01 284.87v9.06M30.86 281.68v3.18M34.54 288.13v0.71M38.23 283.09v6.88M40.08 281.64v4.49M41.92 271.14v8.67M45.61 270.55v2.81M47.45 262.9v10.93M51.14 266.61v0.78M54.83 259.23v10.44M60.36 255.3v9.24M62.2 250.88v8.5M64.05 249.62v1.06M65.89 233.37v8.79M69.58 243.17v1.46M71.42 241.38v4.57M78.8 248.95v6.92M80.64 246.1v1.68M82.49 245.54v0.6M84.33 233.3v9.03M88.02 229.18v2.9M93.55 237.9v2.49M95.4 234.67v0.96M97.24 231.41v8.45M100.93 226.47v7.04M102.77 224.17v5.2M113.84 285.94v6.07M117.52 292.73v1.3M121.21 287.2v3.94M132.28 295.48v6.12M134.12 281.04v11.4M137.81 290.36v7.1M139.65 284.5v6.32M141.5 269.91v14.13M143.34 256.82v11.53M145.18 256v1.23M147.03 250.1v5.71M148.87 249.21v2.17M152.56 294.25v8.76M154.4 291.95v1.25M156.25 287.57v4.44M161.78 301v8.54M165.47 292.73v9.31M167.31 288.65v5.56M172.84 304.53v8.52M174.69 299.74v9.19M182.06 317.81v0.6M183.91 308.39v7.43M187.6 308.72v3.63M189.44 304.08v3.08M191.28 294.51v8.3M193.13 288.95v5.77M196.82 285.94v6.06M198.66 282.57v5.37M213.41 309.54v0.64M218.94 328.9v3.11M220.79 321.22v6.63M222.63 319.44v1.21M224.48 307.57v8.35M226.32 294.22v12.44M228.16 297.63v9.09M230.01 288.06v9.21M231.85 278.45v9.3M233.7 274.48v6.25M235.54 276.26v1.83M237.38 261.46v9.02M241.07 257.6v8.6M244.76 249.18v8.43M246.6 249.25v0.6M248.45 242.72v5.76M252.14 243.24v2.78M257.67 246.62v3.81M261.36 248.29v3.43M266.89 235.41v11.6M270.58 232.26v5.44M272.42 226.92v5.56M276.11 230.63v6.09M277.95 218.57v9.73M289.02 230.74v3.99M294.55 236.41v1.47M296.39 234.82v0.6M301.92 269.43v1.28M305.61 280.82v1.23M307.46 264.57v14.73M311.14 262.24v4.22M314.83 263.24v0.75M320.36 253.18v9.39M322.21 242.31v7.77M324.05 233.67v6.76M325.9 228.88v3.15M338.8 259.75v8M340.65 263.5v22.07M342.49 256.71v8.45M344.34 250.7v8.52M346.18 250.29v4.47M349.87 252.37v4.83M357.24 270.88v0.95M362.78 276.59v2.79M364.62 268.99v8.84M370.15 275.44v7.54M384.9 319.59v6.75M386.75 312.1v5.5M388.59 310.32v1.8M392.28 311.17v5.87M394.12 312.58v0.81M395.97 308.5v7.27M397.81 299.74v6.7M399.66 290.13v4.5M403.34 313.84v5.63M408.88 310.02v12.15M416.25 323.6v2.65M419.94 323.86v3.53M423.63 323.52v0.83M427.32 303.6v25.01M429.16 298v4.01M440.22 337.73v0.6M442.07 333.8v4.01M443.91 325.94v4.56M445.76 322.71v2.58M454.98 311.06v1.97M460.51 276.3v4.27M462.35 275.03v0.73M464.2 268.25v8.69M467.88 261.9v8.99M469.73 257.63v2.61M471.57 249.14v6.14M477.1 244.24v5.38M478.95 239.38v4.14M484.48 248.17v10.98M488.17 247.02v3.55M490.01 243.31v2.79M491.86 239.75v6.66M493.7 233.15v4.37M495.54 231.96v2.41M497.39 226.32v2.05M501.08 222.54v7.5M504.76 184.47v50.09M506.61 162.51v21.04M508.45 158.17v2.48M512.14 149.15v13.43M519.52 180.8v1.55M521.36 177.35v3.08M523.2 161.84v12.7M528.74 148.86v11.6M530.58 135.8v11.97M532.42 131.05v3.52M534.27 113.28v17.4M536.11 107.79v5.14M537.96 104.6v7.61M539.8 88.64v13.65M543.49 97.7v9.61M545.33 83.38v11.12M547.18 81.82v3.66M552.71 120.81v1.59M556.4 118.21v0.6M561.93 144.37v1.79M565.62 141.25v7.02M567.46 129.08v6.13M571.15 137.32v2.63M572.99 176.61v37.77M574.84 184.18v7.16M576.68 174.57v8.6M578.52 161.62v9.3M580.37 150.75v6.52M582.21 145.96v6.47M584.06 132.09v12.53M587.74 119.29v9.45M589.59 114.35v4.71M591.43 114.95v3.26M593.28 112.65v7.37M598.81 111.42v7.08M600.65 110.16v2.46M602.5 107.01v3.07M606.18 100.48v11.84M613.56 127.97v9.09M620.94 126.93v7.92M624.62 127.52v1.38M628.31 148.71v0.77M630.16 134.24v12.76M632 103.89v14.36M633.84 106.38v0.74M637.53 109.46v2.38M639.38 113.17v2.81M641.22 108.9v4.33M643.06 107.9v0.65M644.91 88.57v11.13M648.6 111.65v2.47M652.28 111.57v3.57M655.97 115.39v14.52M657.82 101.41v13.21M659.66 103.26v2.75M663.35 94.88v12.45M665.19 85.42v4.95M668.88 91.72v3.21M670.72 81.15v8.7M672.57 75.66v3.92M678.1 97.59v1.85M679.94 94.47v6.49M681.79 87.09v13.49M689.16 126v7.09M692.85 124v9.17M696.54 109.05v12.87M703.92 117.8v6.33M705.76 106.3v11.95M709.45 107.05v9.24M713.14 103.41v3.89M716.82 100.18v5.7M718.67 89.05v7.99M720.51 80.93v0.98M724.2 72.51v11.82M726.04 64.12v8.5M727.89 52.77v10.57M729.73 51.43v0.6M735.26 37.56v18.36M737.11 33.77v3.23M740.8 33.07v3.93M742.64 32.44v1.22M744.48 21.64v11.32M746.33 12.59v12.54M750.02 26.28v8.5M751.86 8.84v24.08M753.7 5.95v1.74M755.55 -4.92v10.02M757.39 -7.96v3.04M761.08 17.34v0.6M768.46 44.05v2.6M772.14 52.58v2.97M775.83 83.38v3.34M779.52 70.5v12.13M786.9 122.59v14.95M792.43 100.22v21.74M794.27 69.06v27.49M796.12 64.97v19.51M803.49 89.31v20.59M805.34 90.54v14.73M807.18 87.75v7.12M812.71 89.98v16.4M814.56 74.21v21.04M816.4 56.92v17.18M818.24 45.53v12.43M820.09 46.02v1.19M821.93 44.53v0.63M823.78 40.97v3.45M827.46 36.26v8.16M834.84 55.77v18.14M840.37 78.4v1.26M842.22 79.93v3.45M844.06 66.05v14.73M853.28 160.95v8.31M855.12 159.06v2.6M858.81 154.46v3.86M860.66 158.69v0.6M862.5 143.22v24.75M866.19 122.89v10.94M869.88 122.52v9.09M873.56 128.9v19.03M875.41 124.97v12.58M877.25 122.37v9.61M882.78 279.63v15.95M886.47 215.27v99.8M888.32 246.62v5.19M890.16 217.86v44.71M893.85 203.21v0.74M901.22 212.11v13.36M904.91 179.84v12.98M906.76 176.5v10.76M908.6 173.38v0.6" stroke="#089981" stroke-width="1.45" fill="none"/>
<path d="M14.26 302.52v0.63M16.1 305.21v1.51M17.95 306.86v9.65M19.79 314.96v0.6M32.7 282.63v4.13M36.39 286.2v7.08M43.76 269.9v3.02M49.3 263.42v3.53M52.98 265.99v4.52M56.67 256.91v3.51M58.52 261.95v3.7M67.74 233.14v5.83M73.27 236.35v9.23M75.11 250.53v2.72M76.96 254.18v1.04M86.18 232.46v1.8M89.86 229.58v6.91M91.71 236.5v4.41M99.08 232.09v4.06M104.62 226.83v0.6M106.46 229.55v8.98M108.3 242.16v1.6M110.15 264.79v13.02M111.99 278.67v10.8M115.68 288.31v3.6M119.37 290.65v2.75M123.06 282.1v12.56M124.9 291.91v6.01M126.74 300.69v6.77M128.59 302.96v2.68M130.43 299.48v1.16M135.96 282.6v16.03M150.72 254.04v20.37M158.09 288.16v10.77M159.94 298.32v8.36M163.62 302.06v1.65M169.16 290.75v11.18M171 302.2v5.52M176.53 304.84v10.19M178.38 316.05v4.65M180.22 319.23v0.6M185.75 309.45v3.95M194.97 289.03v2.15M200.5 279.89v9.58M202.35 288.02v1.93M204.19 288.96v6.82M206.04 299.55v1.08M207.88 301.26v0.78M209.72 302.79v8.83M211.57 307.26v3.91M215.26 311.42v6.8M217.1 320.82v13.02M239.23 264.77v2.62M242.92 254.37v1.12M250.29 242.67v3.06M253.98 244.41v3.8M255.82 246.49v2.39M259.51 246.05v4.38M263.2 242.94v0.6M265.04 244.65v5.57M268.73 235.34v4.16M274.26 228.52v7.79M279.8 216.21v1.8M281.64 217.54v2.48M283.48 220.39v5.86M285.33 220.91v1.45M287.17 223.02v7.16M290.86 232.26v2.48M292.7 236.13v0.66M298.24 231.64v7.07M300.08 258.67v5.6M303.77 270.71v7.41M309.3 264.81v1.32M312.99 257.4v7.06M316.68 265.32v6.41M318.52 273.15v2.1M327.74 226.83v4.58M329.58 231.28v1.35M331.43 234.55v4.57M333.27 238.44v3.24M335.12 244.76v10.61M336.96 259.23v9.65M348.02 250.84v3.49M351.71 248.58v10.09M353.56 260.09v6.41M355.4 265.51v4.3M359.09 271.72v4.91M360.93 275.28v4.13M366.46 268.01v7.84M368.31 275.73v5.17M372 277.92v2.01M373.84 278.44v3.98M375.68 281.23v5.24M377.53 299.3v4.08M379.37 319.33v2.52M381.22 320.2v5.37M383.06 321.47v4.54M390.44 312.59v5.52M401.5 296.33v20.89M405.19 313.29v5.86M407.03 320.35v3.03M410.72 312.89v3.92M412.56 316.56v5.63M414.41 322.72v3.88M418.1 323.75v2.93M421.78 326.79v1.26M425.47 321.91v8.63M431 302.27v10.05M432.85 313.86v10.74M434.69 329.22v0.6M436.54 328.36v4.92M438.38 333.42v7.43M447.6 323.37v1.53M449.44 308.21v1.1M451.29 310.06v11.02M453.13 323.78v1.11M456.82 260.53v12.13M458.66 274.17v4.69M466.04 267.28v6.61M473.42 245.37v3.32M475.26 247.84v0.74M480.79 241.75v3.01M482.64 244.46v15.21M486.32 243.29v4.85M499.23 224.43v7.05M502.92 223.71v12.81M510.3 157.78v6.88M513.98 146.62v11.37M515.83 162.51v12.57M517.67 179v4.21M525.05 157.9v0.79M526.89 161.19v10.41M541.64 94.51v14.21M549.02 101.74v2.11M550.86 106.2v15.09M554.55 117.59v4.52M558.24 121.96v20.26M560.08 144.18v1.93M563.77 141.79v1.53M569.3 131.72v11.17M585.9 129.02v1.4M595.12 110.12v2.94M596.96 109.09v10.9M604.34 111.26v1.47M608.03 95.91v7.5M609.87 105.26v21.26M611.72 126.89v6.75M615.4 132.71v1.05M617.25 132.6v0.83M619.09 133.75v2.64M622.78 125.54v0.98M626.47 149.78v0.67M635.69 105.72v7.07M646.75 101.56v12.21M650.44 111.6v4.16M654.13 120.11v10.43M661.5 103.3v5.49M667.04 78.85v14.25M674.41 71.67v6.29M676.26 84.49v12.39M683.63 84.94v1.14M685.48 86.4v12.93M687.32 103.64v11.23M691.01 127.9v1.44M694.7 123.04v3.67M698.38 105.51v5.47M700.23 112.81v8.3M702.07 113.85v7.26M707.6 109.47v8.78M711.29 105.63v0.6M714.98 101.82v3.37M722.36 77.2v4.21M731.58 47.8v3.52M733.42 51.84v0.6M738.95 33.07v5.45M748.17 17.34v15.4M759.24 -3.44v8.2M762.92 16.6v7.35M764.77 29.58v18.74M766.61 49.99v0.6M770.3 51.47v2.97M773.99 62.6v11.69M777.68 82.08v5.38M781.36 72.43v33.72M783.21 91.91v7.87M785.05 121.96v5.05M788.74 119.36v3.86M790.58 118.99v7.49M797.96 67.42v4.12M799.8 35.89v41.55M801.65 99.74v7.38M809.02 90.05v18.44M810.87 101.18v7.23M825.62 40.53v1.48M829.31 32.92v3.56M831.15 46.65v14.62M833 64.83v7.79M836.68 55.92v13.99M838.53 71.13v6.57M845.9 79.3v29.75M847.75 122.7v10.98M849.59 136.43v11.58M851.44 151.83v23.26M856.97 158.32v5.6M864.34 133.09v1M868.03 123.81v7.31M871.72 130.49v14.1M879.1 190.59v8.53M880.94 233.63v20.41M884.63 260.34v53.05M892 168.71v33.02M895.69 216.94v15.21M897.54 221.39v0.74M899.38 235.86v0.6M903.07 188.74v5.19" stroke="#f23645" stroke-width="1.45" fill="none"/>
<text x="945.3" y="89.1" font-size="6.4" fill="#4a3aa8" stroke="#4a3aa8" stroke-width="0.2">TP3</text>
<text x="945.3" y="118.6" font-size="6.4" fill="#4a3aa8" stroke="#4a3aa8" stroke-width="0.2">TP2</text>
<text x="945.3" y="149.9" font-size="6.4" fill="#4a3aa8" stroke="#4a3aa8" stroke-width="0.2">TP1</text>
<text x="948.4" y="237.0" font-size="6.4" fill="#4a3aa8" stroke="#4a3aa8" stroke-width="0.2">SL</text>
</g>
<path d="M107.4 392.7L112.85 395.9V403.8Q112.85 405 111.65 405H103.15Q101.95 405 101.95 403.8V395.9Z" fill="#fff" stroke="#22ab94" stroke-width="1.3" stroke-linejoin="round"/><text x="107.4" y="402.1" font-size="6.6" font-weight="bold" fill="#22ab94" text-anchor="middle">E</text>
<circle cx="119.3" cy="399.1" r="5.6" fill="#fff" stroke="#2962ff" stroke-width="1.3"/><text x="119.4" y="401.5" font-size="6.6" font-weight="bold" fill="#2962ff" text-anchor="middle">D</text>
<path d="M225.2 392.7L230.65 395.9V403.8Q230.65 405 229.45 405H220.95Q219.75 405 219.75 403.8V395.9Z" fill="#fff" stroke="#22ab94" stroke-width="1.3" stroke-linejoin="round"/><text x="225.2" y="402.1" font-size="6.6" font-weight="bold" fill="#22ab94" text-anchor="middle">E</text>
<circle cx="237.7" cy="399.1" r="5.6" fill="#fff" stroke="#2962ff" stroke-width="1.3"/><text x="237.8" y="401.5" font-size="6.6" font-weight="bold" fill="#2962ff" text-anchor="middle">D</text>
<path d="M338 392.7L343.45 395.9V403.8Q343.45 405 342.25 405H333.75Q332.55 405 332.55 403.8V395.9Z" fill="#fff" stroke="#22ab94" stroke-width="1.3" stroke-linejoin="round"/><text x="338" y="402.1" font-size="6.6" font-weight="bold" fill="#22ab94" text-anchor="middle">E</text>
<circle cx="349.9" cy="399.1" r="5.6" fill="#fff" stroke="#2962ff" stroke-width="1.3"/><text x="350" y="401.5" font-size="6.6" font-weight="bold" fill="#2962ff" text-anchor="middle">D</text>
<path d="M454.4 392.7L459.85 395.9V403.8Q459.85 405 458.65 405H450.15Q448.95 405 448.95 403.8V395.9Z" fill="#fff" stroke="#22ab94" stroke-width="1.3" stroke-linejoin="round"/><text x="454.4" y="402.1" font-size="6.6" font-weight="bold" fill="#22ab94" text-anchor="middle">E</text>
<circle cx="466.2" cy="399.1" r="5.6" fill="#fff" stroke="#2962ff" stroke-width="1.3"/><text x="466.3" y="401.5" font-size="6.6" font-weight="bold" fill="#2962ff" text-anchor="middle">D</text>
<path d="M569.1 392.7L574.55 395.9V403.8Q574.55 405 573.35 405H564.85Q563.65 405 563.65 403.8V395.9Z" fill="#fff" stroke="#22ab94" stroke-width="1.3" stroke-linejoin="round"/><text x="569.1" y="402.1" font-size="6.6" font-weight="bold" fill="#22ab94" text-anchor="middle">E</text>
<circle cx="582" cy="399.1" r="5.6" fill="#fff" stroke="#2962ff" stroke-width="1.3"/><text x="582.1" y="401.5" font-size="6.6" font-weight="bold" fill="#2962ff" text-anchor="middle">D</text>
<path d="M687.4 392.7L692.85 395.9V403.8Q692.85 405 691.65 405H683.15Q681.95 405 681.95 403.8V395.9Z" fill="#fff" stroke="#22ab94" stroke-width="1.3" stroke-linejoin="round"/><text x="687.4" y="402.1" font-size="6.6" font-weight="bold" fill="#22ab94" text-anchor="middle">E</text>
<circle cx="698.6" cy="399.1" r="5.6" fill="#fff" stroke="#2962ff" stroke-width="1.3"/><text x="698.7" y="401.5" font-size="6.6" font-weight="bold" fill="#2962ff" text-anchor="middle">D</text>
<path d="M797.6 392.7L803.05 395.9V403.8Q803.05 405 801.85 405H793.35Q792.15 405 792.15 403.8V395.9Z" fill="#fff" stroke="#22ab94" stroke-width="1.3" stroke-linejoin="round"/><text x="797.6" y="402.1" font-size="6.6" font-weight="bold" fill="#22ab94" text-anchor="middle">E</text>
<circle cx="811.1" cy="399.1" r="5.6" fill="#fff" stroke="#2962ff" stroke-width="1.3"/><text x="811.2" y="401.5" font-size="6.6" font-weight="bold" fill="#2962ff" text-anchor="middle">D</text>
<path d="M908.2 393.3A5.9 5.9 0 0 0 908.2 405" fill="none" stroke="url(#arcg)" stroke-width="0.9"/>
<rect x="908.6" y="393.3" width="12.2" height="11.9" rx="1.4" fill="#fff" stroke="#e040fb" stroke-width="1.2"/>
<text x="914.7" y="402.0" font-size="6.6" font-weight="bold" fill="#e040fb" text-anchor="middle">E</text>
<path d="M902.1 398.3Q902.6 400.9 905.2 401.4Q902.6 401.9 902.1 404.5Q901.6 401.9 899 401.4Q901.6 400.9 902.1 398.3Z" fill="#7c4dff"/>
<text class="k2" x="28.2" y="418.7" font-size="7.2" fill="#131722" text-anchor="middle">Jun</text>
<text class="k2" x="67.2" y="418.7" font-size="7.2" fill="#131722" text-anchor="middle">Jul</text>
<text class="k2" x="103.2" y="418.7" font-size="7.2" fill="#131722" text-anchor="middle">Aug</text>
<text class="k2" x="146.2" y="418.7" font-size="7.2" fill="#131722" text-anchor="middle">Sep</text>
<text class="k2" x="183.2" y="418.7" font-size="7.2" fill="#131722" text-anchor="middle">Oct</text>
<text class="k2" x="223.2" y="418.7" font-size="7.2" fill="#131722" text-anchor="middle">Nov</text>
<text class="k2" x="262.2" y="418.7" font-size="7.2" fill="#131722" text-anchor="middle">Dec</text>
<text class="k2" x="299.2" y="418.7" font-size="7.2" fill="#131722" text-anchor="middle" font-weight="bold">2024</text>
<text class="k2" x="338.2" y="418.7" font-size="7.2" fill="#131722" text-anchor="middle">Feb</text>
<text class="k2" x="375.2" y="418.7" font-size="7.2" fill="#131722" text-anchor="middle">Mar</text>
<text class="k2" x="412.2" y="418.7" font-size="7.2" fill="#131722" text-anchor="middle">Apr</text>
<text class="k2" x="452.2" y="418.7" font-size="7.2" fill="#131722" text-anchor="middle">May</text>
<text class="k2" x="493.2" y="418.7" font-size="7.2" fill="#131722" text-anchor="middle">Jun</text>
<text class="k2" x="528.2" y="418.7" font-size="7.2" fill="#131722" text-anchor="middle">Jul</text>
<text class="k2" x="569.2" y="418.7" font-size="7.2" fill="#131722" text-anchor="middle">Aug</text>
<text class="k2" x="609.2" y="418.7" font-size="7.2" fill="#131722" text-anchor="middle">Sep</text>
<text class="k2" x="646.2" y="418.7" font-size="7.2" fill="#131722" text-anchor="middle">Oct</text>
<text class="k2" x="689.2" y="418.7" font-size="7.2" fill="#131722" text-anchor="middle">Nov</text>
<text class="k2" x="725.8" y="418.7" font-size="7.2" fill="#131722" text-anchor="middle">Dec</text>
<text class="k2" x="764.2" y="418.7" font-size="7.2" fill="#131722" text-anchor="middle" font-weight="bold">2025</text>
<text class="k2" x="801.2" y="418.7" font-size="7.2" fill="#131722" text-anchor="middle">Feb</text>
<text class="k2" x="836.2" y="418.7" font-size="7.2" fill="#131722" text-anchor="middle">Mar</text>
<text class="k2" x="875.2" y="418.7" font-size="7.2" fill="#131722" text-anchor="middle">Apr</text>
<text class="k2" x="914.2" y="418.7" font-size="7.2" fill="#131722" text-anchor="middle">May</text>
<text class="k2" x="953.2" y="418.7" font-size="7.2" fill="#131722" text-anchor="middle">Jun</text>
<text class="k" x="989.5" y="399.5" font-size="8.5" fill="#131722" textLength="22.4" lengthAdjust="spacingAndGlyphs">150.00</text>
<text class="k" x="989.5" y="362.4" font-size="8.5" fill="#131722" textLength="22.4" lengthAdjust="spacingAndGlyphs">160.00</text>
<text class="k" x="989.5" y="325.3" font-size="8.5" fill="#131722" textLength="22.4" lengthAdjust="spacingAndGlyphs">170.00</text>
<text class="k" x="989.5" y="288.2" font-size="8.5" fill="#131722" textLength="22.4" lengthAdjust="spacingAndGlyphs">180.00</text>
<text class="k" x="989.5" y="251.1" font-size="8.5" fill="#131722" textLength="22.4" lengthAdjust="spacingAndGlyphs">190.00</text>
<text class="k" x="989.5" y="176.9" font-size="8.5" fill="#131722" textLength="22.4" lengthAdjust="spacingAndGlyphs">210.00</text>
<text class="k" x="989.5" y="139.8" font-size="8.5" fill="#131722" textLength="22.4" lengthAdjust="spacingAndGlyphs">220.00</text>
<text class="k" x="989.5" y="65.6" font-size="8.5" fill="#131722" textLength="22.4" lengthAdjust="spacingAndGlyphs">240.00</text>
<text class="k" x="989.5" y="102.7" font-size="8.5" fill="#131722" textLength="22.4" lengthAdjust="spacingAndGlyphs">230.00</text>
<text class="k" x="989.5" y="214" font-size="8.5" fill="#131722" textLength="22.4" lengthAdjust="spacingAndGlyphs">200.00</text>
<rect x="984" y="66.5" width="31.2" height="10" rx="0.8" fill="#2962ff"/><text x="989.7" y="74.5" font-size="8.5" fill="#fff" stroke="#fff" stroke-width="0.2" textLength="22.4" lengthAdjust="spacingAndGlyphs">237.62</text>
<rect x="984" y="83.4" width="31.2" height="10.2" rx="0.8" fill="#089981"/><text x="989.7" y="91.5" font-size="8.5" fill="#fff" stroke="#fff" stroke-width="0.2" textLength="22.4" lengthAdjust="spacingAndGlyphs">232.93</text>
<rect x="984" y="100.5" width="31.2" height="10.6" rx="0.8" fill="#f23645"/><text x="989.7" y="108.8" font-size="8.5" fill="#fff" stroke="#fff" stroke-width="0.2" textLength="22.4" lengthAdjust="spacingAndGlyphs">226.84</text>
<rect x="984" y="111.1" width="31.2" height="10.2" rx="0.8" fill="#2962ff"/><text x="989.7" y="119.2" font-size="8.5" fill="#fff" stroke="#fff" stroke-width="0.2" textLength="22.4" lengthAdjust="spacingAndGlyphs">225.49</text>
<rect x="984" y="144.15" width="31.2" height="10.3" rx="0.8" fill="#2962ff"/><text x="989.7" y="152.3" font-size="8.5" fill="#fff" stroke="#fff" stroke-width="0.2" textLength="22.4" lengthAdjust="spacingAndGlyphs">216.62</text>
<rect x="966.9" y="157.2" width="48.3" height="10.4" rx="0.8" fill="#fb8c00"/>
<path d="M983.4 158.6V166.2" stroke="#fff" stroke-width="0.5" opacity="0.7"/>
<text x="970.3" y="165.2" font-size="7.8" fill="#fff" stroke="#fff" stroke-width="0.25" textLength="10.6" lengthAdjust="spacingAndGlyphs">Pre</text>
<text x="989.7" y="165.4" font-size="8.5" fill="#fff" stroke="#fff" stroke-width="0.2" textLength="22.4" lengthAdjust="spacingAndGlyphs">210.30</text>
<rect x="984" y="167.5" width="31.2" height="10.8" rx="0.8" fill="#089981"/><text x="989.7" y="175.9" font-size="8.5" fill="#fff" stroke="#fff" stroke-width="0.2" textLength="22.4" lengthAdjust="spacingAndGlyphs">210.14</text>
<rect x="984" y="178.4" width="31.2" height="11" rx="0.8" fill="#2962ff"/><text x="989.7" y="186.9" font-size="8.5" fill="#fff" stroke="#fff" stroke-width="0.2" textLength="22.4" lengthAdjust="spacingAndGlyphs">208.78</text>
<rect x="984" y="189.3" width="31.2" height="10.8" rx="0.8" fill="#787b86"/><text x="989.7" y="197.7" font-size="8.5" fill="#fff" stroke="#fff" stroke-width="0.2" textLength="22.4" lengthAdjust="spacingAndGlyphs">206.35</text>
<rect x="984" y="201.35" width="31.2" height="10.7" rx="0.8" fill="#2962ff"/><text x="989.7" y="209.7" font-size="8.5" fill="#fff" stroke="#fff" stroke-width="0.2" textLength="22.4" lengthAdjust="spacingAndGlyphs">201.16</text>
<rect x="984" y="232.4" width="31.2" height="10.7" rx="0.8" fill="#f23645"/><text x="989.7" y="240.75" font-size="8.5" fill="#fff" stroke="#fff" stroke-width="0.2" textLength="22.4" lengthAdjust="spacingAndGlyphs">192.76</text>
<rect x="984" y="296.65" width="31.2" height="10.7" rx="0.8" fill="#089981"/><text x="989.7" y="305" font-size="8.5" fill="#fff" stroke="#fff" stroke-width="0.2" textLength="22.4" lengthAdjust="spacingAndGlyphs">175.48</text>
<path d="M984 39.3H1015.2" stroke="#2962ff" stroke-width="1.1"/>
<rect x="986" y="19.4" width="29.2" height="16.8" rx="2" fill="#fff" stroke="#eef0f4" stroke-width="0.8"/>
<text class="k" x="991.8" y="30.6" font-size="7.9" fill="#131722" textLength="13.4" lengthAdjust="spacingAndGlyphs">USD</text>
<rect x="6.5" y="17" width="1011.5" height="407.5" fill="none" stroke="#f0f1f3" stroke-width="1"/>
<text class="k" x="6.4" y="11.9" font-size="8" fill="#131722" textLength="273.8" lengthAdjust="spacingAndGlyphs">decentTruffle68182 published on TradingView.com, Apr 29, 2025 17:09 UTC+5:30</text>
<text x="11.4" y="28.9" font-size="8" fill="#131722" stroke="#131722" stroke-width="0.2" textLength="81.7" lengthAdjust="spacingAndGlyphs">Apple Inc · 1D · NASDAQ</text>
<text x="97.8" y="28.9" font-size="8" fill="#131722" stroke="#131722" stroke-width="0.2" textLength="4.9" lengthAdjust="spacingAndGlyphs">O</text>
<text x="103.3" y="28.9" font-size="8" fill="#089981" stroke="#089981" stroke-width="0.2" textLength="22.4" lengthAdjust="spacingAndGlyphs">210.00</text>
<text x="130.4" y="28.9" font-size="8" fill="#131722" stroke="#131722" stroke-width="0.2" textLength="4.9" lengthAdjust="spacingAndGlyphs">H</text>
<text x="135.9" y="28.9" font-size="8" fill="#089981" stroke="#089981" stroke-width="0.2" textLength="22.1" lengthAdjust="spacingAndGlyphs">211.50</text>
<text x="162.7" y="28.9" font-size="8" fill="#131722" stroke="#131722" stroke-width="0.2" textLength="3.5" lengthAdjust="spacingAndGlyphs">L</text>
<text x="166.6" y="28.9" font-size="8" fill="#089981" stroke="#089981" stroke-width="0.2" textLength="22" lengthAdjust="spacingAndGlyphs">207.46</text>
<text x="193.5" y="28.9" font-size="8" fill="#131722" stroke="#131722" stroke-width="0.2" textLength="4.5" lengthAdjust="spacingAndGlyphs">C</text>
<text x="198.6" y="28.9" font-size="8" fill="#089981" stroke="#089981" stroke-width="0.2" textLength="21.9" lengthAdjust="spacingAndGlyphs">210.14</text>
<text x="225.4" y="28.9" font-size="8" fill="#089981" stroke="#089981" stroke-width="0.2" textLength="49.2" lengthAdjust="spacingAndGlyphs">+0.86 (+0.41%)</text>
<text x="11.4" y="39.8" font-size="8" fill="#131722" stroke="#131722" stroke-width="0.2" textLength="73.5" lengthAdjust="spacingAndGlyphs">BB (20, SMA, close, 2)</text>
<text x="90.5" y="39.8" font-size="8" fill="#2962ff" stroke="#2962ff" stroke-width="0.2" textLength="22" lengthAdjust="spacingAndGlyphs">201.16</text>
<text x="117.9" y="39.8" font-size="8" fill="#f23645" stroke="#f23645" stroke-width="0.2" textLength="21.9" lengthAdjust="spacingAndGlyphs">226.84</text>
<text x="145.3" y="39.8" font-size="8" fill="#089981" stroke="#089981" stroke-width="0.2" textLength="22.2" lengthAdjust="spacingAndGlyphs">175.48</text>
<g fill="#131722">
<path d="M6.3 432.5H10.9V438.7H8.4V434.9H6.3Z"/>
<circle cx="12.7" cy="433.8" r="1.3"/>
<path d="M14.3 432.5H18.7L15.9 438.7H12.2Z"/>
</g>
<text class="k" x="21.2" y="438.7" font-size="8.2" fill="#131722" textLength="43.8" lengthAdjust="spacingAndGlyphs">TradingView</text>
</svg>
</body></html>
